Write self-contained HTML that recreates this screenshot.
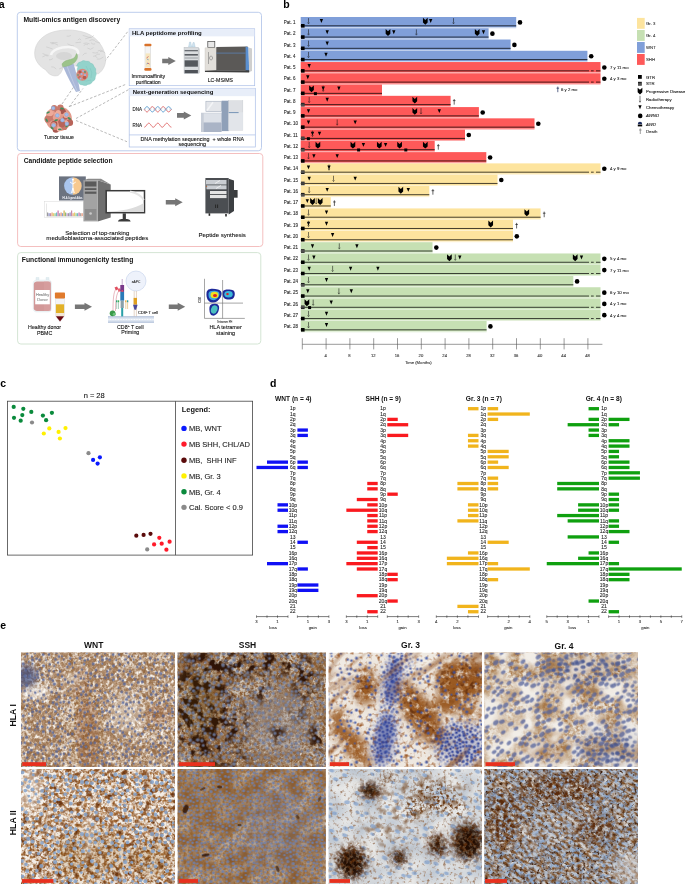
<!DOCTYPE html><html><head><meta charset="utf-8"><style>
html,body{margin:0;padding:0;background:#fff;width:685px;height:884px;overflow:hidden;}
svg{position:absolute;left:0;top:0;font-family:"Liberation Sans", sans-serif;will-change:transform;}
</style></head><body>
<svg width="685" height="884" viewBox="0 0 685 884">
<text x="-1.2" y="7.8" font-size="10.5" font-weight="bold">a</text>
<text x="283.2" y="7.7" font-size="10.5" font-weight="bold">b</text>
<text x="0.3" y="386.9" font-size="10.5" font-weight="bold">c</text>
<text x="270" y="386.9" font-size="10.5" font-weight="bold">d</text>
<text x="0.3" y="629" font-size="10.5" font-weight="bold">e</text>
<rect x="300.7" y="17.00" width="215.50" height="10.4" fill="#809fd9"/>
<rect x="300.7" y="27.40" width="215.50" height="0.86" fill="#c4d2ee"/>
<rect x="300.7" y="25.30" width="215.50" height="1.0" fill="#000" fill-opacity="0.72"/>
<text x="283.8" y="24.00" font-size="4.5" fill="#2a2a2a" stroke="#2a2a2a" stroke-width="0.1">Pat. 1</text>
<rect x="301.00" y="24.00" width="3.6" height="3.6" fill="#000"/>
<path d="M308.50,18.10V22.70" stroke="#111" stroke-width="0.55" fill="none"/><path d="M307.70,22.50L308.50,23.90L309.30,22.50" stroke="#111" stroke-width="0.55" fill="none"/>
<path d="M319.75,19.05h3.30l-1.65,3.90z" fill="#000"/>
<path d="M422.95,17.85 L425.30,20.06 L427.65,17.85 L427.65,22.54 L425.30,24.75 L422.95,22.54Z" fill="#000"/>
<path d="M429.05,19.05h3.30l-1.65,3.90z" fill="#000"/>
<path d="M453.50,18.10V22.70" stroke="#111" stroke-width="0.55" fill="none"/><path d="M452.70,22.50L453.50,23.90L454.30,22.50" stroke="#111" stroke-width="0.55" fill="none"/>
<circle cx="520.00" cy="22.40" r="2.3" fill="#000"/>
<rect x="300.7" y="28.26" width="187.90" height="10.4" fill="#809fd9"/>
<rect x="300.7" y="38.66" width="187.90" height="0.86" fill="#c4d2ee"/>
<rect x="300.7" y="36.56" width="187.90" height="1.0" fill="#000" fill-opacity="0.72"/>
<text x="283.8" y="35.26" font-size="4.5" fill="#2a2a2a" stroke="#2a2a2a" stroke-width="0.1">Pat. 2</text>
<rect x="301.00" y="35.26" width="3.6" height="3.6" fill="#000"/>
<path d="M308.50,29.36V33.96" stroke="#111" stroke-width="0.55" fill="none"/><path d="M307.70,33.76L308.50,35.16L309.30,33.76" stroke="#111" stroke-width="0.55" fill="none"/>
<path d="M325.55,30.31h3.30l-1.65,3.90z" fill="#000"/>
<path d="M385.65,29.11 L388.00,31.32 L390.35,29.11 L390.35,33.80 L388.00,36.01 L385.65,33.80Z" fill="#000"/>
<path d="M392.15,30.31h3.30l-1.65,3.90z" fill="#000"/>
<path d="M416.40,29.36V33.96" stroke="#111" stroke-width="0.55" fill="none"/><path d="M415.60,33.76L416.40,35.16L417.20,33.76" stroke="#111" stroke-width="0.55" fill="none"/>
<path d="M474.85,29.11 L477.20,31.32 L479.55,29.11 L479.55,33.80 L477.20,36.01 L474.85,33.80Z" fill="#000"/>
<path d="M481.85,30.31h3.30l-1.65,3.90z" fill="#000"/>
<circle cx="492.40" cy="33.66" r="2.3" fill="#000"/>
<rect x="300.7" y="39.52" width="209.90" height="10.4" fill="#809fd9"/>
<rect x="300.7" y="49.92" width="209.90" height="0.86" fill="#c4d2ee"/>
<rect x="300.7" y="47.82" width="209.90" height="1.0" fill="#000" fill-opacity="0.72"/>
<text x="283.8" y="46.52" font-size="4.5" fill="#2a2a2a" stroke="#2a2a2a" stroke-width="0.1">Pat. 3</text>
<rect x="301.00" y="46.52" width="3.6" height="3.6" fill="#000"/>
<path d="M308.50,40.62V45.22" stroke="#111" stroke-width="0.55" fill="none"/><path d="M307.70,45.02L308.50,46.42L309.30,45.02" stroke="#111" stroke-width="0.55" fill="none"/>
<path d="M325.55,41.57h3.30l-1.65,3.90z" fill="#000"/>
<circle cx="514.40" cy="44.92" r="2.3" fill="#000"/>
<rect x="300.7" y="50.78" width="286.70" height="10.4" fill="#809fd9"/>
<rect x="300.7" y="61.18" width="286.70" height="0.86" fill="#c4d2ee"/>
<rect x="300.7" y="59.08" width="286.70" height="1.0" fill="#000" fill-opacity="0.72"/>
<text x="283.8" y="57.78" font-size="4.5" fill="#2a2a2a" stroke="#2a2a2a" stroke-width="0.1">Pat. 4</text>
<rect x="301.00" y="57.78" width="3.6" height="3.6" fill="#000"/>
<path d="M308.50,51.88V56.48" stroke="#111" stroke-width="0.55" fill="none"/><path d="M307.70,56.28L308.50,57.68L309.30,56.28" stroke="#111" stroke-width="0.55" fill="none"/>
<path d="M324.35,52.83h3.30l-1.65,3.90z" fill="#000"/>
<circle cx="591.20" cy="56.18" r="2.3" fill="#000"/>
<rect x="300.7" y="62.04" width="299.80" height="10.4" fill="#fe5959"/>
<rect x="300.7" y="72.44" width="299.80" height="0.86" fill="#fca0a0"/>
<rect x="300.7" y="70.34" width="288.30" height="1.0" fill="#000" fill-opacity="0.72"/>
<rect x="591" y="70.34" width="2.7" height="1.0" fill="#000" fill-opacity="0.72"/>
<rect x="596" y="70.34" width="4.50" height="1.0" fill="#000" fill-opacity="0.72"/>
<text x="283.8" y="69.04" font-size="4.5" fill="#2a2a2a" stroke="#2a2a2a" stroke-width="0.1">Pat. 5</text>
<rect x="301.00" y="69.04" width="3.6" height="3.6" fill="#000"/>
<path d="M307.55,64.09h3.30l-1.65,3.90z" fill="#000"/>
<circle cx="604.30" cy="67.44" r="2.3" fill="#000"/>
<text x="610" y="68.94" font-size="4.3" fill="#222" stroke="#222" stroke-width="0.1">7 y 11 mo</text>
<rect x="300.7" y="73.30" width="299.80" height="10.4" fill="#fe5959"/>
<rect x="300.7" y="83.70" width="299.80" height="0.86" fill="#fca0a0"/>
<rect x="300.7" y="81.60" width="288.30" height="1.0" fill="#000" fill-opacity="0.72"/>
<rect x="591" y="81.60" width="2.7" height="1.0" fill="#000" fill-opacity="0.72"/>
<rect x="596" y="81.60" width="4.50" height="1.0" fill="#000" fill-opacity="0.72"/>
<text x="283.8" y="80.30" font-size="4.5" fill="#2a2a2a" stroke="#2a2a2a" stroke-width="0.1">Pat. 6</text>
<rect x="301.00" y="80.30" width="3.6" height="3.6" fill="#000"/>
<path d="M306.15,75.35h3.30l-1.65,3.90z" fill="#000"/>
<circle cx="604.30" cy="78.70" r="2.3" fill="#000"/>
<text x="610" y="80.20" font-size="4.3" fill="#222" stroke="#222" stroke-width="0.1">4 y 3 mo</text>
<rect x="300.7" y="84.56" width="81.30" height="10.4" fill="#fe5959"/>
<rect x="300.7" y="94.96" width="81.30" height="0.86" fill="#fca0a0"/>
<rect x="300.7" y="92.86" width="81.30" height="1.0" fill="#000" fill-opacity="0.72"/>
<text x="283.8" y="91.56" font-size="4.5" fill="#2a2a2a" stroke="#2a2a2a" stroke-width="0.1">Pat. 7</text>
<rect x="301.00" y="91.56" width="3.6" height="3.6" fill="#000"/>
<path d="M309.15,85.41 L311.50,87.62 L313.85,85.41 L313.85,90.10 L311.50,92.31 L309.15,90.10Z" fill="#000"/>
<rect x="313.90" y="92.16" width="3.0" height="3.0" fill="#000"/>
<path d="M321.55,86.61h3.30l-1.65,3.90z" fill="#000"/>
<path d="M323.20,85.66V90.26" stroke="#111" stroke-width="0.55" fill="none"/><path d="M322.40,90.06L323.20,91.46L324.00,90.06" stroke="#111" stroke-width="0.55" fill="none"/>
<path d="M337.25,86.61h3.30l-1.65,3.90z" fill="#000"/>
<rect x="300.7" y="95.82" width="149.90" height="10.4" fill="#fe5959"/>
<rect x="300.7" y="106.22" width="149.90" height="0.86" fill="#fca0a0"/>
<rect x="300.7" y="104.12" width="149.90" height="1.0" fill="#000" fill-opacity="0.72"/>
<text x="283.8" y="102.82" font-size="4.5" fill="#2a2a2a" stroke="#2a2a2a" stroke-width="0.1">Pat. 8</text>
<rect x="301.00" y="102.82" width="3.6" height="3.6" fill="#1a1a1a"/><rect x="301.00" y="103.90" width="3.6" height="0.43" fill="#999"/><rect x="301.00" y="104.98" width="3.6" height="0.43" fill="#999"/>
<path d="M309.20,96.92V101.52" stroke="#111" stroke-width="0.55" fill="none"/><path d="M308.40,101.32L309.20,102.72L310.00,101.32" stroke="#111" stroke-width="0.55" fill="none"/>
<path d="M325.55,97.87h3.30l-1.65,3.90z" fill="#000"/>
<path d="M412.45,96.67 L414.80,98.88 L417.15,96.67 L417.15,101.36 L414.80,103.57 L412.45,101.36Z" fill="#000"/>
<path d="M454.20,99.02V104.62M452.90,100.62H455.50" stroke="#222" stroke-width="0.7" fill="none"/>
<rect x="300.7" y="107.08" width="178.20" height="10.4" fill="#fe5959"/>
<rect x="300.7" y="117.48" width="178.20" height="0.86" fill="#fca0a0"/>
<rect x="300.7" y="115.38" width="178.20" height="1.0" fill="#000" fill-opacity="0.72"/>
<text x="283.8" y="114.08" font-size="4.5" fill="#2a2a2a" stroke="#2a2a2a" stroke-width="0.1">Pat. 9</text>
<rect x="301.00" y="114.08" width="3.6" height="3.6" fill="#000"/>
<path d="M306.85,109.13h3.30l-1.65,3.90z" fill="#000"/>
<path d="M412.45,107.93 L414.80,110.14 L417.15,107.93 L417.15,112.62 L414.80,114.83 L412.45,112.62Z" fill="#000"/>
<path d="M421.00,108.18V112.78" stroke="#111" stroke-width="0.55" fill="none"/><path d="M420.20,112.58L421.00,113.98L421.80,112.58" stroke="#111" stroke-width="0.55" fill="none"/>
<path d="M437.65,109.13h3.30l-1.65,3.90z" fill="#000"/>
<circle cx="482.70" cy="112.48" r="2.3" fill="#000"/>
<rect x="300.7" y="118.34" width="233.80" height="10.4" fill="#fe5959"/>
<rect x="300.7" y="128.74" width="233.80" height="0.86" fill="#fca0a0"/>
<rect x="300.7" y="126.64" width="233.80" height="1.0" fill="#000" fill-opacity="0.72"/>
<text x="283.8" y="125.34" font-size="4.5" fill="#2a2a2a" stroke="#2a2a2a" stroke-width="0.1">Pat. 10</text>
<rect x="301.00" y="125.34" width="3.6" height="3.6" fill="#000"/>
<path d="M306.85,120.39h3.30l-1.65,3.90z" fill="#000"/>
<path d="M337.20,119.44V124.04" stroke="#111" stroke-width="0.55" fill="none"/><path d="M336.40,123.84L337.20,125.24L338.00,123.84" stroke="#111" stroke-width="0.55" fill="none"/>
<path d="M353.55,120.39h3.30l-1.65,3.90z" fill="#000"/>
<circle cx="538.30" cy="123.74" r="2.3" fill="#000"/>
<rect x="300.7" y="129.60" width="164.30" height="10.4" fill="#fe5959"/>
<rect x="300.7" y="140.00" width="164.30" height="0.86" fill="#fca0a0"/>
<rect x="300.7" y="137.90" width="164.30" height="1.0" fill="#000" fill-opacity="0.72"/>
<text x="283.8" y="136.60" font-size="4.5" fill="#2a2a2a" stroke="#2a2a2a" stroke-width="0.1">Pat. 11</text>
<rect x="301.00" y="136.60" width="3.6" height="3.6" fill="#1a1a1a"/><rect x="301.00" y="137.68" width="3.6" height="0.43" fill="#999"/><rect x="301.00" y="138.76" width="3.6" height="0.43" fill="#999"/>
<rect x="306.90" y="137.20" width="3.0" height="3.0" fill="#000"/>
<path d="M310.85,131.65h3.30l-1.65,3.90z" fill="#000"/>
<path d="M312.50,130.70V135.30" stroke="#111" stroke-width="0.55" fill="none"/><path d="M311.70,135.10L312.50,136.50L313.30,135.10" stroke="#111" stroke-width="0.55" fill="none"/>
<path d="M317.85,131.65h3.30l-1.65,3.90z" fill="#000"/>
<circle cx="468.80" cy="135.00" r="2.3" fill="#000"/>
<rect x="300.7" y="140.86" width="134.00" height="10.4" fill="#fe5959"/>
<rect x="300.7" y="151.26" width="134.00" height="0.86" fill="#fca0a0"/>
<rect x="300.7" y="149.16" width="134.00" height="1.0" fill="#000" fill-opacity="0.72"/>
<text x="283.8" y="147.86" font-size="4.5" fill="#2a2a2a" stroke="#2a2a2a" stroke-width="0.1">Pat. 12</text>
<rect x="301.00" y="147.86" width="3.6" height="3.6" fill="#1a1a1a"/><rect x="301.00" y="148.94" width="3.6" height="0.43" fill="#999"/><rect x="301.00" y="150.02" width="3.6" height="0.43" fill="#999"/>
<path d="M309.20,141.96V146.56" stroke="#111" stroke-width="0.55" fill="none"/><path d="M308.40,146.36L309.20,147.76L310.00,146.36" stroke="#111" stroke-width="0.55" fill="none"/>
<path d="M315.55,141.71 L317.90,143.92 L320.25,141.71 L320.25,146.40 L317.90,148.61 L315.55,146.40Z" fill="#000"/>
<path d="M350.55,141.71 L352.90,143.92 L355.25,141.71 L355.25,146.40 L352.90,148.61 L350.55,146.40Z" fill="#000"/>
<rect x="357.10" y="148.46" width="3.0" height="3.0" fill="#000"/>
<path d="M361.75,142.91h3.30l-1.65,3.90z" fill="#000"/>
<path d="M376.95,141.71 L379.30,143.92 L381.65,141.71 L381.65,146.40 L379.30,148.61 L376.95,146.40Z" fill="#000"/>
<path d="M383.95,142.91h3.30l-1.65,3.90z" fill="#000"/>
<path d="M397.25,141.71 L399.60,143.92 L401.95,141.71 L401.95,146.40 L399.60,148.61 L397.25,146.40Z" fill="#000"/>
<rect x="404.30" y="148.46" width="3.0" height="3.0" fill="#000"/>
<path d="M422.95,141.71 L425.30,143.92 L427.65,141.71 L427.65,146.40 L425.30,148.61 L422.95,146.40Z" fill="#000"/>
<path d="M438.30,144.06V149.66M437.00,145.66H439.60" stroke="#222" stroke-width="0.7" fill="none"/>
<rect x="300.7" y="152.12" width="185.60" height="10.4" fill="#fe5959"/>
<rect x="300.7" y="162.52" width="185.60" height="0.86" fill="#fca0a0"/>
<rect x="300.7" y="160.42" width="185.60" height="1.0" fill="#000" fill-opacity="0.72"/>
<text x="283.8" y="159.12" font-size="4.5" fill="#2a2a2a" stroke="#2a2a2a" stroke-width="0.1">Pat. 13</text>
<rect x="301.00" y="159.12" width="3.6" height="3.6" fill="#000"/>
<path d="M308.50,153.22V157.82" stroke="#111" stroke-width="0.55" fill="none"/><path d="M307.70,157.62L308.50,159.02L309.30,157.62" stroke="#111" stroke-width="0.55" fill="none"/>
<path d="M312.25,154.17h3.30l-1.65,3.90z" fill="#000"/>
<path d="M335.55,154.17h3.30l-1.65,3.90z" fill="#000"/>
<circle cx="490.10" cy="157.52" r="2.3" fill="#000"/>
<rect x="300.7" y="163.38" width="299.80" height="10.4" fill="#fde49e"/>
<rect x="300.7" y="173.78" width="299.80" height="0.86" fill="#fdf0cc"/>
<rect x="300.7" y="171.68" width="288.30" height="1.0" fill="#000" fill-opacity="0.72"/>
<rect x="591" y="171.68" width="2.7" height="1.0" fill="#000" fill-opacity="0.72"/>
<rect x="596" y="171.68" width="4.50" height="1.0" fill="#000" fill-opacity="0.72"/>
<text x="283.8" y="170.38" font-size="4.5" fill="#2a2a2a" stroke="#2a2a2a" stroke-width="0.1">Pat. 14</text>
<rect x="301.00" y="170.38" width="3.6" height="3.6" fill="#1a1a1a"/><rect x="301.00" y="171.46" width="3.6" height="0.43" fill="#999"/><rect x="301.00" y="172.54" width="3.6" height="0.43" fill="#999"/>
<path d="M306.85,165.43h3.30l-1.65,3.90z" fill="#000"/>
<path d="M327.35,165.43h3.30l-1.65,3.90z" fill="#000"/>
<path d="M329.00,164.48V169.08" stroke="#111" stroke-width="0.55" fill="none"/><path d="M328.20,168.88L329.00,170.28L329.80,168.88" stroke="#111" stroke-width="0.55" fill="none"/>
<circle cx="604.30" cy="168.78" r="2.3" fill="#000"/>
<text x="610" y="170.28" font-size="4.3" fill="#222" stroke="#222" stroke-width="0.1">4 y 9 mo</text>
<rect x="300.7" y="174.64" width="196.80" height="10.4" fill="#fde49e"/>
<rect x="300.7" y="185.04" width="196.80" height="0.86" fill="#fdf0cc"/>
<rect x="300.7" y="182.94" width="196.80" height="1.0" fill="#000" fill-opacity="0.72"/>
<text x="283.8" y="181.64" font-size="4.5" fill="#2a2a2a" stroke="#2a2a2a" stroke-width="0.1">Pat. 15</text>
<rect x="301.00" y="181.64" width="3.6" height="3.6" fill="#1a1a1a"/><rect x="301.00" y="182.72" width="3.6" height="0.43" fill="#999"/><rect x="301.00" y="183.80" width="3.6" height="0.43" fill="#999"/>
<path d="M307.55,176.69h3.30l-1.65,3.90z" fill="#000"/>
<path d="M333.50,175.74V180.34" stroke="#111" stroke-width="0.55" fill="none"/><path d="M332.70,180.14L333.50,181.54L334.30,180.14" stroke="#111" stroke-width="0.55" fill="none"/>
<path d="M353.55,176.69h3.30l-1.65,3.90z" fill="#000"/>
<circle cx="501.30" cy="180.04" r="2.3" fill="#000"/>
<rect x="300.7" y="185.90" width="128.60" height="10.4" fill="#fde49e"/>
<rect x="300.7" y="196.30" width="128.60" height="0.86" fill="#fdf0cc"/>
<rect x="300.7" y="194.20" width="128.60" height="1.0" fill="#000" fill-opacity="0.72"/>
<text x="283.8" y="192.90" font-size="4.5" fill="#2a2a2a" stroke="#2a2a2a" stroke-width="0.1">Pat. 16</text>
<rect x="301.00" y="192.90" width="3.6" height="3.6" fill="#1a1a1a"/><rect x="301.00" y="193.98" width="3.6" height="0.43" fill="#999"/><rect x="301.00" y="195.06" width="3.6" height="0.43" fill="#999"/>
<path d="M309.20,187.00V191.60" stroke="#111" stroke-width="0.55" fill="none"/><path d="M308.40,191.40L309.20,192.80L310.00,191.40" stroke="#111" stroke-width="0.55" fill="none"/>
<path d="M325.55,187.95h3.30l-1.65,3.90z" fill="#000"/>
<path d="M398.45,186.75 L400.80,188.96 L403.15,186.75 L403.15,191.44 L400.80,193.65 L398.45,191.44Z" fill="#000"/>
<path d="M406.65,187.95h3.30l-1.65,3.90z" fill="#000"/>
<path d="M432.90,189.10V194.70M431.60,190.70H434.20" stroke="#222" stroke-width="0.7" fill="none"/>
<rect x="300.7" y="197.16" width="30.10" height="10.4" fill="#fde49e"/>
<rect x="300.7" y="207.56" width="30.10" height="0.86" fill="#fdf0cc"/>
<rect x="300.7" y="205.46" width="30.10" height="1.0" fill="#000" fill-opacity="0.72"/>
<text x="283.8" y="204.16" font-size="4.5" fill="#2a2a2a" stroke="#2a2a2a" stroke-width="0.1">Pat. 17</text>
<rect x="301.00" y="204.16" width="3.6" height="3.6" fill="#000"/>
<path d="M305.65,199.21h3.30l-1.65,3.90z" fill="#000"/>
<path d="M310.15,198.01 L312.50,200.22 L314.85,198.01 L314.85,202.70 L312.50,204.91 L310.15,202.70Z" fill="#000"/>
<path d="M316.20,198.26V202.86" stroke="#111" stroke-width="0.55" fill="none"/><path d="M315.40,202.66L316.20,204.06L317.00,202.66" stroke="#111" stroke-width="0.55" fill="none"/>
<path d="M317.85,198.01 L320.20,200.22 L322.55,198.01 L322.55,202.70 L320.20,204.91 L317.85,202.70Z" fill="#000"/>
<path d="M334.40,200.36V205.96M333.10,201.96H335.70" stroke="#222" stroke-width="0.7" fill="none"/>
<rect x="300.7" y="208.42" width="239.90" height="10.4" fill="#fde49e"/>
<rect x="300.7" y="218.82" width="239.90" height="0.86" fill="#fdf0cc"/>
<rect x="300.7" y="216.72" width="239.90" height="1.0" fill="#000" fill-opacity="0.72"/>
<text x="283.8" y="215.42" font-size="4.5" fill="#2a2a2a" stroke="#2a2a2a" stroke-width="0.1">Pat. 18</text>
<rect x="301.00" y="215.42" width="3.6" height="3.6" fill="#000"/>
<path d="M308.50,209.52V214.12" stroke="#111" stroke-width="0.55" fill="none"/><path d="M307.70,213.92L308.50,215.32L309.30,213.92" stroke="#111" stroke-width="0.55" fill="none"/>
<path d="M324.85,210.47h3.30l-1.65,3.90z" fill="#000"/>
<path d="M524.45,209.27 L526.80,211.48 L529.15,209.27 L529.15,213.96 L526.80,216.17 L524.45,213.96Z" fill="#000"/>
<path d="M544.20,211.62V217.22M542.90,213.22H545.50" stroke="#222" stroke-width="0.7" fill="none"/>
<rect x="300.7" y="219.68" width="212.30" height="10.4" fill="#fde49e"/>
<rect x="300.7" y="230.08" width="212.30" height="0.86" fill="#fdf0cc"/>
<rect x="300.7" y="227.98" width="212.30" height="1.0" fill="#000" fill-opacity="0.72"/>
<text x="283.8" y="226.68" font-size="4.5" fill="#2a2a2a" stroke="#2a2a2a" stroke-width="0.1">Pat. 19</text>
<rect x="301.00" y="226.68" width="3.6" height="3.6" fill="#000"/>
<path d="M306.85,221.73h3.30l-1.65,3.90z" fill="#000"/>
<path d="M308.50,220.78V225.38" stroke="#111" stroke-width="0.55" fill="none"/><path d="M307.70,225.18L308.50,226.58L309.30,225.18" stroke="#111" stroke-width="0.55" fill="none"/>
<path d="M324.85,221.73h3.30l-1.65,3.90z" fill="#000"/>
<path d="M488.35,220.53 L490.70,222.74 L493.05,220.53 L493.05,225.22 L490.70,227.43 L488.35,225.22Z" fill="#000"/>
<path d="M516.60,222.88V228.48M515.30,224.48H517.90" stroke="#222" stroke-width="0.7" fill="none"/>
<rect x="300.7" y="230.94" width="212.30" height="10.4" fill="#fde49e"/>
<rect x="300.7" y="241.34" width="212.30" height="0.86" fill="#fdf0cc"/>
<rect x="300.7" y="239.24" width="212.30" height="1.0" fill="#000" fill-opacity="0.72"/>
<text x="283.8" y="237.94" font-size="4.5" fill="#2a2a2a" stroke="#2a2a2a" stroke-width="0.1">Pat. 20</text>
<rect x="301.00" y="237.94" width="3.6" height="3.6" fill="#000"/>
<path d="M308.50,232.04V236.64" stroke="#111" stroke-width="0.55" fill="none"/><path d="M307.70,236.44L308.50,237.84L309.30,236.44" stroke="#111" stroke-width="0.55" fill="none"/>
<path d="M330.95,232.99h3.30l-1.65,3.90z" fill="#000"/>
<circle cx="516.80" cy="236.34" r="2.3" fill="#000"/>
<rect x="300.7" y="242.20" width="131.80" height="10.4" fill="#c6e0b3"/>
<rect x="300.7" y="252.60" width="131.80" height="0.86" fill="#e0eed6"/>
<rect x="300.7" y="250.50" width="131.80" height="1.0" fill="#000" fill-opacity="0.72"/>
<text x="283.8" y="249.20" font-size="4.5" fill="#2a2a2a" stroke="#2a2a2a" stroke-width="0.1">Pat. 21</text>
<rect x="301.00" y="249.20" width="3.6" height="3.6" fill="#1a1a1a"/><rect x="301.00" y="250.28" width="3.6" height="0.43" fill="#999"/><rect x="301.00" y="251.36" width="3.6" height="0.43" fill="#999"/>
<path d="M310.85,244.25h3.30l-1.65,3.90z" fill="#000"/>
<path d="M339.30,243.30V247.90" stroke="#111" stroke-width="0.55" fill="none"/><path d="M338.50,247.70L339.30,249.10L340.10,247.70" stroke="#111" stroke-width="0.55" fill="none"/>
<path d="M355.25,244.25h3.30l-1.65,3.90z" fill="#000"/>
<circle cx="436.30" cy="247.60" r="2.3" fill="#000"/>
<rect x="300.7" y="253.46" width="299.80" height="10.4" fill="#c6e0b3"/>
<rect x="300.7" y="263.86" width="299.80" height="0.86" fill="#e0eed6"/>
<rect x="300.7" y="261.76" width="288.30" height="1.0" fill="#000" fill-opacity="0.72"/>
<rect x="591" y="261.76" width="2.7" height="1.0" fill="#000" fill-opacity="0.72"/>
<rect x="596" y="261.76" width="4.50" height="1.0" fill="#000" fill-opacity="0.72"/>
<text x="283.8" y="260.46" font-size="4.5" fill="#2a2a2a" stroke="#2a2a2a" stroke-width="0.1">Pat. 22</text>
<rect x="301.00" y="260.46" width="3.6" height="3.6" fill="#000"/>
<path d="M308.50,254.56V259.16" stroke="#111" stroke-width="0.55" fill="none"/><path d="M307.70,258.96L308.50,260.36L309.30,258.96" stroke="#111" stroke-width="0.55" fill="none"/>
<path d="M312.25,255.51h3.30l-1.65,3.90z" fill="#000"/>
<path d="M447.05,254.31 L449.40,256.52 L451.75,254.31 L451.75,259.00 L449.40,261.21 L447.05,259.00Z" fill="#000"/>
<path d="M455.30,254.56V259.16" stroke="#111" stroke-width="0.55" fill="none"/><path d="M454.50,258.96L455.30,260.36L456.10,258.96" stroke="#111" stroke-width="0.55" fill="none"/>
<path d="M458.15,255.51h3.30l-1.65,3.90z" fill="#000"/>
<path d="M572.85,254.31 L575.20,256.52 L577.55,254.31 L577.55,259.00 L575.20,261.21 L572.85,259.00Z" fill="#000"/>
<path d="M579.85,255.51h3.30l-1.65,3.90z" fill="#000"/>
<circle cx="604.30" cy="258.86" r="2.3" fill="#000"/>
<text x="610" y="260.36" font-size="4.3" fill="#222" stroke="#222" stroke-width="0.1">5 y 4 mo</text>
<rect x="300.7" y="264.72" width="299.80" height="10.4" fill="#c6e0b3"/>
<rect x="300.7" y="275.12" width="299.80" height="0.86" fill="#e0eed6"/>
<rect x="300.7" y="273.02" width="288.30" height="1.0" fill="#000" fill-opacity="0.72"/>
<rect x="591" y="273.02" width="2.7" height="1.0" fill="#000" fill-opacity="0.72"/>
<rect x="596" y="273.02" width="4.50" height="1.0" fill="#000" fill-opacity="0.72"/>
<text x="283.8" y="271.72" font-size="4.5" fill="#2a2a2a" stroke="#2a2a2a" stroke-width="0.1">Pat. 23</text>
<rect x="301.00" y="271.72" width="3.6" height="3.6" fill="#000"/>
<path d="M307.55,266.77h3.30l-1.65,3.90z" fill="#000"/>
<path d="M332.60,265.82V270.42" stroke="#111" stroke-width="0.55" fill="none"/><path d="M331.80,270.22L332.60,271.62L333.40,270.22" stroke="#111" stroke-width="0.55" fill="none"/>
<path d="M348.95,266.77h3.30l-1.65,3.90z" fill="#000"/>
<path d="M376.25,266.77h3.30l-1.65,3.90z" fill="#000"/>
<circle cx="604.30" cy="270.12" r="2.3" fill="#000"/>
<text x="610" y="271.62" font-size="4.3" fill="#222" stroke="#222" stroke-width="0.1">7 y 11 mo</text>
<rect x="300.7" y="275.98" width="272.60" height="10.4" fill="#c6e0b3"/>
<rect x="300.7" y="286.38" width="272.60" height="0.86" fill="#e0eed6"/>
<rect x="300.7" y="284.28" width="272.60" height="1.0" fill="#000" fill-opacity="0.72"/>
<text x="283.8" y="282.98" font-size="4.5" fill="#2a2a2a" stroke="#2a2a2a" stroke-width="0.1">Pat. 24</text>
<rect x="301.00" y="282.98" width="3.6" height="3.6" fill="#1a1a1a"/><rect x="301.00" y="284.06" width="3.6" height="0.43" fill="#999"/><rect x="301.00" y="285.14" width="3.6" height="0.43" fill="#999"/>
<path d="M308.50,277.08V281.68" stroke="#111" stroke-width="0.55" fill="none"/><path d="M307.70,281.48L308.50,282.88L309.30,281.48" stroke="#111" stroke-width="0.55" fill="none"/>
<path d="M324.85,278.03h3.30l-1.65,3.90z" fill="#000"/>
<circle cx="577.10" cy="281.38" r="2.3" fill="#000"/>
<rect x="300.7" y="287.24" width="299.80" height="10.4" fill="#c6e0b3"/>
<rect x="300.7" y="297.64" width="299.80" height="0.86" fill="#e0eed6"/>
<rect x="300.7" y="295.54" width="288.30" height="1.0" fill="#000" fill-opacity="0.72"/>
<rect x="591" y="295.54" width="2.7" height="1.0" fill="#000" fill-opacity="0.72"/>
<rect x="596" y="295.54" width="4.50" height="1.0" fill="#000" fill-opacity="0.72"/>
<text x="283.8" y="294.24" font-size="4.5" fill="#2a2a2a" stroke="#2a2a2a" stroke-width="0.1">Pat. 25</text>
<rect x="301.00" y="294.24" width="3.6" height="3.6" fill="#000"/>
<path d="M306.15,289.29h3.30l-1.65,3.90z" fill="#000"/>
<path d="M338.90,288.34V292.94" stroke="#111" stroke-width="0.55" fill="none"/><path d="M338.10,292.74L338.90,294.14L339.70,292.74" stroke="#111" stroke-width="0.55" fill="none"/>
<path d="M349.65,289.29h3.30l-1.65,3.90z" fill="#000"/>
<circle cx="604.30" cy="292.64" r="2.3" fill="#000"/>
<text x="610" y="294.14" font-size="4.3" fill="#222" stroke="#222" stroke-width="0.1">6 y 10 mo</text>
<rect x="300.7" y="298.50" width="299.80" height="10.4" fill="#c6e0b3"/>
<rect x="300.7" y="308.90" width="299.80" height="0.86" fill="#e0eed6"/>
<rect x="300.7" y="306.80" width="288.30" height="1.0" fill="#000" fill-opacity="0.72"/>
<rect x="591" y="306.80" width="2.7" height="1.0" fill="#000" fill-opacity="0.72"/>
<rect x="596" y="306.80" width="4.50" height="1.0" fill="#000" fill-opacity="0.72"/>
<text x="283.8" y="305.50" font-size="4.5" fill="#2a2a2a" stroke="#2a2a2a" stroke-width="0.1">Pat. 26</text>
<rect x="301.00" y="305.50" width="3.6" height="3.6" fill="#1a1a1a"/><rect x="301.00" y="306.58" width="3.6" height="0.43" fill="#999"/><rect x="301.00" y="307.66" width="3.6" height="0.43" fill="#999"/>
<path d="M304.55,299.35 L306.90,301.56 L309.25,299.35 L309.25,304.04 L306.90,306.25 L304.55,304.04Z" fill="#000"/>
<rect x="308.10" y="306.10" width="3.0" height="3.0" fill="#000"/>
<path d="M313.20,299.60V304.20" stroke="#111" stroke-width="0.55" fill="none"/><path d="M312.40,304.00L313.20,305.40L314.00,304.00" stroke="#111" stroke-width="0.55" fill="none"/>
<path d="M329.55,300.55h3.30l-1.65,3.90z" fill="#000"/>
<circle cx="604.30" cy="303.90" r="2.3" fill="#000"/>
<text x="610" y="305.40" font-size="4.3" fill="#222" stroke="#222" stroke-width="0.1">4 y 1 mo</text>
<rect x="300.7" y="309.76" width="299.80" height="10.4" fill="#c6e0b3"/>
<rect x="300.7" y="320.16" width="299.80" height="0.86" fill="#e0eed6"/>
<rect x="300.7" y="318.06" width="288.30" height="1.0" fill="#000" fill-opacity="0.72"/>
<rect x="591" y="318.06" width="2.7" height="1.0" fill="#000" fill-opacity="0.72"/>
<rect x="596" y="318.06" width="4.50" height="1.0" fill="#000" fill-opacity="0.72"/>
<text x="283.8" y="316.76" font-size="4.5" fill="#2a2a2a" stroke="#2a2a2a" stroke-width="0.1">Pat. 27</text>
<rect x="301.00" y="316.76" width="3.6" height="3.6" fill="#000"/>
<path d="M308.50,310.86V315.46" stroke="#111" stroke-width="0.55" fill="none"/><path d="M307.70,315.26L308.50,316.66L309.30,315.26" stroke="#111" stroke-width="0.55" fill="none"/>
<path d="M324.85,311.81h3.30l-1.65,3.90z" fill="#000"/>
<circle cx="604.30" cy="315.16" r="2.3" fill="#000"/>
<text x="610" y="316.66" font-size="4.3" fill="#222" stroke="#222" stroke-width="0.1">4 y 4 mo</text>
<rect x="300.7" y="321.02" width="185.90" height="10.4" fill="#c6e0b3"/>
<rect x="300.7" y="331.42" width="185.90" height="0.86" fill="#e0eed6"/>
<rect x="300.7" y="329.32" width="185.90" height="1.0" fill="#000" fill-opacity="0.72"/>
<text x="283.8" y="328.02" font-size="4.5" fill="#2a2a2a" stroke="#2a2a2a" stroke-width="0.1">Pat. 28</text>
<rect x="301.00" y="328.02" width="3.6" height="3.6" fill="#000"/>
<path d="M308.50,322.12V326.72" stroke="#111" stroke-width="0.55" fill="none"/><path d="M307.70,326.52L308.50,327.92L309.30,326.52" stroke="#111" stroke-width="0.55" fill="none"/>
<path d="M324.85,323.07h3.30l-1.65,3.90z" fill="#000"/>
<circle cx="490.40" cy="326.42" r="2.3" fill="#000"/>
<path d="M557.80,86.60V92.20M556.50,88.20H559.10" stroke="#1a2a5a" stroke-width="0.7" fill="none"/>
<text x="561" y="90.9" font-size="4.3" fill="#222" stroke="#222" stroke-width="0.1">6 y 2 mo</text>
<path d="M302.3,344.3H602.4" stroke="#555" stroke-width="0.6"/>
<path d="M302.30,338.2V349.4" stroke="#555" stroke-width="0.6"/>
<path d="M326.10,338.2V349.4" stroke="#555" stroke-width="0.6"/>
<text x="325.70" y="357" font-size="4.2" fill="#333" text-anchor="middle" stroke="#333" stroke-width="0.1">4</text>
<path d="M349.90,338.2V349.4" stroke="#555" stroke-width="0.6"/>
<text x="349.50" y="357" font-size="4.2" fill="#333" text-anchor="middle" stroke="#333" stroke-width="0.1">8</text>
<path d="M373.70,338.2V349.4" stroke="#555" stroke-width="0.6"/>
<text x="373.30" y="357" font-size="4.2" fill="#333" text-anchor="middle" stroke="#333" stroke-width="0.1">12</text>
<path d="M397.50,338.2V349.4" stroke="#555" stroke-width="0.6"/>
<text x="397.10" y="357" font-size="4.2" fill="#333" text-anchor="middle" stroke="#333" stroke-width="0.1">16</text>
<path d="M421.30,338.2V349.4" stroke="#555" stroke-width="0.6"/>
<text x="420.90" y="357" font-size="4.2" fill="#333" text-anchor="middle" stroke="#333" stroke-width="0.1">20</text>
<path d="M445.10,338.2V349.4" stroke="#555" stroke-width="0.6"/>
<text x="444.70" y="357" font-size="4.2" fill="#333" text-anchor="middle" stroke="#333" stroke-width="0.1">24</text>
<path d="M468.90,338.2V349.4" stroke="#555" stroke-width="0.6"/>
<text x="468.50" y="357" font-size="4.2" fill="#333" text-anchor="middle" stroke="#333" stroke-width="0.1">28</text>
<path d="M492.70,338.2V349.4" stroke="#555" stroke-width="0.6"/>
<text x="492.30" y="357" font-size="4.2" fill="#333" text-anchor="middle" stroke="#333" stroke-width="0.1">32</text>
<path d="M516.50,338.2V349.4" stroke="#555" stroke-width="0.6"/>
<text x="516.10" y="357" font-size="4.2" fill="#333" text-anchor="middle" stroke="#333" stroke-width="0.1">36</text>
<path d="M540.30,338.2V349.4" stroke="#555" stroke-width="0.6"/>
<text x="539.90" y="357" font-size="4.2" fill="#333" text-anchor="middle" stroke="#333" stroke-width="0.1">40</text>
<path d="M564.10,338.2V349.4" stroke="#555" stroke-width="0.6"/>
<text x="563.70" y="357" font-size="4.2" fill="#333" text-anchor="middle" stroke="#333" stroke-width="0.1">44</text>
<path d="M587.90,338.2V349.4" stroke="#555" stroke-width="0.6"/>
<text x="587.50" y="357" font-size="4.2" fill="#333" text-anchor="middle" stroke="#333" stroke-width="0.1">48</text>
<text x="418.3" y="363.9" font-size="4.2" fill="#333" text-anchor="middle" stroke="#333" stroke-width="0.1">Time (Months)</text>
<rect x="637" y="17.9" width="7.7" height="10.9" fill="#fde49e"/>
<text x="646" y="24.9" font-size="4.3" fill="#333" stroke="#333" stroke-width="0.1">Gr. 3</text>
<rect x="637" y="30" width="7.7" height="10.9" fill="#c6e0b3"/>
<text x="646" y="37.0" font-size="4.3" fill="#333" stroke="#333" stroke-width="0.1">Gr. 4</text>
<rect x="637" y="42" width="7.7" height="10.9" fill="#809fd9"/>
<text x="646" y="49.0" font-size="4.3" fill="#333" stroke="#333" stroke-width="0.1">WNT</text>
<rect x="637" y="54" width="7.7" height="10.9" fill="#fe5959"/>
<text x="646" y="61.0" font-size="4.3" fill="#333" stroke="#333" stroke-width="0.1">SHH</text>
<rect x="638.00" y="75.00" width="3.8" height="3.8" fill="#000"/>
<text x="646" y="78.5" font-size="4.3" fill="#222" stroke="#222" stroke-width="0.1">GTR</text>
<rect x="638.00" y="81.80" width="3.8" height="3.8" fill="#1a1a1a"/><rect x="638.00" y="82.94" width="3.8" height="0.46" fill="#999"/><rect x="638.00" y="84.08" width="3.8" height="0.46" fill="#999"/>
<text x="646" y="85.3" font-size="4.3" fill="#222" stroke="#222" stroke-width="0.1">STR</text>
<path d="M637.65,87.65 L640.00,89.86 L642.35,87.65 L642.35,92.34 L640.00,94.55 L637.65,92.34Z" fill="#000"/>
<text x="646" y="92.7" font-size="4.3" fill="#222" stroke="#222" stroke-width="0.1">Progressive Disease</text>
<path d="M640.00,95.80V101.10" stroke="#111" stroke-width="0.55" fill="none"/><path d="M639.20,100.90L640.00,102.30L640.80,100.90" stroke="#111" stroke-width="0.55" fill="none"/>
<text x="646" y="100.7" font-size="4.3" fill="#222" stroke="#222" stroke-width="0.1">Radiotherapy</text>
<path d="M638.35,105.25h3.30l-1.65,3.90z" fill="#000"/>
<text x="646" y="108.8" font-size="4.3" fill="#222" stroke="#222" stroke-width="0.1">Chemotherapy</text>
<circle cx="640.2" cy="115.9" r="2.3" fill="#000"/>
<text x="646" y="117.4" font-size="4.3" fill="#222" font-style="italic" stroke="#222" stroke-width="0.1">AWND</text>
<path d="M637.8,124.2a2.2,2.4 0 0 1 4.4,0z" fill="#1c2c5c"/><rect x="637.8" y="124.6" width="4.4" height="1.8" fill="#000"/>
<text x="646" y="125.7" font-size="4.3" fill="#222" font-style="italic" stroke="#222" stroke-width="0.1">AWD</text>
<path d="M640.30,128.40V134.00M639.00,130.00H641.60" stroke="#777" stroke-width="0.7" fill="none"/>
<text x="646" y="132.6" font-size="4.3" fill="#333" stroke="#333" stroke-width="0.1">Death</text>
<rect x="7.5" y="401.2" width="245.1" height="153.9" fill="none" stroke="#444" stroke-width="0.8"/>
<path d="M175.5,401.2V555.1" stroke="#444" stroke-width="0.8"/>
<text x="94.2" y="398" font-size="7.5" fill="#111" text-anchor="middle" stroke="#111" stroke-width="0.1">n = 28</text>
<circle cx="13.7" cy="406.9" r="2.1" fill="#0a8a3c"/>
<circle cx="23.3" cy="408.8" r="2.1" fill="#0a8a3c"/>
<circle cx="31.3" cy="411.9" r="2.1" fill="#0a8a3c"/>
<circle cx="14" cy="417.8" r="2.1" fill="#0a8a3c"/>
<circle cx="22.3" cy="415.1" r="2.1" fill="#0a8a3c"/>
<circle cx="20.7" cy="420.7" r="2.1" fill="#0a8a3c"/>
<circle cx="42.9" cy="415.6" r="2.1" fill="#0a8a3c"/>
<circle cx="51.9" cy="412.8" r="2.1" fill="#0a8a3c"/>
<circle cx="46.1" cy="420.2" r="2.1" fill="#0a8a3c"/>
<circle cx="32" cy="422.5" r="2.1" fill="#8a8a8a"/>
<circle cx="88.5" cy="453.2" r="2.1" fill="#8a8a8a"/>
<circle cx="147.2" cy="549.4" r="2.1" fill="#8a8a8a"/>
<circle cx="49.3" cy="428.4" r="2.1" fill="#fff000"/>
<circle cx="43.8" cy="433.5" r="2.1" fill="#fff000"/>
<circle cx="58.6" cy="431.9" r="2.1" fill="#fff000"/>
<circle cx="65.5" cy="428.1" r="2.1" fill="#fff000"/>
<circle cx="59.9" cy="438.5" r="2.1" fill="#fff000"/>
<circle cx="99.9" cy="457.3" r="2.1" fill="#0a1aff"/>
<circle cx="93.1" cy="459.9" r="2.1" fill="#0a1aff"/>
<circle cx="97.6" cy="463.6" r="2.1" fill="#0a1aff"/>
<circle cx="136.3" cy="535.7" r="2.1" fill="#5a0a0a"/>
<circle cx="143.6" cy="534.9" r="2.1" fill="#5a0a0a"/>
<circle cx="150.5" cy="533.8" r="2.1" fill="#5a0a0a"/>
<circle cx="159.3" cy="537.8" r="2.1" fill="#ff1a2a"/>
<circle cx="169.6" cy="541.7" r="2.1" fill="#ff1a2a"/>
<circle cx="154.1" cy="544.4" r="2.1" fill="#ff1a2a"/>
<circle cx="161.7" cy="543.7" r="2.1" fill="#ff1a2a"/>
<circle cx="166.4" cy="549.7" r="2.1" fill="#ff1a2a"/>
<text x="181.8" y="412.4" font-size="7.4" font-weight="bold" fill="#111">Legend:</text>
<circle cx="184" cy="428.4" r="2.7" fill="#0a1aff"/>
<text x="189" y="431.1" font-size="7.5" fill="#222" xml:space="preserve" stroke="#222" stroke-width="0.1">MB, WNT</text>
<circle cx="184" cy="444.1" r="2.7" fill="#ff1a2a"/>
<text x="189" y="446.8" font-size="7.5" fill="#222" xml:space="preserve" stroke="#222" stroke-width="0.1">MB SHH, CHL/AD</text>
<circle cx="184" cy="460.2" r="2.7" fill="#5a0a0a"/>
<text x="189" y="462.9" font-size="7.5" fill="#222" xml:space="preserve" stroke="#222" stroke-width="0.1">MB,  SHH INF</text>
<circle cx="184" cy="475.9" r="2.7" fill="#fff000"/>
<text x="189" y="478.6" font-size="7.5" fill="#222" xml:space="preserve" stroke="#222" stroke-width="0.1">MB, Gr. 3</text>
<circle cx="184" cy="491.8" r="2.7" fill="#0a8a3c"/>
<text x="189" y="494.5" font-size="7.5" fill="#222" xml:space="preserve" stroke="#222" stroke-width="0.1">MB, Gr. 4</text>
<circle cx="184" cy="507.4" r="2.7" fill="#8a8a8a"/>
<text x="189" y="510.1" font-size="7.5" fill="#222" xml:space="preserve" stroke="#222" stroke-width="0.1">Cal. Score &lt; 0.9</text>
<text x="293.3" y="400.9" font-size="6.6" font-weight="bold" fill="#111" text-anchor="middle">WNT (n = 4)</text>
<text x="292.8" y="410.45" font-size="5.0" fill="#2a2a2a" text-anchor="middle" stroke="#2a2a2a" stroke-width="0.1">1p</text>
<text x="292.8" y="415.79" font-size="5.0" fill="#2a2a2a" text-anchor="middle" stroke="#2a2a2a" stroke-width="0.1">1q</text>
<text x="292.8" y="421.14" font-size="5.0" fill="#2a2a2a" text-anchor="middle" stroke="#2a2a2a" stroke-width="0.1">2p</text>
<text x="292.8" y="426.48" font-size="5.0" fill="#2a2a2a" text-anchor="middle" stroke="#2a2a2a" stroke-width="0.1">2q</text>
<text x="292.8" y="431.82" font-size="5.0" fill="#2a2a2a" text-anchor="middle" stroke="#2a2a2a" stroke-width="0.1">3p</text>
<rect x="297.40" y="428.42" width="10.50" height="3.3" fill="#1010f5"/>
<text x="292.8" y="437.16" font-size="5.0" fill="#2a2a2a" text-anchor="middle" stroke="#2a2a2a" stroke-width="0.1">3q</text>
<rect x="297.40" y="433.76" width="10.50" height="3.3" fill="#1010f5"/>
<text x="292.8" y="442.51" font-size="5.0" fill="#2a2a2a" text-anchor="middle" stroke="#2a2a2a" stroke-width="0.1">4p</text>
<text x="292.8" y="447.85" font-size="5.0" fill="#2a2a2a" text-anchor="middle" stroke="#2a2a2a" stroke-width="0.1">4q</text>
<text x="292.8" y="453.19" font-size="5.0" fill="#2a2a2a" text-anchor="middle" stroke="#2a2a2a" stroke-width="0.1">5p</text>
<text x="292.8" y="458.54" font-size="5.0" fill="#2a2a2a" text-anchor="middle" stroke="#2a2a2a" stroke-width="0.1">5q</text>
<text x="292.8" y="463.88" font-size="5.0" fill="#2a2a2a" text-anchor="middle" stroke="#2a2a2a" stroke-width="0.1">6p</text>
<rect x="267.00" y="460.48" width="21.00" height="3.3" fill="#1010f5"/>
<rect x="297.40" y="460.48" width="10.50" height="3.3" fill="#1010f5"/>
<text x="292.8" y="469.22" font-size="5.0" fill="#2a2a2a" text-anchor="middle" stroke="#2a2a2a" stroke-width="0.1">6q</text>
<rect x="256.50" y="465.82" width="31.50" height="3.3" fill="#1010f5"/>
<rect x="297.40" y="465.82" width="10.50" height="3.3" fill="#1010f5"/>
<text x="292.8" y="474.57" font-size="5.0" fill="#2a2a2a" text-anchor="middle" stroke="#2a2a2a" stroke-width="0.1">7p</text>
<text x="292.8" y="479.91" font-size="5.0" fill="#2a2a2a" text-anchor="middle" stroke="#2a2a2a" stroke-width="0.1">7q</text>
<text x="292.8" y="485.25" font-size="5.0" fill="#2a2a2a" text-anchor="middle" stroke="#2a2a2a" stroke-width="0.1">8p</text>
<text x="292.8" y="490.59" font-size="5.0" fill="#2a2a2a" text-anchor="middle" stroke="#2a2a2a" stroke-width="0.1">8q</text>
<text x="292.8" y="495.94" font-size="5.0" fill="#2a2a2a" text-anchor="middle" stroke="#2a2a2a" stroke-width="0.1">9p</text>
<text x="292.8" y="501.28" font-size="5.0" fill="#2a2a2a" text-anchor="middle" stroke="#2a2a2a" stroke-width="0.1">9q</text>
<text x="292.8" y="506.62" font-size="5.0" fill="#2a2a2a" text-anchor="middle" stroke="#2a2a2a" stroke-width="0.1">10p</text>
<rect x="277.50" y="503.22" width="10.50" height="3.3" fill="#1010f5"/>
<text x="292.8" y="511.97" font-size="5.0" fill="#2a2a2a" text-anchor="middle" stroke="#2a2a2a" stroke-width="0.1">10q</text>
<rect x="277.50" y="508.57" width="10.50" height="3.3" fill="#1010f5"/>
<text x="292.8" y="517.31" font-size="5.0" fill="#2a2a2a" text-anchor="middle" stroke="#2a2a2a" stroke-width="0.1">11p</text>
<text x="292.8" y="522.65" font-size="5.0" fill="#2a2a2a" text-anchor="middle" stroke="#2a2a2a" stroke-width="0.1">11q</text>
<text x="292.8" y="528.00" font-size="5.0" fill="#2a2a2a" text-anchor="middle" stroke="#2a2a2a" stroke-width="0.1">12p</text>
<rect x="277.50" y="524.60" width="10.50" height="3.3" fill="#1010f5"/>
<text x="292.8" y="533.34" font-size="5.0" fill="#2a2a2a" text-anchor="middle" stroke="#2a2a2a" stroke-width="0.1">12q</text>
<rect x="277.50" y="529.94" width="10.50" height="3.3" fill="#1010f5"/>
<text x="292.8" y="538.68" font-size="5.0" fill="#2a2a2a" text-anchor="middle" stroke="#2a2a2a" stroke-width="0.1">13</text>
<text x="292.8" y="544.02" font-size="5.0" fill="#2a2a2a" text-anchor="middle" stroke="#2a2a2a" stroke-width="0.1">14</text>
<rect x="297.40" y="540.62" width="10.50" height="3.3" fill="#1010f5"/>
<text x="292.8" y="549.37" font-size="5.0" fill="#2a2a2a" text-anchor="middle" stroke="#2a2a2a" stroke-width="0.1">15</text>
<text x="292.8" y="554.71" font-size="5.0" fill="#2a2a2a" text-anchor="middle" stroke="#2a2a2a" stroke-width="0.1">16p</text>
<text x="292.8" y="560.05" font-size="5.0" fill="#2a2a2a" text-anchor="middle" stroke="#2a2a2a" stroke-width="0.1">16q</text>
<text x="292.8" y="565.40" font-size="5.0" fill="#2a2a2a" text-anchor="middle" stroke="#2a2a2a" stroke-width="0.1">17p</text>
<rect x="267.00" y="562.00" width="21.00" height="3.3" fill="#1010f5"/>
<text x="292.8" y="570.74" font-size="5.0" fill="#2a2a2a" text-anchor="middle" stroke="#2a2a2a" stroke-width="0.1">17q</text>
<rect x="297.40" y="567.34" width="10.50" height="3.3" fill="#1010f5"/>
<text x="292.8" y="576.08" font-size="5.0" fill="#2a2a2a" text-anchor="middle" stroke="#2a2a2a" stroke-width="0.1">18p</text>
<text x="292.8" y="581.43" font-size="5.0" fill="#2a2a2a" text-anchor="middle" stroke="#2a2a2a" stroke-width="0.1">18q</text>
<text x="292.8" y="586.77" font-size="5.0" fill="#2a2a2a" text-anchor="middle" stroke="#2a2a2a" stroke-width="0.1">19p</text>
<rect x="297.40" y="583.37" width="21.00" height="3.3" fill="#1010f5"/>
<text x="292.8" y="592.11" font-size="5.0" fill="#2a2a2a" text-anchor="middle" stroke="#2a2a2a" stroke-width="0.1">19q</text>
<rect x="297.40" y="588.71" width="21.00" height="3.3" fill="#1010f5"/>
<text x="292.8" y="597.45" font-size="5.0" fill="#2a2a2a" text-anchor="middle" stroke="#2a2a2a" stroke-width="0.1">20p</text>
<text x="292.8" y="602.80" font-size="5.0" fill="#2a2a2a" text-anchor="middle" stroke="#2a2a2a" stroke-width="0.1">20q</text>
<text x="292.8" y="608.14" font-size="5.0" fill="#2a2a2a" text-anchor="middle" stroke="#2a2a2a" stroke-width="0.1">21</text>
<text x="292.8" y="613.48" font-size="5.0" fill="#2a2a2a" text-anchor="middle" stroke="#2a2a2a" stroke-width="0.1">22</text>
<path d="M256.50,616.6H288.00M297.40,616.6H328.90" stroke="#222" stroke-width="0.6"/>
<path d="M288.00,615.3000000000001V617.9" stroke="#222" stroke-width="0.5"/>
<path d="M277.50,615.3000000000001V617.9" stroke="#222" stroke-width="0.5"/>
<path d="M267.00,615.3000000000001V617.9" stroke="#222" stroke-width="0.5"/>
<path d="M256.50,615.3000000000001V617.9" stroke="#222" stroke-width="0.5"/>
<path d="M297.40,615.3000000000001V617.9" stroke="#222" stroke-width="0.5"/>
<path d="M307.90,615.3000000000001V617.9" stroke="#222" stroke-width="0.5"/>
<path d="M318.40,615.3000000000001V617.9" stroke="#222" stroke-width="0.5"/>
<path d="M328.90,615.3000000000001V617.9" stroke="#222" stroke-width="0.5"/>
<text x="256.50" y="623.2" font-size="4.3" fill="#333" text-anchor="middle" stroke="#333" stroke-width="0.1">3</text>
<text x="277.50" y="623.2" font-size="4.3" fill="#333" text-anchor="middle" stroke="#333" stroke-width="0.1">1</text>
<text x="307.90" y="623.2" font-size="4.3" fill="#333" text-anchor="middle" stroke="#333" stroke-width="0.1">1</text>
<text x="328.90" y="623.2" font-size="4.3" fill="#333" text-anchor="middle" stroke="#333" stroke-width="0.1">3</text>
<text x="273" y="629.3" font-size="4.3" fill="#333" text-anchor="middle" stroke="#333" stroke-width="0.1">loss</text>
<text x="312.8" y="629.3" font-size="4.3" fill="#333" text-anchor="middle" stroke="#333" stroke-width="0.1">gain</text>
<text x="383.2" y="400.9" font-size="6.6" font-weight="bold" fill="#111" text-anchor="middle">SHH (n = 9)</text>
<text x="383.0" y="410.45" font-size="5.0" fill="#2a2a2a" text-anchor="middle" stroke="#2a2a2a" stroke-width="0.1">1p</text>
<text x="383.0" y="415.79" font-size="5.0" fill="#2a2a2a" text-anchor="middle" stroke="#2a2a2a" stroke-width="0.1">1q</text>
<text x="383.0" y="421.14" font-size="5.0" fill="#2a2a2a" text-anchor="middle" stroke="#2a2a2a" stroke-width="0.1">2p</text>
<rect x="387.30" y="417.74" width="10.45" height="3.3" fill="#fa1a1f"/>
<text x="383.0" y="426.48" font-size="5.0" fill="#2a2a2a" text-anchor="middle" stroke="#2a2a2a" stroke-width="0.1">2q</text>
<rect x="387.30" y="423.08" width="20.90" height="3.3" fill="#fa1a1f"/>
<text x="383.0" y="431.82" font-size="5.0" fill="#2a2a2a" text-anchor="middle" stroke="#2a2a2a" stroke-width="0.1">3p</text>
<text x="383.0" y="437.16" font-size="5.0" fill="#2a2a2a" text-anchor="middle" stroke="#2a2a2a" stroke-width="0.1">3q</text>
<rect x="387.30" y="433.76" width="20.90" height="3.3" fill="#fa1a1f"/>
<text x="383.0" y="442.51" font-size="5.0" fill="#2a2a2a" text-anchor="middle" stroke="#2a2a2a" stroke-width="0.1">4p</text>
<text x="383.0" y="447.85" font-size="5.0" fill="#2a2a2a" text-anchor="middle" stroke="#2a2a2a" stroke-width="0.1">4q</text>
<text x="383.0" y="453.19" font-size="5.0" fill="#2a2a2a" text-anchor="middle" stroke="#2a2a2a" stroke-width="0.1">5p</text>
<text x="383.0" y="458.54" font-size="5.0" fill="#2a2a2a" text-anchor="middle" stroke="#2a2a2a" stroke-width="0.1">5q</text>
<text x="383.0" y="463.88" font-size="5.0" fill="#2a2a2a" text-anchor="middle" stroke="#2a2a2a" stroke-width="0.1">6p</text>
<text x="383.0" y="469.22" font-size="5.0" fill="#2a2a2a" text-anchor="middle" stroke="#2a2a2a" stroke-width="0.1">6q</text>
<text x="383.0" y="474.57" font-size="5.0" fill="#2a2a2a" text-anchor="middle" stroke="#2a2a2a" stroke-width="0.1">7p</text>
<text x="383.0" y="479.91" font-size="5.0" fill="#2a2a2a" text-anchor="middle" stroke="#2a2a2a" stroke-width="0.1">7q</text>
<text x="383.0" y="485.25" font-size="5.0" fill="#2a2a2a" text-anchor="middle" stroke="#2a2a2a" stroke-width="0.1">8p</text>
<rect x="367.25" y="481.85" width="10.45" height="3.3" fill="#fa1a1f"/>
<text x="383.0" y="490.59" font-size="5.0" fill="#2a2a2a" text-anchor="middle" stroke="#2a2a2a" stroke-width="0.1">8q</text>
<rect x="367.25" y="487.19" width="10.45" height="3.3" fill="#fa1a1f"/>
<text x="383.0" y="495.94" font-size="5.0" fill="#2a2a2a" text-anchor="middle" stroke="#2a2a2a" stroke-width="0.1">9p</text>
<rect x="387.30" y="492.54" width="10.45" height="3.3" fill="#fa1a1f"/>
<text x="383.0" y="501.28" font-size="5.0" fill="#2a2a2a" text-anchor="middle" stroke="#2a2a2a" stroke-width="0.1">9q</text>
<rect x="356.80" y="497.88" width="20.90" height="3.3" fill="#fa1a1f"/>
<text x="383.0" y="506.62" font-size="5.0" fill="#2a2a2a" text-anchor="middle" stroke="#2a2a2a" stroke-width="0.1">10p</text>
<rect x="367.25" y="503.22" width="10.45" height="3.3" fill="#fa1a1f"/>
<text x="383.0" y="511.97" font-size="5.0" fill="#2a2a2a" text-anchor="middle" stroke="#2a2a2a" stroke-width="0.1">10q</text>
<rect x="346.35" y="508.57" width="31.35" height="3.3" fill="#fa1a1f"/>
<text x="383.0" y="517.31" font-size="5.0" fill="#2a2a2a" text-anchor="middle" stroke="#2a2a2a" stroke-width="0.1">11p</text>
<rect x="367.25" y="513.91" width="10.45" height="3.3" fill="#fa1a1f"/>
<text x="383.0" y="522.65" font-size="5.0" fill="#2a2a2a" text-anchor="middle" stroke="#2a2a2a" stroke-width="0.1">11q</text>
<rect x="367.25" y="519.25" width="10.45" height="3.3" fill="#fa1a1f"/>
<text x="383.0" y="528.00" font-size="5.0" fill="#2a2a2a" text-anchor="middle" stroke="#2a2a2a" stroke-width="0.1">12p</text>
<rect x="367.25" y="524.60" width="10.45" height="3.3" fill="#fa1a1f"/>
<text x="383.0" y="533.34" font-size="5.0" fill="#2a2a2a" text-anchor="middle" stroke="#2a2a2a" stroke-width="0.1">12q</text>
<rect x="367.25" y="529.94" width="10.45" height="3.3" fill="#fa1a1f"/>
<text x="383.0" y="538.68" font-size="5.0" fill="#2a2a2a" text-anchor="middle" stroke="#2a2a2a" stroke-width="0.1">13</text>
<text x="383.0" y="544.02" font-size="5.0" fill="#2a2a2a" text-anchor="middle" stroke="#2a2a2a" stroke-width="0.1">14</text>
<rect x="356.80" y="540.62" width="20.90" height="3.3" fill="#fa1a1f"/>
<text x="383.0" y="549.37" font-size="5.0" fill="#2a2a2a" text-anchor="middle" stroke="#2a2a2a" stroke-width="0.1">15</text>
<rect x="367.25" y="545.97" width="10.45" height="3.3" fill="#fa1a1f"/>
<text x="383.0" y="554.71" font-size="5.0" fill="#2a2a2a" text-anchor="middle" stroke="#2a2a2a" stroke-width="0.1">16p</text>
<rect x="356.80" y="551.31" width="20.90" height="3.3" fill="#fa1a1f"/>
<text x="383.0" y="560.05" font-size="5.0" fill="#2a2a2a" text-anchor="middle" stroke="#2a2a2a" stroke-width="0.1">16q</text>
<rect x="356.80" y="556.65" width="20.90" height="3.3" fill="#fa1a1f"/>
<text x="383.0" y="565.40" font-size="5.0" fill="#2a2a2a" text-anchor="middle" stroke="#2a2a2a" stroke-width="0.1">17p</text>
<rect x="346.35" y="562.00" width="31.35" height="3.3" fill="#fa1a1f"/>
<text x="383.0" y="570.74" font-size="5.0" fill="#2a2a2a" text-anchor="middle" stroke="#2a2a2a" stroke-width="0.1">17q</text>
<rect x="356.80" y="567.34" width="20.90" height="3.3" fill="#fa1a1f"/>
<text x="383.0" y="576.08" font-size="5.0" fill="#2a2a2a" text-anchor="middle" stroke="#2a2a2a" stroke-width="0.1">18p</text>
<rect x="387.30" y="572.68" width="10.45" height="3.3" fill="#fa1a1f"/>
<text x="383.0" y="581.43" font-size="5.0" fill="#2a2a2a" text-anchor="middle" stroke="#2a2a2a" stroke-width="0.1">18q</text>
<rect x="387.30" y="578.03" width="10.45" height="3.3" fill="#fa1a1f"/>
<text x="383.0" y="586.77" font-size="5.0" fill="#2a2a2a" text-anchor="middle" stroke="#2a2a2a" stroke-width="0.1">19p</text>
<text x="383.0" y="592.11" font-size="5.0" fill="#2a2a2a" text-anchor="middle" stroke="#2a2a2a" stroke-width="0.1">19q</text>
<text x="383.0" y="597.45" font-size="5.0" fill="#2a2a2a" text-anchor="middle" stroke="#2a2a2a" stroke-width="0.1">20p</text>
<rect x="356.80" y="594.05" width="20.90" height="3.3" fill="#fa1a1f"/>
<text x="383.0" y="602.80" font-size="5.0" fill="#2a2a2a" text-anchor="middle" stroke="#2a2a2a" stroke-width="0.1">20q</text>
<rect x="387.30" y="599.40" width="10.45" height="3.3" fill="#fa1a1f"/>
<text x="383.0" y="608.14" font-size="5.0" fill="#2a2a2a" text-anchor="middle" stroke="#2a2a2a" stroke-width="0.1">21</text>
<text x="383.0" y="613.48" font-size="5.0" fill="#2a2a2a" text-anchor="middle" stroke="#2a2a2a" stroke-width="0.1">22</text>
<rect x="367.25" y="610.08" width="10.45" height="3.3" fill="#fa1a1f"/>
<path d="M346.35,616.6H377.70M387.30,616.6H418.65" stroke="#222" stroke-width="0.6"/>
<path d="M377.70,615.3000000000001V617.9" stroke="#222" stroke-width="0.5"/>
<path d="M367.25,615.3000000000001V617.9" stroke="#222" stroke-width="0.5"/>
<path d="M356.80,615.3000000000001V617.9" stroke="#222" stroke-width="0.5"/>
<path d="M346.35,615.3000000000001V617.9" stroke="#222" stroke-width="0.5"/>
<path d="M387.30,615.3000000000001V617.9" stroke="#222" stroke-width="0.5"/>
<path d="M397.75,615.3000000000001V617.9" stroke="#222" stroke-width="0.5"/>
<path d="M408.20,615.3000000000001V617.9" stroke="#222" stroke-width="0.5"/>
<path d="M418.65,615.3000000000001V617.9" stroke="#222" stroke-width="0.5"/>
<text x="346.35" y="623.2" font-size="4.3" fill="#333" text-anchor="middle" stroke="#333" stroke-width="0.1">3</text>
<text x="367.25" y="623.2" font-size="4.3" fill="#333" text-anchor="middle" stroke="#333" stroke-width="0.1">1</text>
<text x="397.75" y="623.2" font-size="4.3" fill="#333" text-anchor="middle" stroke="#333" stroke-width="0.1">1</text>
<text x="418.65" y="623.2" font-size="4.3" fill="#333" text-anchor="middle" stroke="#333" stroke-width="0.1">3</text>
<text x="363" y="629.3" font-size="4.3" fill="#333" text-anchor="middle" stroke="#333" stroke-width="0.1">loss</text>
<text x="402.5" y="629.3" font-size="4.3" fill="#333" text-anchor="middle" stroke="#333" stroke-width="0.1">gain</text>
<text x="483.9" y="400.9" font-size="6.6" font-weight="bold" fill="#111" text-anchor="middle">Gr. 3 (n = 7)</text>
<text x="483.3" y="410.45" font-size="5.0" fill="#2a2a2a" text-anchor="middle" stroke="#2a2a2a" stroke-width="0.1">1p</text>
<rect x="467.95" y="407.05" width="10.55" height="3.3" fill="#f1b41c"/>
<rect x="487.60" y="407.05" width="10.55" height="3.3" fill="#f1b41c"/>
<text x="483.3" y="415.79" font-size="5.0" fill="#2a2a2a" text-anchor="middle" stroke="#2a2a2a" stroke-width="0.1">1q</text>
<rect x="487.60" y="412.39" width="42.20" height="3.3" fill="#f1b41c"/>
<text x="483.3" y="421.14" font-size="5.0" fill="#2a2a2a" text-anchor="middle" stroke="#2a2a2a" stroke-width="0.1">2p</text>
<rect x="487.60" y="417.74" width="10.55" height="3.3" fill="#f1b41c"/>
<text x="483.3" y="426.48" font-size="5.0" fill="#2a2a2a" text-anchor="middle" stroke="#2a2a2a" stroke-width="0.1">2q</text>
<text x="483.3" y="431.82" font-size="5.0" fill="#2a2a2a" text-anchor="middle" stroke="#2a2a2a" stroke-width="0.1">3p</text>
<text x="483.3" y="437.16" font-size="5.0" fill="#2a2a2a" text-anchor="middle" stroke="#2a2a2a" stroke-width="0.1">3q</text>
<rect x="467.95" y="433.76" width="10.55" height="3.3" fill="#f1b41c"/>
<text x="483.3" y="442.51" font-size="5.0" fill="#2a2a2a" text-anchor="middle" stroke="#2a2a2a" stroke-width="0.1">4p</text>
<rect x="467.95" y="439.11" width="10.55" height="3.3" fill="#f1b41c"/>
<text x="483.3" y="447.85" font-size="5.0" fill="#2a2a2a" text-anchor="middle" stroke="#2a2a2a" stroke-width="0.1">4q</text>
<rect x="467.95" y="444.45" width="10.55" height="3.3" fill="#f1b41c"/>
<text x="483.3" y="453.19" font-size="5.0" fill="#2a2a2a" text-anchor="middle" stroke="#2a2a2a" stroke-width="0.1">5p</text>
<rect x="487.60" y="449.79" width="21.10" height="3.3" fill="#f1b41c"/>
<text x="483.3" y="458.54" font-size="5.0" fill="#2a2a2a" text-anchor="middle" stroke="#2a2a2a" stroke-width="0.1">5q</text>
<rect x="487.60" y="455.14" width="21.10" height="3.3" fill="#f1b41c"/>
<text x="483.3" y="463.88" font-size="5.0" fill="#2a2a2a" text-anchor="middle" stroke="#2a2a2a" stroke-width="0.1">6p</text>
<rect x="487.60" y="460.48" width="10.55" height="3.3" fill="#f1b41c"/>
<text x="483.3" y="469.22" font-size="5.0" fill="#2a2a2a" text-anchor="middle" stroke="#2a2a2a" stroke-width="0.1">6q</text>
<rect x="487.60" y="465.82" width="21.10" height="3.3" fill="#f1b41c"/>
<text x="483.3" y="474.57" font-size="5.0" fill="#2a2a2a" text-anchor="middle" stroke="#2a2a2a" stroke-width="0.1">7p</text>
<text x="483.3" y="479.91" font-size="5.0" fill="#2a2a2a" text-anchor="middle" stroke="#2a2a2a" stroke-width="0.1">7q</text>
<rect x="487.60" y="476.51" width="10.55" height="3.3" fill="#f1b41c"/>
<text x="483.3" y="485.25" font-size="5.0" fill="#2a2a2a" text-anchor="middle" stroke="#2a2a2a" stroke-width="0.1">8p</text>
<rect x="457.40" y="481.85" width="21.10" height="3.3" fill="#f1b41c"/>
<rect x="487.60" y="481.85" width="10.55" height="3.3" fill="#f1b41c"/>
<text x="483.3" y="490.59" font-size="5.0" fill="#2a2a2a" text-anchor="middle" stroke="#2a2a2a" stroke-width="0.1">8q</text>
<rect x="457.40" y="487.19" width="21.10" height="3.3" fill="#f1b41c"/>
<rect x="487.60" y="487.19" width="10.55" height="3.3" fill="#f1b41c"/>
<text x="483.3" y="495.94" font-size="5.0" fill="#2a2a2a" text-anchor="middle" stroke="#2a2a2a" stroke-width="0.1">9p</text>
<text x="483.3" y="501.28" font-size="5.0" fill="#2a2a2a" text-anchor="middle" stroke="#2a2a2a" stroke-width="0.1">9q</text>
<text x="483.3" y="506.62" font-size="5.0" fill="#2a2a2a" text-anchor="middle" stroke="#2a2a2a" stroke-width="0.1">10p</text>
<rect x="467.95" y="503.22" width="10.55" height="3.3" fill="#f1b41c"/>
<text x="483.3" y="511.97" font-size="5.0" fill="#2a2a2a" text-anchor="middle" stroke="#2a2a2a" stroke-width="0.1">10q</text>
<rect x="467.95" y="508.57" width="10.55" height="3.3" fill="#f1b41c"/>
<text x="483.3" y="517.31" font-size="5.0" fill="#2a2a2a" text-anchor="middle" stroke="#2a2a2a" stroke-width="0.1">11p</text>
<rect x="467.95" y="513.91" width="10.55" height="3.3" fill="#f1b41c"/>
<text x="483.3" y="522.65" font-size="5.0" fill="#2a2a2a" text-anchor="middle" stroke="#2a2a2a" stroke-width="0.1">11q</text>
<rect x="457.40" y="519.25" width="21.10" height="3.3" fill="#f1b41c"/>
<text x="483.3" y="528.00" font-size="5.0" fill="#2a2a2a" text-anchor="middle" stroke="#2a2a2a" stroke-width="0.1">12p</text>
<text x="483.3" y="533.34" font-size="5.0" fill="#2a2a2a" text-anchor="middle" stroke="#2a2a2a" stroke-width="0.1">12q</text>
<text x="483.3" y="538.68" font-size="5.0" fill="#2a2a2a" text-anchor="middle" stroke="#2a2a2a" stroke-width="0.1">13</text>
<text x="483.3" y="544.02" font-size="5.0" fill="#2a2a2a" text-anchor="middle" stroke="#2a2a2a" stroke-width="0.1">14</text>
<rect x="487.60" y="540.62" width="21.10" height="3.3" fill="#f1b41c"/>
<text x="483.3" y="549.37" font-size="5.0" fill="#2a2a2a" text-anchor="middle" stroke="#2a2a2a" stroke-width="0.1">15</text>
<text x="483.3" y="554.71" font-size="5.0" fill="#2a2a2a" text-anchor="middle" stroke="#2a2a2a" stroke-width="0.1">16p</text>
<rect x="467.95" y="551.31" width="10.55" height="3.3" fill="#f1b41c"/>
<text x="483.3" y="560.05" font-size="5.0" fill="#2a2a2a" text-anchor="middle" stroke="#2a2a2a" stroke-width="0.1">16q</text>
<rect x="446.85" y="556.65" width="31.65" height="3.3" fill="#f1b41c"/>
<text x="483.3" y="565.40" font-size="5.0" fill="#2a2a2a" text-anchor="middle" stroke="#2a2a2a" stroke-width="0.1">17p</text>
<rect x="446.85" y="562.00" width="31.65" height="3.3" fill="#f1b41c"/>
<rect x="487.60" y="562.00" width="10.55" height="3.3" fill="#f1b41c"/>
<text x="483.3" y="570.74" font-size="5.0" fill="#2a2a2a" text-anchor="middle" stroke="#2a2a2a" stroke-width="0.1">17q</text>
<rect x="487.60" y="567.34" width="42.20" height="3.3" fill="#f1b41c"/>
<text x="483.3" y="576.08" font-size="5.0" fill="#2a2a2a" text-anchor="middle" stroke="#2a2a2a" stroke-width="0.1">18p</text>
<text x="483.3" y="581.43" font-size="5.0" fill="#2a2a2a" text-anchor="middle" stroke="#2a2a2a" stroke-width="0.1">18q</text>
<rect x="487.60" y="578.03" width="10.55" height="3.3" fill="#f1b41c"/>
<text x="483.3" y="586.77" font-size="5.0" fill="#2a2a2a" text-anchor="middle" stroke="#2a2a2a" stroke-width="0.1">19p</text>
<text x="483.3" y="592.11" font-size="5.0" fill="#2a2a2a" text-anchor="middle" stroke="#2a2a2a" stroke-width="0.1">19q</text>
<text x="483.3" y="597.45" font-size="5.0" fill="#2a2a2a" text-anchor="middle" stroke="#2a2a2a" stroke-width="0.1">20p</text>
<text x="483.3" y="602.80" font-size="5.0" fill="#2a2a2a" text-anchor="middle" stroke="#2a2a2a" stroke-width="0.1">20q</text>
<text x="483.3" y="608.14" font-size="5.0" fill="#2a2a2a" text-anchor="middle" stroke="#2a2a2a" stroke-width="0.1">21</text>
<rect x="457.40" y="604.74" width="21.10" height="3.3" fill="#f1b41c"/>
<text x="483.3" y="613.48" font-size="5.0" fill="#2a2a2a" text-anchor="middle" stroke="#2a2a2a" stroke-width="0.1">22</text>
<rect x="467.95" y="610.08" width="10.55" height="3.3" fill="#f1b41c"/>
<path d="M436.30,616.6H478.50M487.60,616.6H529.80" stroke="#222" stroke-width="0.6"/>
<path d="M478.50,615.3000000000001V617.9" stroke="#222" stroke-width="0.5"/>
<path d="M467.95,615.3000000000001V617.9" stroke="#222" stroke-width="0.5"/>
<path d="M457.40,615.3000000000001V617.9" stroke="#222" stroke-width="0.5"/>
<path d="M446.85,615.3000000000001V617.9" stroke="#222" stroke-width="0.5"/>
<path d="M436.30,615.3000000000001V617.9" stroke="#222" stroke-width="0.5"/>
<path d="M487.60,615.3000000000001V617.9" stroke="#222" stroke-width="0.5"/>
<path d="M498.15,615.3000000000001V617.9" stroke="#222" stroke-width="0.5"/>
<path d="M508.70,615.3000000000001V617.9" stroke="#222" stroke-width="0.5"/>
<path d="M519.25,615.3000000000001V617.9" stroke="#222" stroke-width="0.5"/>
<path d="M529.80,615.3000000000001V617.9" stroke="#222" stroke-width="0.5"/>
<text x="436.30" y="623.2" font-size="4.3" fill="#333" text-anchor="middle" stroke="#333" stroke-width="0.1">4</text>
<text x="457.40" y="623.2" font-size="4.3" fill="#333" text-anchor="middle" stroke="#333" stroke-width="0.1">2</text>
<text x="508.70" y="623.2" font-size="4.3" fill="#333" text-anchor="middle" stroke="#333" stroke-width="0.1">2</text>
<text x="529.80" y="623.2" font-size="4.3" fill="#333" text-anchor="middle" stroke="#333" stroke-width="0.1">4</text>
<text x="456.8" y="629.3" font-size="4.3" fill="#333" text-anchor="middle" stroke="#333" stroke-width="0.1">loss</text>
<text x="508.3" y="629.3" font-size="4.3" fill="#333" text-anchor="middle" stroke="#333" stroke-width="0.1">gain</text>
<text x="603.8" y="400.9" font-size="6.6" font-weight="bold" fill="#111" text-anchor="middle">Gr. 4 (n = 8)</text>
<text x="604.0" y="410.45" font-size="5.0" fill="#2a2a2a" text-anchor="middle" stroke="#2a2a2a" stroke-width="0.1">1p</text>
<rect x="588.55" y="407.05" width="10.45" height="3.3" fill="#0fa00f"/>
<text x="604.0" y="415.79" font-size="5.0" fill="#2a2a2a" text-anchor="middle" stroke="#2a2a2a" stroke-width="0.1">1q</text>
<text x="604.0" y="421.14" font-size="5.0" fill="#2a2a2a" text-anchor="middle" stroke="#2a2a2a" stroke-width="0.1">2p</text>
<rect x="588.55" y="417.74" width="10.45" height="3.3" fill="#0fa00f"/>
<rect x="608.60" y="417.74" width="20.90" height="3.3" fill="#0fa00f"/>
<text x="604.0" y="426.48" font-size="5.0" fill="#2a2a2a" text-anchor="middle" stroke="#2a2a2a" stroke-width="0.1">2q</text>
<rect x="567.65" y="423.08" width="31.35" height="3.3" fill="#0fa00f"/>
<rect x="608.60" y="423.08" width="10.45" height="3.3" fill="#0fa00f"/>
<text x="604.0" y="431.82" font-size="5.0" fill="#2a2a2a" text-anchor="middle" stroke="#2a2a2a" stroke-width="0.1">3p</text>
<rect x="588.55" y="428.42" width="10.45" height="3.3" fill="#0fa00f"/>
<text x="604.0" y="437.16" font-size="5.0" fill="#2a2a2a" text-anchor="middle" stroke="#2a2a2a" stroke-width="0.1">3q</text>
<rect x="588.55" y="433.76" width="10.45" height="3.3" fill="#0fa00f"/>
<text x="604.0" y="442.51" font-size="5.0" fill="#2a2a2a" text-anchor="middle" stroke="#2a2a2a" stroke-width="0.1">4p</text>
<rect x="608.60" y="439.11" width="20.90" height="3.3" fill="#0fa00f"/>
<text x="604.0" y="447.85" font-size="5.0" fill="#2a2a2a" text-anchor="middle" stroke="#2a2a2a" stroke-width="0.1">4q</text>
<rect x="608.60" y="444.45" width="20.90" height="3.3" fill="#0fa00f"/>
<text x="604.0" y="453.19" font-size="5.0" fill="#2a2a2a" text-anchor="middle" stroke="#2a2a2a" stroke-width="0.1">5p</text>
<rect x="608.60" y="449.79" width="10.45" height="3.3" fill="#0fa00f"/>
<text x="604.0" y="458.54" font-size="5.0" fill="#2a2a2a" text-anchor="middle" stroke="#2a2a2a" stroke-width="0.1">5q</text>
<rect x="608.60" y="455.14" width="10.45" height="3.3" fill="#0fa00f"/>
<text x="604.0" y="463.88" font-size="5.0" fill="#2a2a2a" text-anchor="middle" stroke="#2a2a2a" stroke-width="0.1">6p</text>
<rect x="608.60" y="460.48" width="20.90" height="3.3" fill="#0fa00f"/>
<text x="604.0" y="469.22" font-size="5.0" fill="#2a2a2a" text-anchor="middle" stroke="#2a2a2a" stroke-width="0.1">6q</text>
<rect x="608.60" y="465.82" width="20.90" height="3.3" fill="#0fa00f"/>
<text x="604.0" y="474.57" font-size="5.0" fill="#2a2a2a" text-anchor="middle" stroke="#2a2a2a" stroke-width="0.1">7p</text>
<rect x="608.60" y="471.17" width="31.35" height="3.3" fill="#0fa00f"/>
<text x="604.0" y="479.91" font-size="5.0" fill="#2a2a2a" text-anchor="middle" stroke="#2a2a2a" stroke-width="0.1">7q</text>
<rect x="608.60" y="476.51" width="31.35" height="3.3" fill="#0fa00f"/>
<text x="604.0" y="485.25" font-size="5.0" fill="#2a2a2a" text-anchor="middle" stroke="#2a2a2a" stroke-width="0.1">8p</text>
<rect x="557.20" y="481.85" width="41.80" height="3.3" fill="#0fa00f"/>
<text x="604.0" y="490.59" font-size="5.0" fill="#2a2a2a" text-anchor="middle" stroke="#2a2a2a" stroke-width="0.1">8q</text>
<rect x="557.20" y="487.19" width="41.80" height="3.3" fill="#0fa00f"/>
<text x="604.0" y="495.94" font-size="5.0" fill="#2a2a2a" text-anchor="middle" stroke="#2a2a2a" stroke-width="0.1">9p</text>
<rect x="608.60" y="492.54" width="10.45" height="3.3" fill="#0fa00f"/>
<text x="604.0" y="501.28" font-size="5.0" fill="#2a2a2a" text-anchor="middle" stroke="#2a2a2a" stroke-width="0.1">9q</text>
<rect x="608.60" y="497.88" width="10.45" height="3.3" fill="#0fa00f"/>
<text x="604.0" y="506.62" font-size="5.0" fill="#2a2a2a" text-anchor="middle" stroke="#2a2a2a" stroke-width="0.1">10p</text>
<rect x="578.10" y="503.22" width="20.90" height="3.3" fill="#0fa00f"/>
<rect x="608.60" y="503.22" width="10.45" height="3.3" fill="#0fa00f"/>
<text x="604.0" y="511.97" font-size="5.0" fill="#2a2a2a" text-anchor="middle" stroke="#2a2a2a" stroke-width="0.1">10q</text>
<rect x="578.10" y="508.57" width="20.90" height="3.3" fill="#0fa00f"/>
<rect x="608.60" y="508.57" width="10.45" height="3.3" fill="#0fa00f"/>
<text x="604.0" y="517.31" font-size="5.0" fill="#2a2a2a" text-anchor="middle" stroke="#2a2a2a" stroke-width="0.1">11p</text>
<rect x="557.20" y="513.91" width="41.80" height="3.3" fill="#0fa00f"/>
<text x="604.0" y="522.65" font-size="5.0" fill="#2a2a2a" text-anchor="middle" stroke="#2a2a2a" stroke-width="0.1">11q</text>
<rect x="567.65" y="519.25" width="31.35" height="3.3" fill="#0fa00f"/>
<rect x="608.60" y="519.25" width="10.45" height="3.3" fill="#0fa00f"/>
<text x="604.0" y="528.00" font-size="5.0" fill="#2a2a2a" text-anchor="middle" stroke="#2a2a2a" stroke-width="0.1">12p</text>
<rect x="608.60" y="524.60" width="10.45" height="3.3" fill="#0fa00f"/>
<text x="604.0" y="533.34" font-size="5.0" fill="#2a2a2a" text-anchor="middle" stroke="#2a2a2a" stroke-width="0.1">12q</text>
<rect x="608.60" y="529.94" width="20.90" height="3.3" fill="#0fa00f"/>
<text x="604.0" y="538.68" font-size="5.0" fill="#2a2a2a" text-anchor="middle" stroke="#2a2a2a" stroke-width="0.1">13</text>
<rect x="567.65" y="535.28" width="31.35" height="3.3" fill="#0fa00f"/>
<text x="604.0" y="544.02" font-size="5.0" fill="#2a2a2a" text-anchor="middle" stroke="#2a2a2a" stroke-width="0.1">14</text>
<rect x="608.60" y="540.62" width="10.45" height="3.3" fill="#0fa00f"/>
<text x="604.0" y="549.37" font-size="5.0" fill="#2a2a2a" text-anchor="middle" stroke="#2a2a2a" stroke-width="0.1">15</text>
<text x="604.0" y="554.71" font-size="5.0" fill="#2a2a2a" text-anchor="middle" stroke="#2a2a2a" stroke-width="0.1">16p</text>
<rect x="588.55" y="551.31" width="10.45" height="3.3" fill="#0fa00f"/>
<text x="604.0" y="560.05" font-size="5.0" fill="#2a2a2a" text-anchor="middle" stroke="#2a2a2a" stroke-width="0.1">16q</text>
<rect x="578.10" y="556.65" width="20.90" height="3.3" fill="#0fa00f"/>
<text x="604.0" y="565.40" font-size="5.0" fill="#2a2a2a" text-anchor="middle" stroke="#2a2a2a" stroke-width="0.1">17p</text>
<rect x="546.75" y="562.00" width="52.25" height="3.3" fill="#0fa00f"/>
<rect x="608.60" y="562.00" width="10.45" height="3.3" fill="#0fa00f"/>
<text x="604.0" y="570.74" font-size="5.0" fill="#2a2a2a" text-anchor="middle" stroke="#2a2a2a" stroke-width="0.1">17q</text>
<rect x="608.60" y="567.34" width="73.15" height="3.3" fill="#0fa00f"/>
<text x="604.0" y="576.08" font-size="5.0" fill="#2a2a2a" text-anchor="middle" stroke="#2a2a2a" stroke-width="0.1">18p</text>
<rect x="608.60" y="572.68" width="20.90" height="3.3" fill="#0fa00f"/>
<text x="604.0" y="581.43" font-size="5.0" fill="#2a2a2a" text-anchor="middle" stroke="#2a2a2a" stroke-width="0.1">18q</text>
<rect x="608.60" y="578.03" width="20.90" height="3.3" fill="#0fa00f"/>
<text x="604.0" y="586.77" font-size="5.0" fill="#2a2a2a" text-anchor="middle" stroke="#2a2a2a" stroke-width="0.1">19p</text>
<text x="604.0" y="592.11" font-size="5.0" fill="#2a2a2a" text-anchor="middle" stroke="#2a2a2a" stroke-width="0.1">19q</text>
<text x="604.0" y="597.45" font-size="5.0" fill="#2a2a2a" text-anchor="middle" stroke="#2a2a2a" stroke-width="0.1">20p</text>
<text x="604.0" y="602.80" font-size="5.0" fill="#2a2a2a" text-anchor="middle" stroke="#2a2a2a" stroke-width="0.1">20q</text>
<rect x="588.55" y="599.40" width="10.45" height="3.3" fill="#0fa00f"/>
<text x="604.0" y="608.14" font-size="5.0" fill="#2a2a2a" text-anchor="middle" stroke="#2a2a2a" stroke-width="0.1">21</text>
<text x="604.0" y="613.48" font-size="5.0" fill="#2a2a2a" text-anchor="middle" stroke="#2a2a2a" stroke-width="0.1">22</text>
<rect x="608.60" y="610.08" width="10.45" height="3.3" fill="#0fa00f"/>
<path d="M546.75,616.6H599.00M608.60,616.6H681.75" stroke="#222" stroke-width="0.6"/>
<path d="M599.00,615.3000000000001V617.9" stroke="#222" stroke-width="0.5"/>
<path d="M588.55,615.3000000000001V617.9" stroke="#222" stroke-width="0.5"/>
<path d="M578.10,615.3000000000001V617.9" stroke="#222" stroke-width="0.5"/>
<path d="M567.65,615.3000000000001V617.9" stroke="#222" stroke-width="0.5"/>
<path d="M557.20,615.3000000000001V617.9" stroke="#222" stroke-width="0.5"/>
<path d="M546.75,615.3000000000001V617.9" stroke="#222" stroke-width="0.5"/>
<path d="M608.60,615.3000000000001V617.9" stroke="#222" stroke-width="0.5"/>
<path d="M619.05,615.3000000000001V617.9" stroke="#222" stroke-width="0.5"/>
<path d="M629.50,615.3000000000001V617.9" stroke="#222" stroke-width="0.5"/>
<path d="M639.95,615.3000000000001V617.9" stroke="#222" stroke-width="0.5"/>
<path d="M650.40,615.3000000000001V617.9" stroke="#222" stroke-width="0.5"/>
<path d="M660.85,615.3000000000001V617.9" stroke="#222" stroke-width="0.5"/>
<path d="M671.30,615.3000000000001V617.9" stroke="#222" stroke-width="0.5"/>
<path d="M681.75,615.3000000000001V617.9" stroke="#222" stroke-width="0.5"/>
<text x="546.75" y="623.2" font-size="4.3" fill="#333" text-anchor="middle" stroke="#333" stroke-width="0.1">5</text>
<text x="567.65" y="623.2" font-size="4.3" fill="#333" text-anchor="middle" stroke="#333" stroke-width="0.1">3</text>
<text x="588.55" y="623.2" font-size="4.3" fill="#333" text-anchor="middle" stroke="#333" stroke-width="0.1">1</text>
<text x="619.05" y="623.2" font-size="4.3" fill="#333" text-anchor="middle" stroke="#333" stroke-width="0.1">1</text>
<text x="639.95" y="623.2" font-size="4.3" fill="#333" text-anchor="middle" stroke="#333" stroke-width="0.1">3</text>
<text x="660.85" y="623.2" font-size="4.3" fill="#333" text-anchor="middle" stroke="#333" stroke-width="0.1">5</text>
<text x="681.75" y="623.2" font-size="4.3" fill="#333" text-anchor="middle" stroke="#333" stroke-width="0.1">7</text>
<text x="572.4" y="629.3" font-size="4.3" fill="#333" text-anchor="middle" stroke="#333" stroke-width="0.1">loss</text>
<text x="645.4" y="629.3" font-size="4.3" fill="#333" text-anchor="middle" stroke="#333" stroke-width="0.1">gain</text>
<rect x="17.3" y="12.3" width="244.2" height="138.5" rx="3.2" fill="none" stroke="#b6c7ea" stroke-width="0.9"/>
<rect x="17.6" y="153.5" width="245.2" height="93" rx="3.2" fill="none" stroke="#f3b8b8" stroke-width="0.9"/>
<rect x="17.6" y="252.6" width="243.2" height="91.4" rx="3.2" fill="none" stroke="#cfe2cf" stroke-width="0.9"/>
<text x="23.4" y="21.6" font-size="6.75" font-weight="bold" fill="#111">Multi-omics antigen discovery</text>
<text x="23.7" y="163.4" font-size="6.7" font-weight="bold" fill="#111">Candidate peptide selection</text>
<text x="21.8" y="262.2" font-size="6.74" font-weight="bold" fill="#111">Functional immunogenicity testing</text>
<path d="M101.7,65.2L128.6,30.5" stroke="#8a8a8a" stroke-width="0.6" stroke-dasharray="2.6 1.8" fill="none"/>
<path d="M69.5,106.5L125.5,84.5" stroke="#8a8a8a" stroke-width="0.6" stroke-dasharray="2.6 1.8" fill="none"/>
<path d="M76,118.5L128.8,89.5" stroke="#8a8a8a" stroke-width="0.6" stroke-dasharray="2.6 1.8" fill="none"/>
<path d="M76,120.5L127,141.7" stroke="#8a8a8a" stroke-width="0.6" stroke-dasharray="2.6 1.8" fill="none"/>
<path d="M62,104L74,86.5" stroke="#8a8a8a" stroke-width="0.6" stroke-dasharray="2.6 1.8" fill="none"/>
<path d="M69,107L83,88.5" stroke="#8a8a8a" stroke-width="0.6" stroke-dasharray="2.6 1.8" fill="none"/>
<path d="M35,57 C33,46 40,37 50,33 C60,29 75,29 86,33 C97,37 104,47 105.5,57 C106.5,64 103,71 98,74 L90,70 C84,67 76,66 70,65 L64,64 C63,68 62,73 58,75.5 C53,77 48,74 46,70 C42,68 37,64 35,57Z" fill="#e3e3e3" stroke="#d2d2d2" stroke-width="0.6"/>
<path d="M98.1,50.8 q2.3,-1.6 4.5,0.3 M89.5,37.4 q2.0,1.5 3.9,-1.6 M83.1,35.5 q3.0,0.8 5.9,1.9 M78.0,39.7 q1.5,-2.2 3.0,0.1 M50.4,42.7 q1.5,-0.3 3.1,-0.1 M92.8,52.7 q2.5,0.8 4.9,-0.0 M67.7,44.0 q3.0,1.7 6.0,2.0 M84.0,45.3 q1.8,-2.1 3.7,-0.8 M87.8,48.4 q2.8,2.3 5.5,-0.5 M51.6,66.8 q2.2,-0.5 4.4,1.9 M42.7,56.7 q2.7,-2.1 5.3,-0.9 M59.6,68.7 q2.6,-1.3 5.3,-1.5 M89.8,40.4 q2.3,-1.5 4.7,-0.2 M85.6,38.7 q2.5,-0.4 4.9,-1.5 M51.8,43.7 q3.0,-1.0 5.9,1.2 M95.5,41.6 q2.1,0.7 4.2,1.4 M51.9,43.3 q2.7,-1.0 5.3,-0.7 M75.9,42.7 q2.4,-0.2 4.8,-0.5 M100.3,51.4 q2.4,-1.6 4.7,1.5 M91.2,43.0 q1.8,2.2 3.6,1.0 M95.3,55.7 q2.1,-2.3 4.3,-1.6 M83.8,43.3 q2.7,-1.0 5.5,0.4 M49.4,59.9 q1.6,0.3 3.2,-1.1 M93.4,56.1 q1.9,-1.5 3.8,1.7 M67.0,36.2 q1.8,0.4 3.5,-0.5 M46.6,47.0 q2.8,0.8 5.7,1.9 M82.9,55.0 q1.7,-2.4 3.4,-1.9 M97.2,59.2 q2.9,0.7 5.9,-1.9 M42.9,53.7 q2.6,1.2 5.2,1.6 M83.7,62.6 q2.9,0.9 5.7,-0.6" stroke="#c6c6c6" stroke-width="0.6" fill="none" stroke-linecap="round"/>
<path d="M51,55 C52,50 60,47 68,47 C75,47 79,50 78,54" stroke="#f6f6f6" stroke-width="2.6" fill="none"/>
<ellipse cx="64" cy="56" rx="8" ry="4" fill="#d6d6d6"/>
<path d="M63,66.5 L73.5,63.5 C76,72 78.5,82 80,91 L76,92 C72,85 67,76 63,66.5Z" fill="#aab8d8"/>
<path d="M67,66 C70,74 73,82 77,91" stroke="#c4cee4" stroke-width="0.8" fill="none"/>
<path d="M62,64 C64,60 70,60 74,58 C76,56 76,54 76.5,53.5 C78,55 78,59 75,62 C72,65 66,67 62.5,66.5Z" fill="#9cc38a" stroke="#86ad74" stroke-width="0.4"/>
<path d="M76.5,66 q1,-4 4.5,-4.2 q2,-2 5,-0.6 q3,-0.5 4.5,1.8 q3,0.5 3.6,3.6 q2.4,2 1.6,5 q1.6,2.6 -0.4,5.4 q0.4,3.2 -2.8,4.6 q-1.2,3 -4.6,2.8 q-2.4,2 -5.2,0.6 q-3,0.4 -4.2,-2.6 q-2.4,-2.2 -1.4,-5.2 q-1.6,-2.8 0.4,-5.6 q-1,-2.6 0.7,-5.4Z" fill="#93d3cb" stroke="#7fc2ba" stroke-width="0.4"/>
<path d="M86,66 q3,4 2,9 M90,68 q3,4 1,10 M82,80 q4,2 9,0" stroke="#7cc0b8" stroke-width="0.4" fill="none"/>
<circle cx="82.3" cy="74.8" r="6" fill="#d98a7f"/>
<circle cx="80" cy="72" r="1.6" fill="#b55b4f"/>
<circle cx="84.5" cy="77.5" r="1.8" fill="#b55b4f"/>
<circle cx="79.5" cy="77.5" r="1.4" fill="#c86a5a"/>
<circle cx="85" cy="72" r="0.9" fill="#4f9a6a"/>
<circle cx="78" cy="75" r="0.8" fill="#4f9a6a"/>
<circle cx="81.5" cy="74" r="1.1" fill="#9bb8e6"/>
<circle cx="85" cy="75" r="1.0" fill="#9bb8e6"/>
<circle cx="80.5" cy="78.5" r="1.0" fill="#9bb8e6"/>
<circle cx="83" cy="71" r="0.9" fill="#9bb8e6"/>
<ellipse cx="58.7" cy="118.7" rx="13.2" ry="12.3" fill="#e29a8b"/>
<circle cx="51.5" cy="112.0" r="3.0" fill="#e8a090"/><circle cx="63.8" cy="111.2" r="2.0" fill="#a85850"/><circle cx="47.3" cy="121.1" r="2.1" fill="#d88878"/><circle cx="62.4" cy="124.0" r="2.3" fill="#e8a090"/><circle cx="50.4" cy="116.5" r="3.0" fill="#b8645a"/><circle cx="55.1" cy="121.0" r="3.1" fill="#e8a090"/><circle cx="64.4" cy="127.2" r="2.9" fill="#c97a6c"/><circle cx="55.3" cy="119.9" r="2.0" fill="#e8a090"/><circle cx="60.4" cy="107.6" r="3.2" fill="#c97a6c"/><circle cx="55.8" cy="129.6" r="3.2" fill="#a85850"/><circle cx="55.6" cy="115.8" r="2.3" fill="#d88878"/><circle cx="65.3" cy="117.3" r="2.5" fill="#b8645a"/><circle cx="60.6" cy="121.8" r="2.5" fill="#b8645a"/><circle cx="62.3" cy="111.1" r="2.9" fill="#a85850"/><circle cx="55.6" cy="123.5" r="2.4" fill="#e8a090"/><circle cx="57.3" cy="114.8" r="3.0" fill="#f2b4a4"/><circle cx="69.8" cy="122.7" r="3.3" fill="#b8645a"/><circle cx="54.3" cy="123.9" r="3.1" fill="#a85850"/><circle cx="52.9" cy="124.9" r="2.6" fill="#b8645a"/><circle cx="56.3" cy="110.3" r="2.2" fill="#c97a6c"/><circle cx="59.0" cy="128.9" r="2.5" fill="#f2b4a4"/><circle cx="53.7" cy="124.9" r="2.6" fill="#e8a090"/><circle cx="49.9" cy="113.4" r="3.2" fill="#eeaa9a"/><circle cx="70.1" cy="121.2" r="2.3" fill="#b8645a"/><circle cx="52.2" cy="118.2" r="2.5" fill="#c97a6c"/><circle cx="66.2" cy="115.0" r="3.0" fill="#eeaa9a"/><circle cx="55.1" cy="128.1" r="2.2" fill="#d88878"/><circle cx="54.2" cy="108.1" r="3.0" fill="#c97a6c"/><circle cx="66.5" cy="122.8" r="2.0" fill="#f2b4a4"/><circle cx="58.3" cy="112.7" r="2.6" fill="#eeaa9a"/><circle cx="56.8" cy="119.7" r="2.0" fill="#d88878"/><circle cx="47.8" cy="119.1" r="3.4" fill="#c97a6c"/><circle cx="55.4" cy="117.4" r="2.6" fill="#e8a090"/><circle cx="62.0" cy="124.3" r="3.2" fill="#b8645a"/>
<ellipse cx="48.1" cy="112.5" rx="1.9" ry="0.9" fill="#3f8f5f" transform="rotate(-20 48.1 112.5)"/>
<ellipse cx="62" cy="108.5" rx="1.9" ry="0.9" fill="#3f8f5f" transform="rotate(10 62 108.5)"/>
<ellipse cx="46.7" cy="120.2" rx="1.9" ry="0.9" fill="#3f8f5f" transform="rotate(60 46.7 120.2)"/>
<ellipse cx="56.2" cy="120.2" rx="1.9" ry="0.9" fill="#3f8f5f" transform="rotate(-10 56.2 120.2)"/>
<ellipse cx="69.3" cy="118.4" rx="1.9" ry="0.9" fill="#3f8f5f" transform="rotate(30 69.3 118.4)"/>
<ellipse cx="59.8" cy="129.3" rx="1.9" ry="0.9" fill="#3f8f5f" transform="rotate(0 59.8 129.3)"/>
<ellipse cx="52" cy="128" rx="1.9" ry="0.9" fill="#3f8f5f" transform="rotate(40 52 128)"/>
<ellipse cx="67" cy="126" rx="1.9" ry="0.9" fill="#3f8f5f" transform="rotate(-30 67 126)"/>
<circle cx="53.2" cy="108.1" r="1.9" fill="#a4bde8" stroke="#7f9cd0" stroke-width="0.4"/>
<circle cx="57.3" cy="115.4" r="1.9" fill="#a4bde8" stroke="#7f9cd0" stroke-width="0.4"/>
<circle cx="66.5" cy="114.6" r="1.9" fill="#a4bde8" stroke="#7f9cd0" stroke-width="0.4"/>
<circle cx="62.4" cy="120.2" r="1.9" fill="#a4bde8" stroke="#7f9cd0" stroke-width="0.4"/>
<circle cx="66.9" cy="123.8" r="1.9" fill="#a4bde8" stroke="#7f9cd0" stroke-width="0.4"/>
<circle cx="53.6" cy="125.3" r="1.9" fill="#a4bde8" stroke="#7f9cd0" stroke-width="0.4"/>
<text x="58.9" y="139.1" font-size="5.2" fill="#111" text-anchor="middle" stroke="#111" stroke-width="0.1">Tumor tissue</text>
<rect x="129.2" y="28.8" width="125.5" height="56.9" fill="#fff" stroke="#aabde6" stroke-width="0.7"/>
<rect x="129.55" y="29.15" width="124.8" height="7.2" fill="#e8eef9"/>
<rect x="129.2" y="88.3" width="126.1" height="58.7" fill="#fff" stroke="#aabde6" stroke-width="0.7"/>
<rect x="129.55" y="88.65" width="125.4" height="7.5" fill="#e8eef9"/>
<path d="M129.2,134.9H255.3" stroke="#aabde6" stroke-width="0.7"/>
<text x="132" y="34.8" font-size="6.0" font-weight="bold" fill="#111">HLA peptidome profiling</text>
<text x="132.7" y="94.4" font-size="6.0" font-weight="bold" fill="#111">Next-generation sequencing</text>
<rect x="145" y="45" width="5.8" height="24.5" fill="#f4f4f4" stroke="#c8c8c8" stroke-width="0.4"/>
<rect x="145.6" y="53.4" width="4.6" height="14" fill="#f6e6bf"/>
<path d="M146.5,58 l2,-1.5 M147.5,63 l2,1" stroke="#d04a4a" stroke-width="0.7"/><path d="M147,59 l1.6,0.8 M146.6,64 l1.5,-0.8" stroke="#4a7ac8" stroke-width="0.6"/>
<rect x="144.3" y="43.7" width="7.2" height="2.6" rx="1.2" fill="#d9722a"/>
<rect x="144.3" y="68.1" width="7.2" height="2.6" rx="1.2" fill="#d9722a"/>
<text x="148.2" y="78.4" font-size="5.2" fill="#111" text-anchor="middle" stroke="#111" stroke-width="0.1">Immunoaffinity</text>
<text x="148.2" y="83.6" font-size="5.2" fill="#111" text-anchor="middle" stroke="#111" stroke-width="0.1">purification</text>
<path d="M162.2,58.7H168.3V57L175.8,61L168.3,65V63.3H162.2Z" fill="#767676"/>
<path d="M177,113.10000000000001H183.8V111.4L191.3,115.4L183.8,119.4V117.7H177Z" fill="#767676"/>
<path d="M165.8,199.89999999999998H175.2V198.2L182.7,202.2L175.2,206.2V204.5H165.8Z" fill="#767676"/>
<path d="M74.9,304.4H84.5V302.7L92,306.7L84.5,310.7V309.0H74.9Z" fill="#767676"/>
<path d="M168.8,304.4H177.7V302.7L185.2,306.7L177.7,310.7V309.0H168.8Z" fill="#767676"/>
<path d="M188.5,47 l1,-5 h1.2 l1,5z M192,47 l1,-4.5 h1.2 l1,4.5z" fill="#cfe3ef" stroke="#9ab8cc" stroke-width="0.3"/>
<rect x="184" y="47.2" width="14.5" height="26.6" fill="#d9dcdf" stroke="#a4a9ae" stroke-width="0.3"/>
<rect x="184.6" y="50" width="13.3" height="1.3" fill="#6a6e74"/>
<rect x="184.6" y="54" width="13.3" height="1.6" fill="#5a5e64"/>
<rect x="184.6" y="57.6" width="13.3" height="0.8" fill="#8a8e94"/>
<rect x="184.6" y="60.3" width="13.3" height="6.4" fill="#55595e"/>
<rect x="184.6" y="70" width="13.3" height="3.2" fill="#4e5258"/>
<path d="M198.5,48 l1,0.6 v24.5 l-1,0.6z" fill="#b4b8bc"/>
<rect x="207.8" y="41.5" width="7" height="5.9" fill="#e8e8e8" stroke="#444" stroke-width="0.7"/>
<rect x="205" y="47.9" width="11.5" height="24" fill="#e2dfda" stroke="#b8b4ae" stroke-width="0.3"/>
<path d="M208.5,52 v12 M211,56 a1.5,2 0 1 0 0.1,0" stroke="#7a7a7a" stroke-width="0.6" fill="none"/>
<path d="M216.3,47 L247.7,46.5 L247.7,70.2 L216.3,70.2Z" fill="#5b5957"/>
<path d="M216.3,53.1 H245.5" stroke="#5b86c0" stroke-width="0.7"/>
<path d="M245.6,46.6 L248.5,47.6 L249.2,72 L245.6,72Z" fill="#5a8fd0"/>
<path d="M248.5,47.6 L252,48.5 L252,71 L249.2,72Z" fill="#cfcfcf"/>
<path d="M205,71.9 L249.2,72.6 L249.2,70.2 L216.3,70.2 L205,70.8Z" fill="#3e3e3e"/>
<text x="220.4" y="81.9" font-size="5.2" fill="#111" text-anchor="middle" stroke="#111" stroke-width="0.1">LC-MS/MS</text>
<text x="132.6" y="110.9" font-size="4.5" fill="#222" stroke="#222" stroke-width="0.1">DNA</text>
<text x="132.6" y="127.4" font-size="4.5" fill="#222" stroke="#222" stroke-width="0.1">RNA</text>
<polyline points="144.30,109.30 144.64,109.81 144.98,110.30 145.32,110.75 145.66,111.14 145.99,111.47 146.33,111.71 146.67,111.85 147.01,111.90 147.35,111.85 147.69,111.69 148.03,111.45 148.37,111.12 148.70,110.72 149.04,110.27 149.38,109.78 149.72,109.27 150.06,108.76 150.40,108.27 150.74,107.83 151.08,107.43 151.41,107.12 151.75,106.88 152.09,106.74 152.43,106.70 152.77,106.76 153.11,106.92 153.45,107.17 153.78,107.50 154.12,107.90 154.46,108.36 154.80,108.85 155.14,109.36 155.48,109.87 155.82,110.35 156.16,110.80 156.50,111.19 156.83,111.50 157.17,111.73 157.51,111.86 157.85,111.90 158.19,111.83 158.53,111.67 158.87,111.42 159.21,111.08 159.54,110.67 159.88,110.21 160.22,109.72 160.56,109.21 160.90,108.70 161.24,108.22 161.58,107.78 161.92,107.39 162.25,107.08 162.59,106.86 162.93,106.73 163.27,106.70 163.61,106.77 163.95,106.94 164.29,107.20 164.62,107.54 164.96,107.95 165.30,108.41 165.64,108.91 165.98,109.42 166.32,109.93 166.66,110.41 167.00,110.85 167.34,111.23 167.67,111.53 168.01,111.75 168.35,111.87 168.69,111.90 169.03,111.82 169.37,111.65 169.71,111.38 170.05,111.03 170.38,110.62 170.72,110.16 171.06,109.66 171.40,109.15" stroke="#d84848" stroke-width="0.8" fill="none"/>
<polyline points="144.30,109.30 144.64,108.79 144.98,108.30 145.32,107.85 145.66,107.46 145.99,107.13 146.33,106.89 146.67,106.75 147.01,106.70 147.35,106.75 147.69,106.91 148.03,107.15 148.37,107.48 148.70,107.88 149.04,108.33 149.38,108.82 149.72,109.33 150.06,109.84 150.40,110.33 150.74,110.77 151.08,111.17 151.41,111.48 151.75,111.72 152.09,111.86 152.43,111.90 152.77,111.84 153.11,111.68 153.45,111.43 153.78,111.10 154.12,110.70 154.46,110.24 154.80,109.75 155.14,109.24 155.48,108.73 155.82,108.25 156.16,107.80 156.50,107.41 156.83,107.10 157.17,106.87 157.51,106.74 157.85,106.70 158.19,106.77 158.53,106.93 158.87,107.18 159.21,107.52 159.54,107.93 159.88,108.39 160.22,108.88 160.56,109.39 160.90,109.90 161.24,110.38 161.58,110.82 161.92,111.21 162.25,111.52 162.59,111.74 162.93,111.87 163.27,111.90 163.61,111.83 163.95,111.66 164.29,111.40 164.62,111.06 164.96,110.65 165.30,110.19 165.64,109.69 165.98,109.18 166.32,108.67 166.66,108.19 167.00,107.75 167.34,107.37 167.67,107.07 168.01,106.85 168.35,106.73 168.69,106.70 169.03,106.78 169.37,106.95 169.71,107.22 170.05,107.57 170.38,107.98 170.72,108.44 171.06,108.94 171.40,109.45" stroke="#3a8ac8" stroke-width="0.8" fill="none"/>
<path d="M145.5,107.6v3.4" stroke="#b8c8d8" stroke-width="0.4"/>
<path d="M148.2,107.6v3.4" stroke="#b8c8d8" stroke-width="0.4"/>
<path d="M150.9,107.6v3.4" stroke="#b8c8d8" stroke-width="0.4"/>
<path d="M153.6,107.6v3.4" stroke="#b8c8d8" stroke-width="0.4"/>
<path d="M156.3,107.6v3.4" stroke="#b8c8d8" stroke-width="0.4"/>
<path d="M159.0,107.6v3.4" stroke="#b8c8d8" stroke-width="0.4"/>
<path d="M161.7,107.6v3.4" stroke="#b8c8d8" stroke-width="0.4"/>
<path d="M164.4,107.6v3.4" stroke="#b8c8d8" stroke-width="0.4"/>
<path d="M167.1,107.6v3.4" stroke="#b8c8d8" stroke-width="0.4"/>
<path d="M169.8,107.6v3.4" stroke="#b8c8d8" stroke-width="0.4"/>
<polyline points="144.30,127.20 144.64,127.14 144.98,126.98 145.32,126.72 145.66,126.37 145.99,125.96 146.33,125.50 146.67,125.03 147.01,124.57 147.35,124.14 147.69,123.77 148.03,123.48 148.37,123.29 148.70,123.20 149.04,123.23 149.38,123.36 149.72,123.60 150.06,123.92 150.40,124.32 150.74,124.77 151.08,125.23 151.41,125.70 151.75,126.14 152.09,126.53 152.43,126.84 152.77,127.06 153.11,127.18 153.45,127.19 153.78,127.09 154.12,126.88 154.46,126.58 154.80,126.20 155.14,125.76 155.48,125.30 155.82,124.83 156.16,124.38 156.50,123.97 156.83,123.64 157.17,123.39 157.51,123.24 157.85,123.20 158.19,123.27 158.53,123.45 158.87,123.73 159.21,124.09 159.54,124.51 159.88,124.97 160.22,125.44 160.56,125.90 160.90,126.32 161.24,126.67 161.58,126.95 161.92,127.13 162.25,127.20 162.59,127.16 162.93,127.01 163.27,126.76 163.61,126.42 163.95,126.02 164.29,125.57 164.62,125.10 164.96,124.63 165.30,124.20 165.64,123.82 165.98,123.52 166.32,123.31 166.66,123.21 167.00,123.22 167.34,123.34 167.67,123.56 168.01,123.87 168.35,124.26 168.69,124.70 169.03,125.17 169.37,125.64 169.71,126.08 170.05,126.48 170.38,126.80 170.72,127.04 171.06,127.17 171.40,127.20" stroke="#d84848" stroke-width="0.8" fill="none"/>
<rect x="205.9" y="101.2" width="15.7" height="10.5" fill="#e4e6ea" stroke="#9aa5b5" stroke-width="0.5"/>
<path d="M207,110.5 L213,102.2" stroke="#f4f5f7" stroke-width="1.5"/>
<rect x="201.2" y="113" width="20.4" height="9.5" fill="#dde1e8" stroke="#a8b2c4" stroke-width="0.3"/>
<rect x="201.2" y="122.5" width="20.4" height="9.5" fill="#aab4c6"/>
<rect x="201.2" y="113" width="2.5" height="19" fill="#c8ced8"/>
<rect x="221.6" y="100.7" width="7.1" height="30.4" fill="#8fa0b8"/>
<rect x="228.7" y="100.7" width="14.2" height="29.5" fill="#dee0e4" stroke="#b8bcc4" stroke-width="0.3"/>
<rect x="228.7" y="112.3" width="14.2" height="17.9" fill="#e2e5ea"/>
<path d="M228.7,112.6 H238.6" stroke="#6a8ab0" stroke-width="0.9"/>
<text x="192.3" y="140.6" font-size="5.4" fill="#111" text-anchor="middle" xml:space="preserve" stroke="#111" stroke-width="0.1">DNA methylation sequencing  + whole RNA</text>
<text x="192.3" y="145.9" font-size="5.4" fill="#111" text-anchor="middle" stroke="#111" stroke-width="0.1">sequencing</text>
<rect x="59" y="176.4" width="26.8" height="24.1" fill="#6c7380"/>
<path d="M72.9,177.2 a8.8,8.8 0 0 0 0,17.6z" fill="#a9c5ee"/><path d="M72.9,177.2 a8.8,8.8 0 0 1 0,17.6z" fill="#f7c98f"/>
<path d="M72.9,179 v14 M70,182 l2.9,2 l2.9,-2 M71.5,193 l1.4,-5 l1.4,5" stroke="#fff" stroke-width="0.9" fill="none"/><circle cx="72.9" cy="179.5" r="1" fill="#fff"/>
<text x="72.4" y="198.8" font-size="2.6" fill="#e8eaf0" text-anchor="middle" stroke="#e8eaf0" stroke-width="0.1">HLA Ligand Atlas</text>
<rect x="44.5" y="201.3" width="38.9" height="16.1" fill="#fff" stroke="#d0d0d0" stroke-width="0.4"/>
<rect x="47.0" y="212.5" width="1.2" height="3.7" fill="#9a9a9a"/>
<rect x="48.5" y="213.2" width="1.2" height="3.0" fill="#8a8ac8"/>
<rect x="50.0" y="213.2" width="1.2" height="3.0" fill="#c88aa8"/>
<rect x="51.5" y="212.5" width="1.2" height="3.7" fill="#e8a870"/>
<rect x="53.0" y="213.2" width="1.2" height="3.0" fill="#e8d070"/>
<rect x="54.5" y="213.2" width="1.2" height="3.0" fill="#90c890"/>
<rect x="56.0" y="212.5" width="1.2" height="3.7" fill="#70b8c8"/>
<rect x="57.5" y="210.5" width="1.2" height="5.7" fill="#c870a8"/>
<rect x="59.0" y="213.2" width="1.2" height="3.0" fill="#a8a8a8"/>
<rect x="60.5" y="212.5" width="1.2" height="3.7" fill="#e89070"/>
<rect x="62.0" y="213.2" width="1.2" height="3.0" fill="#80a0d8"/>
<rect x="63.5" y="210.5" width="1.2" height="5.7" fill="#d0b050"/>
<rect x="65.0" y="212.5" width="1.2" height="3.7" fill="#90c070"/>
<rect x="66.5" y="213.2" width="1.2" height="3.0" fill="#c090d0"/>
<rect x="68.0" y="213.2" width="1.2" height="3.0" fill="#9a9a9a"/>
<rect x="69.5" y="212.5" width="1.2" height="3.7" fill="#8a8ac8"/>
<rect x="71.0" y="210.5" width="1.2" height="5.7" fill="#c88aa8"/>
<rect x="72.5" y="213.2" width="1.2" height="3.0" fill="#e8a870"/>
<rect x="74.0" y="212.5" width="1.2" height="3.7" fill="#e8d070"/>
<rect x="75.5" y="213.2" width="1.2" height="3.0" fill="#90c890"/>
<rect x="77.0" y="213.2" width="1.2" height="3.0" fill="#70b8c8"/>
<rect x="78.5" y="212.5" width="1.2" height="3.7" fill="#c870a8"/>
<rect x="80.0" y="213.2" width="1.2" height="3.0" fill="#a8a8a8"/>
<rect x="81.5" y="213.2" width="1.2" height="3.0" fill="#e89070"/>
<path d="M46.5,203.5 V216.2 H82" stroke="#b0b0b0" stroke-width="0.3" fill="none"/>
<path d="M97.8,180.2 L110.7,184.5 L110.7,217.5 L97.8,221.4Z" fill="#6f6f6f"/>
<path d="M83.4,180.2 L97.8,180.2 L97.8,221.4 L83.4,221.4Z" fill="#a3a3a3"/>
<path d="M83.4,180.2 L88,178.8 L101,178.8 L110.7,184.5 L97.8,180.2Z" fill="#8a8a8a"/>
<rect x="84.8" y="181.5" width="11.6" height="5" fill="#5a5a5a"/>
<rect x="84.8" y="188.2" width="11.6" height="1.8" fill="#5a5a5a"/>
<rect x="84.8" y="191.6" width="11.6" height="2.2" fill="#5a5a5a"/>
<rect x="84.8" y="209" width="11.6" height="11" fill="#8c8c8c"/>
<circle cx="90.6" cy="213.5" r="1.3" fill="#c8c8c8"/>
<rect x="106.2" y="190.7" width="38.3" height="22" fill="#fff" stroke="#3a3a3a" stroke-width="1.5"/>
<path d="M107,212 L143.8,212 L143.8,203 C135,209 120,211 107,212Z" fill="#dcdcdc"/>
<path d="M130,191.5 C138,193 142,197 143.8,200" stroke="#e6e6e6" stroke-width="2" fill="none"/>
<rect x="122.7" y="213.4" width="3.2" height="5.6" fill="#3a3a3a"/>
<path d="M117.9,221.6 C118.5,219.5 120,219 124.3,219 C128.5,219 130,219.5 130.7,221.6Z" fill="#3a3a3a"/>
<text x="97.3" y="234.5" font-size="6.1" fill="#111" text-anchor="middle" stroke="#111" stroke-width="0.1">Selection of top-ranking</text>
<text x="97.3" y="240.4" font-size="6.1" fill="#111" text-anchor="middle" stroke="#111" stroke-width="0.1">medulloblastoma-associated peptides</text>
<path d="M228.7,178.7 L234,180.4 L234,211 L228.7,214.6Z" fill="#3c3f42"/>
<rect x="205.4" y="178" width="23.3" height="35.4" fill="#4b4e52"/>
<rect x="234" y="190" width="3.6" height="7.7" fill="#3a3c3e"/>
<rect x="206" y="180" width="20.5" height="4.5" fill="#c9cdd2"/><path d="M215,183.5 l5,-3" stroke="#f4f4f4" stroke-width="0.8"/>
<rect x="206.5" y="185.3" width="20" height="4" fill="#c9cdd2"/><path d="M216,188.5 l5,-3" stroke="#f4f4f4" stroke-width="0.8"/>
<rect x="210" y="191" width="16.5" height="3" fill="#e4e4e4"/>
<rect x="210" y="194.9" width="16.5" height="3.2" fill="#e4e4e4"/>
<rect x="215" y="204.5" width="1.1" height="3.5" fill="#2a2a2a"/><rect x="217" y="204.5" width="1.1" height="3.5" fill="#2a2a2a"/>
<rect x="208.6" y="213.3" width="1.6" height="2.5" fill="#2a2a2a"/><rect x="225.2" y="214" width="1.6" height="2.5" fill="#2a2a2a"/>
<circle cx="206.6" cy="186.5" r="0.6" fill="#c06030"/>
<text x="222.2" y="236.6" font-size="6.05" fill="#111" text-anchor="middle" stroke="#111" stroke-width="0.1">Peptide synthesis</text>
<path d="M36,277.5 h3 v3.5 h-3z M46,277.5 h3 v3.5 h-3z" fill="#e4eef2" stroke="#c8dce4" stroke-width="0.3"/>
<path d="M33.2,283 C33.2,281 35,280 37,280 L48,280 C50,280 51.4,281 51.4,283 L51.4,309 C51.4,311 50,312 48,312 L37,312 C35,312 33.2,311 33.2,309Z" fill="#eef4f6" stroke="#d8e6ec" stroke-width="0.4"/>
<path d="M33.8,284 C33.8,282.5 35.5,281.5 37,281.5 L48,281.5 C49.6,281.5 50.8,282.5 50.8,284 L50.8,308.5 C50.8,310 49.6,311 48,311 L37,311 C35.5,311 33.8,310 33.8,308.5Z" fill="#d29898"/>
<path d="M44,281.5 L50.8,281.5 L50.8,311 L44,311Z" fill="#d8a0a0" opacity="0.6"/>
<rect x="35.2" y="290" width="14.6" height="14.3" fill="#fff"/>
<text x="42.5" y="296.4" font-size="3.9" fill="#888" text-anchor="middle" stroke="#888" stroke-width="0.1">Healthy</text>
<text x="42.5" y="301.2" font-size="3.9" fill="#888" text-anchor="middle" stroke="#888" stroke-width="0.1">Donor</text>
<path d="M55.5,298.5 H64.5 V316 L60,321.8 L55.5,316Z" fill="#f3f3f6" stroke="#cfd4dc" stroke-width="0.4"/>
<rect x="55.9" y="304.3" width="8.2" height="8.7" fill="#e2b128"/>
<rect x="55.9" y="313" width="8.2" height="3.3" fill="#f4e6d4"/>
<path d="M55.9,316.3 H64.1 L60,321.4Z" fill="#6a0a12"/>
<rect x="54.9" y="292.6" width="10.1" height="5.9" rx="0.8" fill="#e07a2c"/>
<text x="44.6" y="329.4" font-size="5.3" fill="#111" text-anchor="middle" stroke="#111" stroke-width="0.1">Healthy donor</text>
<text x="44.6" y="334.7" font-size="5.3" fill="#111" text-anchor="middle" stroke="#111" stroke-width="0.1">PBMC</text>
<rect x="108" y="316.4" width="46" height="6.2" fill="#dde5f1"/>
<path d="M108,316.8 H154 M108,322.2 H154" stroke="#9fb1cf" stroke-width="0.8"/>
<path d="M108.5,319.5 H154" stroke="#ffffff" stroke-width="0.9" stroke-dasharray="1 0.6"/>
<circle cx="136" cy="281" r="10" fill="#eef2fb" stroke="#b9c8e6" stroke-width="0.5"/>
<text x="136" y="282.6" font-size="3.3" fill="#333" text-anchor="middle" stroke="#333" stroke-width="0.1">aAPC</text>
<path d="M134.2,291 V316.4 M136.4,291 V316.4" stroke="#c8a890" stroke-width="0.5"/>
<rect x="133.6" y="297.9" width="3.4" height="6.8" fill="#e0a020"/>
<path d="M133,304.7 L134.5,309.8 L135.3,309.8 L135.3,304.7Z M137.6,304.7 L136.1,309.8 L135.3,309.8 L135.3,304.7Z" fill="#4a4a9a"/>
<path d="M113,311 C113,300 113.5,292 116,289 M115.5,311 C115.5,301 116.5,293 119,291" stroke="#d07080" stroke-width="0.5" fill="none"/>
<path d="M114.5,287.5 l2.5,-1 l1.5,2.5 l-2.5,1.5z" fill="#e05060"/><path d="M117.5,289 l2.5,-0.8 l1.2,2.5 l-2.5,1.3z" fill="#e86070"/>
<path d="M122.2,279 V285" stroke="#8a5a9a" stroke-width="0.5"/>
<rect x="120.3" y="285" width="3.8" height="6.9" fill="#7a3a8a"/>
<circle cx="122.2" cy="291" r="0.9" fill="#e05060"/>
<rect x="120.3" y="291.9" width="3.8" height="8.8" fill="#2a7ab8"/>
<rect x="120.6" y="300.7" width="3.2" height="7.3" fill="#8aa0a8"/>
<rect x="121.2" y="308" width="2" height="8.4" fill="#2aa0a8"/>
<rect x="116" y="300.3" width="1.4" height="2" fill="#2aa078"/><rect x="117.8" y="300.3" width="1.4" height="2" fill="#40b050"/>
<path d="M116.7,302.3 V309 M118.5,302.3 V309" stroke="#5aa080" stroke-width="0.5"/>
<rect x="125.2" y="300.3" width="1.3" height="2" fill="#e8a030"/><rect x="127" y="300.3" width="1.3" height="2" fill="#2aa0a0"/>
<path d="M125.8,302.3 V309 M127.6,302.3 V309" stroke="#d8a040" stroke-width="0.5"/>
<circle cx="112.6" cy="313.3" r="2.9" fill="#3a9a4a"/><circle cx="114.2" cy="314.3" r="1.5" fill="#6ac07a"/>
<text x="137.9" y="314.3" font-size="4.0" fill="#111" stroke="#111" stroke-width="0.1">CD8<tspan font-size="2.6" dy="-1.3">+</tspan><tspan dy="1.3"> T cell</tspan></text>
<text x="130.3" y="328.6" font-size="5.3" fill="#111" text-anchor="middle" stroke="#111" stroke-width="0.1">CD8<tspan font-size="3.4" dy="-1.8">+</tspan><tspan dy="1.8"> T cell</tspan></text>
<text x="130.3" y="334" font-size="5.3" fill="#111" text-anchor="middle" stroke="#111" stroke-width="0.1">Priming</text>
<defs><filter id="fbl" x="-30%" y="-30%" width="160%" height="160%"><feGaussianBlur stdDeviation="0.5"/></filter></defs>
<g filter="url(#fbl)">
<path d="M206.5,293 C207,288 213,288.5 218,289.5 C222,290.5 222.5,294 220.5,297.5 C218.5,301 215.5,303 212,302.5 C208,302 206,298 206.5,293Z" fill="#1f2a9a"/>
<path d="M208.5,293.5 C209,290.5 213,290.5 217,291.3 C220,292 220,294.5 218.5,297 C217,299.5 214.5,300.5 212,300 C209.5,299.5 208.2,297 208.5,293.5Z" fill="#3aa8e0"/>
<ellipse cx="214.5" cy="295" rx="4" ry="3.3" fill="#f0e020"/>
<ellipse cx="215" cy="295.5" rx="2" ry="1.6" fill="#e02020"/>
<path d="M222.8,291.5 C224,289 230,289 233.5,290.5 C235.5,292 235,297 233,298.5 C231,300 226,300 224,298 C222.5,296.5 222.3,294 222.8,291.5Z" fill="#1f2a9a"/>
<ellipse cx="228.5" cy="294.3" rx="4.2" ry="3.2" fill="#3ab8d8"/>
<ellipse cx="227.5" cy="294.1" rx="1.3" ry="1.1" fill="#e02020"/>
<path d="M209.5,307 C210,304 213,303.5 216.5,304 C219.5,304.5 219.5,308 218.5,311 C217.5,314 215,316 212.5,315.6 C210,315.2 209,311 209.5,307Z" fill="#1f2a9a"/>
<ellipse cx="214.2" cy="309.5" rx="3.2" ry="4.2" fill="#4cc0c0" transform="rotate(20 214.2 309.5)"/>
</g>
<path d="M204.5,278.8 V318.4 H244.8 M222.6,280 V318.4 M204.5,303.1 H243" stroke="#6a6a6a" stroke-width="0.6" fill="none"/>
<text transform="translate(201.2,300) rotate(-90)" font-size="2.8" fill="#444" text-anchor="middle" stroke="#444" stroke-width="0.1">CD8</text>
<text x="224.7" y="322.6" font-size="2.8" fill="#444" text-anchor="middle" stroke="#444" stroke-width="0.1">Tetramer PE</text>
<text x="225.6" y="329.2" font-size="5.5" fill="#111" text-anchor="middle" stroke="#111" stroke-width="0.1">HLA tetramer</text>
<text x="225.6" y="334.7" font-size="5.5" fill="#111" text-anchor="middle" stroke="#111" stroke-width="0.1">staining</text>
<defs><clipPath id="ce00"><rect x="21" y="652.6" width="154.00" height="114.40"/></clipPath><filter id="fe00_0" filterUnits="userSpaceOnUse" x="-179" y="452.6" width="554" height="514" color-interpolation-filters="sRGB"><feTurbulence type="fractalNoise" baseFrequency="0.035" numOctaves="2" seed="3" result="n"/><feColorMatrix in="n" type="matrix" values="0 0 0 0 0  0 0 0 0 0  0 0 0 0 0  3.0 0 0 0 -0.8" result="a"/><feFlood flood-color="#b49274"/><feComposite in2="a" operator="in"/></filter><filter id="fe00_1" filterUnits="userSpaceOnUse" x="-179" y="452.6" width="554" height="514" color-interpolation-filters="sRGB"><feTurbulence type="fractalNoise" baseFrequency="0.4" numOctaves="2" seed="4" result="n"/><feColorMatrix in="n" type="matrix" values="0 0 0 0 0  0 0 0 0 0  0 0 0 0 0  3.0 0 0 0 -1.1" result="a"/><feFlood flood-color="#a27c58"/><feComposite in2="a" operator="in"/></filter><filter id="fe00_2" filterUnits="userSpaceOnUse" x="-179" y="452.6" width="554" height="514" color-interpolation-filters="sRGB"><feTurbulence type="fractalNoise" baseFrequency="0.16" numOctaves="3" seed="5" result="n"/><feColorMatrix in="n" type="matrix" values="0 0 0 0 0  0 0 0 0 0  0 0 0 0 0  3.0 0 0 0 -1.35" result="a"/><feFlood flood-color="#946a44"/><feComposite in2="a" operator="in"/></filter><filter id="fe00_3" filterUnits="userSpaceOnUse" x="-179" y="452.6" width="554" height="514" color-interpolation-filters="sRGB"><feTurbulence type="fractalNoise" baseFrequency="0.28" numOctaves="2" seed="9" result="n"/><feColorMatrix in="n" type="matrix" values="0 0 0 0 0  0 0 0 0 0  0 0 0 0 0  3.2 0 0 0 -1.5" result="a"/><feFlood flood-color="#f8f4ee"/><feComposite in2="a" operator="in"/></filter><filter id="fe00_4" x="-60%" y="-60%" width="220%" height="220%"><feGaussianBlur stdDeviation="6"/></filter><filter id="fe00_5" x="-60%" y="-60%" width="220%" height="220%"><feGaussianBlur stdDeviation="6"/></filter><filter id="fe00_6" x="-60%" y="-60%" width="220%" height="220%"><feGaussianBlur stdDeviation="5"/></filter><filter id="fe00_7" x="-60%" y="-60%" width="220%" height="220%"><feGaussianBlur stdDeviation="6"/></filter><filter id="fe00_8" x="-60%" y="-60%" width="220%" height="220%"><feGaussianBlur stdDeviation="4"/></filter><filter id="fe00_9" x="-60%" y="-60%" width="220%" height="220%"><feGaussianBlur stdDeviation="3"/></filter><filter id="fe00_10" x="-60%" y="-60%" width="220%" height="220%"><feGaussianBlur stdDeviation="3"/></filter><pattern id="pe00_11" patternUnits="userSpaceOnUse" x="21" y="652.6" width="70" height="52"><g fill="#58679a"><circle cx="65.4" cy="20.2" r="1.5"/><circle cx="17.3" cy="25.1" r="1.2"/><circle cx="37.9" cy="3.9" r="1.3"/><circle cx="37.9" cy="55.9" r="1.3"/><circle cx="22.1" cy="2.1" r="1.5"/><circle cx="22.1" cy="54.1" r="1.5"/><circle cx="63.9" cy="7.8" r="1.4"/><circle cx="37.0" cy="22.1" r="1.4"/><circle cx="46.3" cy="14.4" r="1.2"/><circle cx="35.5" cy="-0.3" r="1.6"/><circle cx="35.5" cy="51.7" r="1.6"/><circle cx="54.4" cy="23.8" r="1.5"/><circle cx="-1.5" cy="45.9" r="1.1"/><circle cx="68.5" cy="45.9" r="1.1"/><circle cx="28.8" cy="11.8" r="1.3"/><circle cx="59.8" cy="25.7" r="1.2"/><circle cx="11.5" cy="7.3" r="1.5"/><circle cx="18.7" cy="7.3" r="1.3"/><circle cx="14.1" cy="25.3" r="1.3"/><circle cx="44.2" cy="26.8" r="1.3"/><circle cx="3.1" cy="-3.0" r="1.3"/><circle cx="3.1" cy="49.0" r="1.3"/><circle cx="73.1" cy="-3.0" r="1.3"/><circle cx="73.1" cy="49.0" r="1.3"/><circle cx="60.9" cy="16.8" r="1.1"/><circle cx="-0.6" cy="25.6" r="1.1"/><circle cx="69.4" cy="25.6" r="1.1"/><circle cx="10.4" cy="45.6" r="1.4"/><circle cx="38.9" cy="36.3" r="1.2"/><circle cx="4.3" cy="4.1" r="1.1"/><circle cx="41.0" cy="3.8" r="1.0"/><circle cx="41.0" cy="55.8" r="1.0"/><circle cx="14.1" cy="0.6" r="1.0"/><circle cx="14.1" cy="52.6" r="1.0"/><circle cx="59.5" cy="34.7" r="1.0"/><circle cx="4.9" cy="17.5" r="1.3"/><circle cx="31.8" cy="28.0" r="1.4"/><circle cx="65.0" cy="42.2" r="1.4"/><circle cx="51.8" cy="15.1" r="1.1"/><circle cx="7.8" cy="9.2" r="1.0"/><circle cx="9.5" cy="38.2" r="1.0"/><circle cx="49.6" cy="36.7" r="1.1"/><circle cx="33.4" cy="31.3" r="1.6"/><circle cx="42.7" cy="7.1" r="1.0"/><circle cx="59.2" cy="5.6" r="1.5"/><circle cx="63.2" cy="11.5" r="1.3"/><circle cx="16.3" cy="22.1" r="1.5"/><circle cx="60.8" cy="-2.0" r="1.5"/><circle cx="60.8" cy="50.0" r="1.5"/><circle cx="28.1" cy="18.1" r="1.5"/><circle cx="60.3" cy="42.0" r="1.4"/><circle cx="-3.1" cy="6.9" r="1.1"/><circle cx="66.9" cy="6.9" r="1.1"/><circle cx="40.7" cy="32.0" r="1.2"/><circle cx="-2.5" cy="29.2" r="1.0"/><circle cx="67.5" cy="29.2" r="1.0"/><circle cx="22.3" cy="27.0" r="1.5"/><circle cx="42.8" cy="-2.7" r="1.2"/><circle cx="42.8" cy="49.3" r="1.2"/><circle cx="3.9" cy="23.4" r="1.5"/><circle cx="73.9" cy="23.4" r="1.5"/><circle cx="37.8" cy="44.2" r="1.5"/><circle cx="62.9" cy="26.0" r="1.0"/><circle cx="16.4" cy="18.8" r="1.3"/><circle cx="48.0" cy="-2.3" r="1.5"/><circle cx="48.0" cy="49.7" r="1.5"/><circle cx="26.7" cy="22.8" r="1.1"/><circle cx="32.0" cy="-2.0" r="1.5"/><circle cx="32.0" cy="50.0" r="1.5"/><circle cx="22.5" cy="13.3" r="1.5"/><circle cx="41.1" cy="23.9" r="1.3"/><circle cx="24.9" cy="45.7" r="1.0"/><circle cx="20.5" cy="45.6" r="1.1"/><circle cx="35.5" cy="46.8" r="1.5"/><circle cx="65.8" cy="0.1" r="1.2"/><circle cx="65.8" cy="52.1" r="1.2"/><circle cx="2.2" cy="11.2" r="1.5"/><circle cx="72.2" cy="11.2" r="1.5"/><circle cx="10.9" cy="4.2" r="1.1"/><circle cx="34.5" cy="6.8" r="1.4"/><circle cx="21.7" cy="-2.7" r="1.0"/><circle cx="21.7" cy="49.3" r="1.0"/><circle cx="32.7" cy="18.6" r="1.1"/><circle cx="-3.1" cy="33.1" r="1.0"/><circle cx="66.9" cy="33.1" r="1.0"/><circle cx="55.5" cy="36.6" r="1.1"/><circle cx="30.7" cy="39.4" r="1.3"/><circle cx="6.2" cy="1.1" r="1.4"/><circle cx="6.2" cy="53.1" r="1.4"/><circle cx="5.6" cy="32.7" r="1.6"/><circle cx="56.0" cy="45.5" r="1.4"/><circle cx="7.2" cy="47.4" r="1.5"/><circle cx="21.2" cy="22.2" r="1.4"/><circle cx="27.6" cy="35.2" r="1.1"/><circle cx="14.3" cy="40.1" r="1.3"/><circle cx="39.1" cy="18.8" r="1.4"/><circle cx="-1.3" cy="-1.8" r="1.5"/><circle cx="-1.3" cy="50.2" r="1.5"/><circle cx="68.7" cy="-1.8" r="1.5"/><circle cx="68.7" cy="50.2" r="1.5"/><circle cx="57.7" cy="20.0" r="1.3"/><circle cx="0.4" cy="32.9" r="1.3"/><circle cx="70.4" cy="32.9" r="1.3"/><circle cx="-0.2" cy="20.9" r="1.6"/><circle cx="69.8" cy="20.9" r="1.6"/><circle cx="33.4" cy="13.4" r="1.1"/><circle cx="49.2" cy="45.3" r="1.3"/><circle cx="49.3" cy="5.7" r="1.2"/><circle cx="53.5" cy="10.2" r="1.1"/><circle cx="22.8" cy="42.3" r="1.4"/><circle cx="28.0" cy="1.9" r="1.3"/><circle cx="28.0" cy="53.9" r="1.3"/><circle cx="3.8" cy="38.2" r="1.3"/><circle cx="73.8" cy="38.2" r="1.3"/><circle cx="-0.2" cy="38.6" r="1.5"/><circle cx="69.8" cy="38.6" r="1.5"/><circle cx="29.0" cy="26.3" r="1.3"/><circle cx="48.7" cy="11.3" r="1.6"/><circle cx="11.4" cy="11.2" r="1.1"/><circle cx="12.9" cy="-1.8" r="1.1"/><circle cx="12.9" cy="50.2" r="1.1"/><circle cx="51.3" cy="29.3" r="1.5"/><circle cx="47.3" cy="38.4" r="1.0"/><circle cx="25.2" cy="7.5" r="1.1"/><circle cx="16.8" cy="-3.7" r="1.5"/><circle cx="16.8" cy="48.3" r="1.5"/><circle cx="18.9" cy="38.6" r="1.0"/><circle cx="47.2" cy="29.8" r="1.5"/><circle cx="62.3" cy="39.0" r="1.4"/><circle cx="39.6" cy="-2.3" r="1.3"/><circle cx="39.6" cy="49.7" r="1.3"/><circle cx="19.0" cy="16.7" r="1.1"/><circle cx="8.4" cy="23.7" r="1.3"/><circle cx="8.0" cy="43.0" r="1.1"/><circle cx="37.0" cy="10.0" r="1.3"/><circle cx="43.7" cy="42.7" r="1.3"/><circle cx="15.5" cy="6.1" r="1.4"/><circle cx="35.5" cy="40.5" r="1.3"/></g></pattern><clipPath id="ce01"><rect x="177.6" y="652.6" width="148.20" height="114.40"/></clipPath><filter id="fe01_0" filterUnits="userSpaceOnUse" x="-22.400000000000006" y="452.6" width="548" height="514" color-interpolation-filters="sRGB"><feTurbulence type="fractalNoise" baseFrequency="0.04" numOctaves="2" seed="7" result="n"/><feColorMatrix in="n" type="matrix" values="0 0 0 0 0  0 0 0 0 0  0 0 0 0 0  3.0 0 0 0 -0.9" result="a"/><feFlood flood-color="#9a7a5a"/><feComposite in2="a" operator="in"/></filter><filter id="fe01_1" filterUnits="userSpaceOnUse" x="-22.400000000000006" y="452.6" width="548" height="514" color-interpolation-filters="sRGB"><feTurbulence type="fractalNoise" baseFrequency="0.35" numOctaves="2" seed="6" result="n"/><feColorMatrix in="n" type="matrix" values="0 0 0 0 0  0 0 0 0 0  0 0 0 0 0  3.0 0 0 0 -1.05" result="a"/><feFlood flood-color="#8a5a2e"/><feComposite in2="a" operator="in"/></filter><filter id="fe01_2" filterUnits="userSpaceOnUse" x="-22.400000000000006" y="452.6" width="548" height="514" color-interpolation-filters="sRGB"><feTurbulence type="fractalNoise" baseFrequency="0.3" numOctaves="2" seed="9" result="n"/><feColorMatrix in="n" type="matrix" values="0 0 0 0 0  0 0 0 0 0  0 0 0 0 0  3.2 0 0 0 -1.9" result="a"/><feFlood flood-color="#e8e2da"/><feComposite in2="a" operator="in"/></filter><filter id="fe01_3" x="-60%" y="-60%" width="220%" height="220%"><feGaussianBlur stdDeviation="10"/></filter><filter id="mbe01_4" x="-60%" y="-60%" width="220%" height="220%"><feGaussianBlur stdDeviation="4"/></filter><mask id="me01_4" maskUnits="userSpaceOnUse" x="177.6" y="652.6" width="148.20" height="114.40"><g filter="url(#mbe01_4)" fill="#fff"><ellipse cx="202.6" cy="707.6" rx="30" ry="60"/><ellipse cx="252.6" cy="662.6" rx="60" ry="14"/><ellipse cx="305.6" cy="680.6" rx="14" ry="20"/><ellipse cx="317.6" cy="737.6" rx="10" ry="14"/><ellipse cx="277.6" cy="732.6" rx="8" ry="10"/><ellipse cx="237.6" cy="722.6" rx="14" ry="20"/><ellipse cx="227.6" cy="757.6" rx="20" ry="10"/><ellipse cx="262.6" cy="692.6" rx="10" ry="10"/><ellipse cx="297.6" cy="712.6" rx="8" ry="8"/></g></mask><filter id="fe01_4" filterUnits="userSpaceOnUse" x="-22.400000000000006" y="452.6" width="548" height="514" color-interpolation-filters="sRGB"><feTurbulence type="fractalNoise" baseFrequency="0.11" numOctaves="3" seed="8" result="n"/><feColorMatrix in="n" type="matrix" values="0 0 0 0 0  0 0 0 0 0  0 0 0 0 0  5.0 0 0 0 -2.2" result="a"/><feFlood flood-color="#2e1406"/><feComposite in2="a" operator="in"/></filter><filter id="fe01_5" x="-60%" y="-60%" width="220%" height="220%"><feGaussianBlur stdDeviation="8"/></filter><pattern id="pe01_6" patternUnits="userSpaceOnUse" x="177.6" y="652.6" width="70" height="52"><g fill="#6e7fa6"><circle cx="35.4" cy="34.8" r="1.8"/><circle cx="15.5" cy="8.3" r="1.7"/><circle cx="24.3" cy="36.1" r="1.8"/><circle cx="4.2" cy="19.1" r="1.3"/><circle cx="22.7" cy="-3.6" r="1.3"/><circle cx="22.7" cy="48.4" r="1.3"/><circle cx="27.6" cy="9.9" r="1.3"/><circle cx="7.4" cy="2.2" r="1.8"/><circle cx="7.4" cy="54.2" r="1.8"/><circle cx="48.2" cy="17.8" r="1.7"/><circle cx="64.7" cy="13.3" r="1.7"/><circle cx="8.9" cy="15.2" r="1.5"/><circle cx="32.2" cy="32.7" r="1.5"/><circle cx="25.6" cy="40.8" r="1.5"/><circle cx="48.4" cy="38.8" r="1.8"/><circle cx="16.0" cy="12.9" r="1.7"/><circle cx="19.8" cy="26.2" r="1.4"/><circle cx="63.9" cy="25.9" r="1.3"/><circle cx="63.3" cy="1.0" r="1.4"/><circle cx="63.3" cy="53.0" r="1.4"/><circle cx="-1.3" cy="28.3" r="1.5"/><circle cx="68.7" cy="28.3" r="1.5"/><circle cx="-3.6" cy="33.7" r="1.7"/><circle cx="66.4" cy="33.7" r="1.7"/><circle cx="38.6" cy="41.8" r="1.8"/><circle cx="4.7" cy="9.6" r="1.2"/><circle cx="27.4" cy="28.8" r="1.7"/><circle cx="0.2" cy="9.1" r="1.8"/><circle cx="70.2" cy="9.1" r="1.8"/><circle cx="-0.2" cy="3.8" r="1.4"/><circle cx="-0.2" cy="55.8" r="1.4"/><circle cx="69.8" cy="3.8" r="1.4"/><circle cx="69.8" cy="55.8" r="1.4"/><circle cx="39.8" cy="24.6" r="1.3"/><circle cx="60.8" cy="31.0" r="1.5"/><circle cx="21.8" cy="6.0" r="1.4"/><circle cx="-1.7" cy="-2.7" r="1.4"/><circle cx="-1.7" cy="49.3" r="1.4"/><circle cx="68.3" cy="-2.7" r="1.4"/><circle cx="68.3" cy="49.3" r="1.4"/><circle cx="38.6" cy="0.5" r="1.8"/><circle cx="38.6" cy="52.5" r="1.8"/><circle cx="12.7" cy="35.6" r="1.8"/><circle cx="35.7" cy="-3.4" r="1.3"/><circle cx="35.7" cy="48.6" r="1.3"/><circle cx="13.7" cy="20.7" r="1.3"/><circle cx="59.7" cy="18.8" r="1.7"/><circle cx="45.5" cy="12.7" r="1.9"/><circle cx="50.2" cy="26.0" r="1.3"/><circle cx="30.8" cy="-0.3" r="1.5"/><circle cx="30.8" cy="51.7" r="1.5"/><circle cx="41.0" cy="32.8" r="1.8"/><circle cx="7.6" cy="7.0" r="1.4"/><circle cx="49.8" cy="31.6" r="1.8"/><circle cx="17.6" cy="0.9" r="1.7"/><circle cx="17.6" cy="52.9" r="1.7"/><circle cx="45.5" cy="22.8" r="1.7"/><circle cx="13.8" cy="28.6" r="1.5"/><circle cx="0.2" cy="19.9" r="1.6"/><circle cx="70.2" cy="19.9" r="1.6"/><circle cx="33.9" cy="23.7" r="1.4"/><circle cx="36.6" cy="30.0" r="1.8"/><circle cx="8.4" cy="45.1" r="1.2"/><circle cx="0.7" cy="24.4" r="1.4"/><circle cx="70.7" cy="24.4" r="1.4"/><circle cx="51.3" cy="0.6" r="1.6"/><circle cx="51.3" cy="52.6" r="1.6"/><circle cx="32.0" cy="38.3" r="1.8"/><circle cx="4.8" cy="31.0" r="1.6"/><circle cx="56.3" cy="7.4" r="1.8"/><circle cx="54.2" cy="46.7" r="1.3"/><circle cx="21.6" cy="12.8" r="1.7"/><circle cx="48.3" cy="42.9" r="1.3"/><circle cx="-3.1" cy="45.5" r="1.4"/><circle cx="66.9" cy="45.5" r="1.4"/><circle cx="0.3" cy="36.8" r="1.6"/><circle cx="70.3" cy="36.8" r="1.6"/><circle cx="51.4" cy="42.0" r="1.2"/><circle cx="44.0" cy="42.5" r="1.4"/><circle cx="20.8" cy="21.8" r="1.4"/><circle cx="48.1" cy="8.1" r="1.4"/><circle cx="60.7" cy="36.7" r="1.6"/><circle cx="20.8" cy="18.5" r="1.3"/><circle cx="19.5" cy="43.6" r="1.6"/><circle cx="40.6" cy="-2.6" r="1.3"/><circle cx="40.6" cy="49.4" r="1.3"/><circle cx="44.3" cy="39.0" r="1.4"/><circle cx="51.9" cy="37.1" r="1.2"/><circle cx="12.0" cy="-3.8" r="1.5"/><circle cx="12.0" cy="48.2" r="1.5"/><circle cx="4.9" cy="-1.6" r="1.7"/><circle cx="4.9" cy="50.4" r="1.7"/><circle cx="33.9" cy="3.8" r="1.5"/><circle cx="33.9" cy="55.8" r="1.5"/><circle cx="7.7" cy="39.7" r="1.8"/><circle cx="21.3" cy="1.2" r="1.2"/><circle cx="21.3" cy="53.2" r="1.2"/><circle cx="25.4" cy="14.7" r="1.6"/><circle cx="58.5" cy="24.5" r="1.5"/><circle cx="27.3" cy="20.0" r="1.5"/><circle cx="53.1" cy="29.0" r="1.5"/><circle cx="57.3" cy="3.4" r="1.5"/><circle cx="57.3" cy="55.4" r="1.5"/><circle cx="57.2" cy="30.4" r="1.4"/><circle cx="58.3" cy="12.2" r="1.3"/><circle cx="31.9" cy="19.1" r="1.3"/><circle cx="2.6" cy="42.9" r="1.2"/><circle cx="72.6" cy="42.9" r="1.2"/><circle cx="-2.6" cy="22.5" r="1.3"/><circle cx="67.4" cy="22.5" r="1.3"/><circle cx="50.4" cy="-3.7" r="1.7"/><circle cx="50.4" cy="48.3" r="1.7"/><circle cx="60.2" cy="46.2" r="1.7"/><circle cx="20.1" cy="35.2" r="1.8"/><circle cx="10.7" cy="0.1" r="1.7"/><circle cx="10.7" cy="52.1" r="1.7"/><circle cx="54.8" cy="16.1" r="1.5"/><circle cx="46.1" cy="45.6" r="1.4"/><circle cx="31.4" cy="47.9" r="1.2"/><circle cx="54.2" cy="22.6" r="1.3"/><circle cx="40.4" cy="4.8" r="1.8"/><circle cx="43.7" cy="47.9" r="1.3"/><circle cx="63.9" cy="20.1" r="1.3"/><circle cx="51.0" cy="13.9" r="1.5"/><circle cx="46.2" cy="1.0" r="1.9"/><circle cx="46.2" cy="53.0" r="1.9"/><circle cx="59.7" cy="-0.1" r="1.3"/><circle cx="59.7" cy="51.9" r="1.3"/><circle cx="27.7" cy="-2.1" r="1.3"/><circle cx="27.7" cy="49.9" r="1.3"/><circle cx="9.4" cy="26.5" r="1.6"/><circle cx="32.6" cy="14.5" r="1.6"/><circle cx="0.3" cy="0.1" r="1.4"/><circle cx="0.3" cy="52.1" r="1.4"/><circle cx="70.3" cy="0.1" r="1.4"/><circle cx="70.3" cy="52.1" r="1.4"/><circle cx="27.8" cy="46.3" r="1.3"/><circle cx="56.7" cy="35.7" r="1.8"/><circle cx="32.5" cy="28.6" r="1.2"/><circle cx="43.7" cy="29.3" r="1.7"/><circle cx="31.0" cy="7.1" r="1.7"/><circle cx="25.6" cy="24.7" r="1.9"/><circle cx="53.3" cy="10.3" r="1.8"/><circle cx="11.5" cy="8.2" r="1.9"/><circle cx="15.9" cy="38.2" r="1.8"/><circle cx="2.0" cy="-3.6" r="1.2"/><circle cx="2.0" cy="48.4" r="1.2"/><circle cx="72.0" cy="-3.6" r="1.2"/><circle cx="72.0" cy="48.4" r="1.2"/><circle cx="17.4" cy="19.3" r="1.4"/></g></pattern><clipPath id="ce02"><rect x="328.5" y="652.6" width="153.50" height="114.40"/></clipPath><filter id="fe02_0" filterUnits="userSpaceOnUse" x="128.5" y="452.6" width="554" height="514" color-interpolation-filters="sRGB"><feTurbulence type="fractalNoise" baseFrequency="0.22" numOctaves="2" seed="12" result="n"/><feColorMatrix in="n" type="matrix" values="0 0 0 0 0  0 0 0 0 0  0 0 0 0 0  3.0 0 0 0 -1.55" result="a"/><feFlood flood-color="#a06030"/><feComposite in2="a" operator="in"/></filter><filter id="mbe02_1" x="-60%" y="-60%" width="220%" height="220%"><feGaussianBlur stdDeviation="4"/></filter><mask id="me02_1" maskUnits="userSpaceOnUse" x="328.5" y="652.6" width="153.50" height="114.40"><g filter="url(#mbe02_1)" fill="#fff"><ellipse cx="461.5" cy="680.6" rx="26" ry="22"/><ellipse cx="365.5" cy="686.6" rx="11" ry="18"/><ellipse cx="420.5" cy="714.6" rx="14" ry="38" transform="rotate(-35 420.5 714.6)"/><ellipse cx="446.5" cy="704.6" rx="14" ry="9"/><ellipse cx="348.5" cy="737.6" rx="22" ry="8" transform="rotate(35 348.5 737.6)"/><ellipse cx="338.5" cy="716.6" rx="9" ry="7"/><ellipse cx="358.5" cy="756.6" rx="16" ry="6" transform="rotate(30 358.5 756.6)"/><ellipse cx="468.5" cy="712.6" rx="10" ry="8"/></g></mask><filter id="fe02_1" filterUnits="userSpaceOnUse" x="128.5" y="452.6" width="554" height="514" color-interpolation-filters="sRGB"><feTurbulence type="fractalNoise" baseFrequency="0.14" numOctaves="3" seed="31" result="n"/><feColorMatrix in="n" type="matrix" values="0 0 0 0 0  0 0 0 0 0  0 0 0 0 0  3.0 0 0 0 -0.6" result="a"/><feFlood flood-color="#9a5a22"/><feComposite in2="a" operator="in"/></filter><filter id="mbe02_2" x="-60%" y="-60%" width="220%" height="220%"><feGaussianBlur stdDeviation="4"/></filter><mask id="me02_2" maskUnits="userSpaceOnUse" x="328.5" y="652.6" width="153.50" height="114.40"><g filter="url(#mbe02_2)" fill="#fff"><ellipse cx="461.5" cy="680.6" rx="24" ry="20"/><ellipse cx="365.5" cy="686.6" rx="10" ry="16"/><ellipse cx="420.5" cy="714.6" rx="12" ry="34" transform="rotate(-35 420.5 714.6)"/></g></mask><filter id="fe02_2" filterUnits="userSpaceOnUse" x="128.5" y="452.6" width="554" height="514" color-interpolation-filters="sRGB"><feTurbulence type="fractalNoise" baseFrequency="0.2" numOctaves="2" seed="32" result="n"/><feColorMatrix in="n" type="matrix" values="0 0 0 0 0  0 0 0 0 0  0 0 0 0 0  4.0 0 0 0 -2.0" result="a"/><feFlood flood-color="#6a3410"/><feComposite in2="a" operator="in"/></filter><filter id="fe02_3" x="-60%" y="-60%" width="220%" height="220%"><feGaussianBlur stdDeviation="5"/></filter><filter id="fe02_4" x="-60%" y="-60%" width="220%" height="220%"><feGaussianBlur stdDeviation="5"/></filter><filter id="fe02_5" x="-60%" y="-60%" width="220%" height="220%"><feGaussianBlur stdDeviation="3"/></filter><filter id="fe02_6" x="-60%" y="-60%" width="220%" height="220%"><feGaussianBlur stdDeviation="3"/></filter><filter id="fe02_7" x="-60%" y="-60%" width="220%" height="220%"><feGaussianBlur stdDeviation="5"/></filter><filter id="mbe02_8" x="-60%" y="-60%" width="220%" height="220%"><feGaussianBlur stdDeviation="4"/></filter><mask id="me02_8" maskUnits="userSpaceOnUse" x="328.5" y="652.6" width="153.50" height="114.40"><g filter="url(#mbe02_8)" fill="#fff"><ellipse cx="392.5" cy="680.6" rx="9" ry="28" transform="rotate(10 392.5 680.6)"/><ellipse cx="384.5" cy="738.6" rx="11" ry="30" transform="rotate(10 384.5 738.6)"/><ellipse cx="460.5" cy="744.6" rx="26" ry="22"/><ellipse cx="402.5" cy="660.6" rx="10" ry="8"/></g></mask><pattern id="pe02_8" patternUnits="userSpaceOnUse" x="328.5" y="652.6" width="40" height="30"><g fill="#2c3e98"><circle cx="12.3" cy="14.4" r="1.5"/><circle cx="5.6" cy="-1.1" r="1.3"/><circle cx="5.6" cy="28.9" r="1.3"/><circle cx="33.7" cy="10.9" r="1.6"/><circle cx="-1.3" cy="-1.0" r="1.6"/><circle cx="-1.3" cy="29.0" r="1.6"/><circle cx="38.7" cy="-1.0" r="1.6"/><circle cx="38.7" cy="29.0" r="1.6"/><circle cx="3.4" cy="16.7" r="1.1"/><circle cx="43.4" cy="16.7" r="1.1"/><circle cx="1.9" cy="13.3" r="1.3"/><circle cx="41.9" cy="13.3" r="1.3"/><circle cx="11.9" cy="4.6" r="1.2"/><circle cx="29.7" cy="12.1" r="1.4"/><circle cx="7.0" cy="24.7" r="1.2"/><circle cx="-1.7" cy="7.5" r="1.7"/><circle cx="38.3" cy="7.5" r="1.7"/><circle cx="11.1" cy="22.7" r="1.5"/><circle cx="9.2" cy="9.7" r="1.5"/><circle cx="28.0" cy="-3.4" r="1.6"/><circle cx="28.0" cy="26.6" r="1.6"/><circle cx="4.8" cy="4.9" r="1.1"/><circle cx="-1.1" cy="18.9" r="1.1"/><circle cx="38.9" cy="18.9" r="1.1"/><circle cx="32.2" cy="14.9" r="1.5"/><circle cx="8.2" cy="13.6" r="1.6"/><circle cx="0.7" cy="21.8" r="1.2"/><circle cx="40.7" cy="21.8" r="1.2"/><circle cx="26.4" cy="8.7" r="1.8"/><circle cx="27.0" cy="17.4" r="1.7"/><circle cx="18.7" cy="21.3" r="1.2"/><circle cx="24.2" cy="22.3" r="1.4"/><circle cx="10.9" cy="-2.8" r="1.7"/><circle cx="10.9" cy="27.2" r="1.7"/><circle cx="18.5" cy="13.6" r="1.6"/><circle cx="10.7" cy="17.9" r="1.7"/><circle cx="17.8" cy="-0.4" r="1.4"/><circle cx="17.8" cy="29.6" r="1.4"/><circle cx="3.9" cy="9.2" r="1.3"/><circle cx="43.9" cy="9.2" r="1.3"/><circle cx="7.9" cy="20.2" r="1.4"/><circle cx="17.0" cy="9.7" r="1.6"/><circle cx="18.9" cy="17.4" r="1.4"/><circle cx="14.4" cy="19.3" r="1.3"/><circle cx="23.8" cy="-1.2" r="1.8"/><circle cx="23.8" cy="28.8" r="1.8"/><circle cx="34.2" cy="-0.5" r="1.1"/><circle cx="34.2" cy="29.5" r="1.1"/><circle cx="21.2" cy="24.4" r="1.2"/><circle cx="9.1" cy="5.8" r="1.2"/><circle cx="-2.1" cy="14.3" r="1.7"/><circle cx="37.9" cy="14.3" r="1.7"/><circle cx="17.9" cy="3.5" r="1.2"/><circle cx="17.9" cy="33.5" r="1.2"/><circle cx="35.4" cy="25.5" r="1.2"/><circle cx="33.9" cy="3.0" r="1.2"/><circle cx="33.9" cy="33.0" r="1.2"/><circle cx="27.2" cy="23.2" r="1.1"/><circle cx="0.6" cy="2.0" r="1.5"/><circle cx="0.6" cy="32.0" r="1.5"/><circle cx="40.6" cy="2.0" r="1.5"/><circle cx="40.6" cy="32.0" r="1.5"/><circle cx="31.8" cy="-3.0" r="1.2"/><circle cx="31.8" cy="27.0" r="1.2"/><circle cx="32.1" cy="19.0" r="1.7"/><circle cx="25.8" cy="4.6" r="1.3"/><circle cx="20.7" cy="6.6" r="1.3"/><circle cx="23.4" cy="15.5" r="1.6"/><circle cx="14.7" cy="3.8" r="1.2"/><circle cx="14.7" cy="33.8" r="1.2"/><circle cx="4.3" cy="22.2" r="1.2"/><circle cx="29.8" cy="1.0" r="1.4"/><circle cx="29.8" cy="31.0" r="1.4"/><circle cx="32.6" cy="6.1" r="1.6"/><circle cx="21.7" cy="3.6" r="1.4"/><circle cx="21.7" cy="33.6" r="1.4"/><circle cx="-3.0" cy="21.8" r="1.8"/><circle cx="37.0" cy="21.8" r="1.8"/><circle cx="15.5" cy="23.0" r="1.5"/><circle cx="14.5" cy="-0.4" r="1.4"/><circle cx="14.5" cy="29.6" r="1.4"/><circle cx="12.0" cy="8.1" r="1.2"/><circle cx="22.2" cy="18.9" r="1.5"/><circle cx="-1.2" cy="25.6" r="1.2"/><circle cx="38.8" cy="25.6" r="1.2"/><circle cx="6.9" cy="2.8" r="1.2"/><circle cx="6.9" cy="32.8" r="1.2"/><circle cx="23.3" cy="12.0" r="1.3"/><circle cx="2.4" cy="25.2" r="1.4"/><circle cx="42.4" cy="25.2" r="1.4"/><circle cx="-2.8" cy="3.5" r="1.2"/><circle cx="-2.8" cy="33.5" r="1.2"/><circle cx="37.2" cy="3.5" r="1.2"/><circle cx="37.2" cy="33.5" r="1.2"/><circle cx="32.8" cy="22.9" r="1.4"/><circle cx="1.9" cy="6.2" r="1.3"/><circle cx="41.9" cy="6.2" r="1.3"/><circle cx="16.9" cy="25.8" r="1.1"/><circle cx="29.5" cy="7.1" r="1.2"/><circle cx="26.7" cy="13.4" r="1.2"/><circle cx="35.1" cy="17.2" r="1.3"/><circle cx="29.0" cy="20.9" r="1.1"/><circle cx="20.5" cy="10.3" r="1.2"/><circle cx="6.9" cy="17.1" r="1.4"/><circle cx="0.8" cy="10.6" r="1.1"/><circle cx="40.8" cy="10.6" r="1.1"/><circle cx="11.5" cy="1.3" r="1.3"/><circle cx="11.5" cy="31.3" r="1.3"/><circle cx="5.0" cy="12.7" r="1.1"/><circle cx="8.5" cy="-0.1" r="1.2"/><circle cx="8.5" cy="29.9" r="1.2"/><circle cx="13.0" cy="11.1" r="1.1"/></g></pattern><pattern id="pe02_9" patternUnits="userSpaceOnUse" x="328.5" y="652.6" width="70" height="52"><g fill="#3a52a4"><circle cx="9.4" cy="22.2" r="1.5"/><circle cx="31.6" cy="12.1" r="1.4"/><circle cx="21.4" cy="30.4" r="1.1"/><circle cx="52.9" cy="2.6" r="1.2"/><circle cx="52.9" cy="54.6" r="1.2"/><circle cx="65.1" cy="4.5" r="1.2"/><circle cx="13.0" cy="19.8" r="1.3"/><circle cx="-3.2" cy="-2.7" r="1.2"/><circle cx="-3.2" cy="49.3" r="1.2"/><circle cx="66.8" cy="-2.7" r="1.2"/><circle cx="66.8" cy="49.3" r="1.2"/><circle cx="53.5" cy="23.9" r="1.1"/><circle cx="18.8" cy="16.5" r="1.2"/><circle cx="-0.2" cy="41.6" r="1.1"/><circle cx="69.8" cy="41.6" r="1.1"/><circle cx="40.6" cy="15.2" r="1.2"/><circle cx="61.1" cy="3.5" r="1.4"/><circle cx="61.1" cy="55.5" r="1.4"/><circle cx="62.2" cy="0.1" r="1.2"/><circle cx="62.2" cy="52.1" r="1.2"/><circle cx="16.5" cy="46.1" r="1.5"/><circle cx="53.5" cy="14.4" r="1.1"/><circle cx="63.3" cy="11.7" r="1.1"/><circle cx="5.7" cy="42.8" r="1.3"/><circle cx="12.4" cy="1.1" r="1.3"/><circle cx="12.4" cy="53.1" r="1.3"/><circle cx="2.9" cy="0.1" r="1.3"/><circle cx="2.9" cy="52.1" r="1.3"/><circle cx="72.9" cy="0.1" r="1.3"/><circle cx="72.9" cy="52.1" r="1.3"/><circle cx="39.5" cy="28.1" r="1.6"/><circle cx="3.1" cy="3.5" r="1.1"/><circle cx="3.1" cy="55.5" r="1.1"/><circle cx="73.1" cy="3.5" r="1.1"/><circle cx="73.1" cy="55.5" r="1.1"/><circle cx="43.0" cy="34.2" r="1.1"/><circle cx="40.2" cy="2.8" r="1.1"/><circle cx="40.2" cy="54.8" r="1.1"/><circle cx="19.3" cy="7.0" r="1.2"/><circle cx="20.7" cy="21.3" r="1.5"/><circle cx="53.0" cy="42.0" r="1.1"/><circle cx="55.6" cy="19.8" r="1.5"/><circle cx="1.5" cy="15.4" r="1.1"/><circle cx="71.5" cy="15.4" r="1.1"/><circle cx="18.5" cy="39.5" r="1.2"/><circle cx="9.5" cy="41.5" r="1.2"/><circle cx="37.9" cy="34.1" r="1.5"/><circle cx="41.1" cy="24.7" r="1.2"/><circle cx="47.0" cy="37.7" r="1.5"/><circle cx="46.0" cy="45.3" r="1.0"/><circle cx="22.3" cy="16.4" r="1.4"/><circle cx="58.9" cy="32.0" r="1.2"/><circle cx="41.6" cy="10.3" r="1.3"/><circle cx="13.4" cy="34.4" r="1.0"/><circle cx="7.5" cy="31.1" r="1.0"/><circle cx="28.9" cy="23.8" r="1.5"/><circle cx="63.5" cy="24.4" r="1.0"/><circle cx="22.9" cy="8.0" r="1.3"/><circle cx="28.0" cy="5.5" r="1.5"/><circle cx="43.3" cy="41.8" r="1.4"/><circle cx="24.8" cy="26.5" r="1.1"/><circle cx="-1.7" cy="7.2" r="1.5"/><circle cx="68.3" cy="7.2" r="1.5"/><circle cx="15.7" cy="26.3" r="1.5"/><circle cx="26.7" cy="18.0" r="1.3"/><circle cx="11.8" cy="15.9" r="1.2"/><circle cx="29.8" cy="28.5" r="1.6"/><circle cx="58.2" cy="46.8" r="1.2"/><circle cx="26.3" cy="38.8" r="1.0"/><circle cx="65.3" cy="29.3" r="1.2"/><circle cx="58.3" cy="41.2" r="1.4"/><circle cx="-0.6" cy="46.9" r="1.6"/><circle cx="69.4" cy="46.9" r="1.6"/></g></pattern><filter id="fe02_10" filterUnits="userSpaceOnUse" x="128.5" y="452.6" width="554" height="514" color-interpolation-filters="sRGB"><feTurbulence type="fractalNoise" baseFrequency="0.015 0.09" numOctaves="2" seed="11" result="n"/><feColorMatrix in="n" type="matrix" values="0 0 0 0 0  0 0 0 0 0  0 0 0 0 0  3.0 0 0 0 -1.75" result="a"/><feFlood flood-color="#8a4a18"/><feComposite in2="a" operator="in"/></filter><clipPath id="ce03"><rect x="484.3" y="652.6" width="153.70" height="114.40"/></clipPath><filter id="fe03_0" filterUnits="userSpaceOnUse" x="284.3" y="452.6" width="554" height="514" color-interpolation-filters="sRGB"><feTurbulence type="fractalNoise" baseFrequency="0.07" numOctaves="3" seed="5" result="n"/><feColorMatrix in="n" type="matrix" values="0 0 0 0 0  0 0 0 0 0  0 0 0 0 0  2.6 0 0 0 -0.85" result="a"/><feFlood flood-color="#b08a60"/><feComposite in2="a" operator="in"/></filter><filter id="fe03_1" filterUnits="userSpaceOnUse" x="284.3" y="452.6" width="554" height="514" color-interpolation-filters="sRGB"><feTurbulence type="fractalNoise" baseFrequency="0.3" numOctaves="2" seed="15" result="n"/><feColorMatrix in="n" type="matrix" values="0 0 0 0 0  0 0 0 0 0  0 0 0 0 0  2.6 0 0 0 -0.95" result="a"/><feFlood flood-color="#a87848"/><feComposite in2="a" operator="in"/></filter><filter id="fe03_2" filterUnits="userSpaceOnUse" x="284.3" y="452.6" width="554" height="514" color-interpolation-filters="sRGB"><feTurbulence type="fractalNoise" baseFrequency="0.05" numOctaves="2" seed="16" result="n"/><feColorMatrix in="n" type="matrix" values="0 0 0 0 0  0 0 0 0 0  0 0 0 0 0  3.0 0 0 0 -1.1" result="a"/><feFlood flood-color="#f2eee8"/><feComposite in2="a" operator="in"/></filter><filter id="fe03_3" x="-60%" y="-60%" width="220%" height="220%"><feGaussianBlur stdDeviation="8"/></filter><filter id="fe03_4" x="-60%" y="-60%" width="220%" height="220%"><feGaussianBlur stdDeviation="8"/></filter><filter id="fe03_5" x="-60%" y="-60%" width="220%" height="220%"><feGaussianBlur stdDeviation="8"/></filter><filter id="fe03_6" x="-60%" y="-60%" width="220%" height="220%"><feGaussianBlur stdDeviation="6"/></filter><pattern id="pe03_7" patternUnits="userSpaceOnUse" x="484.3" y="652.6" width="80" height="60"><g fill="#56649c"><ellipse cx="39.8" cy="25.7" rx="3.0" ry="2.1" transform="rotate(-30 39.8 25.7)"/><ellipse cx="63.6" cy="47.6" rx="2.5" ry="1.7" transform="rotate(-21 63.6 47.6)"/><ellipse cx="-3.7" cy="11.2" rx="3.0" ry="2.0" transform="rotate(-38 -3.7 11.2)"/><ellipse cx="76.3" cy="11.2" rx="3.0" ry="2.0" transform="rotate(-38 76.3 11.2)"/><ellipse cx="53.5" cy="11.2" rx="3.2" ry="2.1" transform="rotate(-42 53.5 11.2)"/><ellipse cx="54.1" cy="4.4" rx="3.0" ry="2.0" transform="rotate(-39 54.1 4.4)"/><ellipse cx="54.2" cy="31.6" rx="2.1" ry="1.4" transform="rotate(-42 54.2 31.6)"/><ellipse cx="52.7" cy="-1.8" rx="3.2" ry="2.1" transform="rotate(-47 52.7 -1.8)"/><ellipse cx="52.7" cy="58.2" rx="3.2" ry="2.1" transform="rotate(-47 52.7 58.2)"/><ellipse cx="23.8" cy="40.0" rx="2.3" ry="1.5" transform="rotate(-21 23.8 40.0)"/><ellipse cx="41.9" cy="13.8" rx="2.7" ry="1.8" transform="rotate(-49 41.9 13.8)"/><ellipse cx="13.2" cy="28.0" rx="2.5" ry="1.7" transform="rotate(-43 13.2 28.0)"/><ellipse cx="21.4" cy="52.6" rx="3.2" ry="2.1" transform="rotate(-47 21.4 52.6)"/><ellipse cx="47.6" cy="47.4" rx="2.8" ry="1.9" transform="rotate(-46 47.6 47.4)"/><ellipse cx="60.5" cy="14.9" rx="2.4" ry="1.6" transform="rotate(-27 60.5 14.9)"/><ellipse cx="24.7" cy="30.4" rx="2.7" ry="1.8" transform="rotate(-42 24.7 30.4)"/><ellipse cx="73.1" cy="48.4" rx="2.5" ry="1.7" transform="rotate(-34 73.1 48.4)"/><ellipse cx="29.9" cy="42.1" rx="2.9" ry="2.0" transform="rotate(-46 29.9 42.1)"/><ellipse cx="4.1" cy="25.4" rx="2.1" ry="1.4" transform="rotate(-43 4.1 25.4)"/><ellipse cx="45.9" cy="-3.6" rx="2.4" ry="1.6" transform="rotate(-21 45.9 -3.6)"/><ellipse cx="45.9" cy="56.4" rx="2.4" ry="1.6" transform="rotate(-21 45.9 56.4)"/><ellipse cx="4.0" cy="35.0" rx="2.8" ry="1.9" transform="rotate(-39 4.0 35.0)"/><ellipse cx="84.0" cy="35.0" rx="2.8" ry="1.9" transform="rotate(-39 84.0 35.0)"/><ellipse cx="52.7" cy="52.4" rx="2.5" ry="1.7" transform="rotate(-24 52.7 52.4)"/><ellipse cx="65.4" cy="53.2" rx="2.8" ry="1.9" transform="rotate(-29 65.4 53.2)"/><ellipse cx="53.0" cy="40.7" rx="2.1" ry="1.4" transform="rotate(-22 53.0 40.7)"/><ellipse cx="2.0" cy="3.9" rx="2.9" ry="2.0" transform="rotate(-47 2.0 3.9)"/><ellipse cx="2.0" cy="63.9" rx="2.9" ry="2.0" transform="rotate(-47 2.0 63.9)"/><ellipse cx="82.0" cy="3.9" rx="2.9" ry="2.0" transform="rotate(-47 82.0 3.9)"/><ellipse cx="82.0" cy="63.9" rx="2.9" ry="2.0" transform="rotate(-47 82.0 63.9)"/><ellipse cx="69.5" cy="17.2" rx="2.3" ry="1.6" transform="rotate(-26 69.5 17.2)"/><ellipse cx="39.1" cy="46.7" rx="2.9" ry="1.9" transform="rotate(-32 39.1 46.7)"/><ellipse cx="-2.1" cy="-0.5" rx="2.1" ry="1.4" transform="rotate(-44 -2.1 -0.5)"/><ellipse cx="-2.1" cy="59.5" rx="2.1" ry="1.4" transform="rotate(-44 -2.1 59.5)"/><ellipse cx="77.9" cy="-0.5" rx="2.1" ry="1.4" transform="rotate(-44 77.9 -0.5)"/><ellipse cx="77.9" cy="59.5" rx="2.1" ry="1.4" transform="rotate(-44 77.9 59.5)"/><ellipse cx="65.1" cy="-0.8" rx="3.2" ry="2.2" transform="rotate(-24 65.1 -0.8)"/><ellipse cx="65.1" cy="59.2" rx="3.2" ry="2.2" transform="rotate(-24 65.1 59.2)"/><ellipse cx="-3.3" cy="28.6" rx="3.0" ry="2.0" transform="rotate(-34 -3.3 28.6)"/><ellipse cx="76.7" cy="28.6" rx="3.0" ry="2.0" transform="rotate(-34 76.7 28.6)"/><ellipse cx="20.9" cy="-2.1" rx="2.1" ry="1.4" transform="rotate(-49 20.9 -2.1)"/><ellipse cx="20.9" cy="57.9" rx="2.1" ry="1.4" transform="rotate(-49 20.9 57.9)"/><ellipse cx="64.5" cy="7.3" rx="2.8" ry="1.9" transform="rotate(-25 64.5 7.3)"/><ellipse cx="26.4" cy="11.4" rx="3.1" ry="2.1" transform="rotate(-22 26.4 11.4)"/><ellipse cx="26.9" cy="-2.3" rx="2.2" ry="1.5" transform="rotate(-21 26.9 -2.3)"/><ellipse cx="26.9" cy="57.7" rx="2.2" ry="1.5" transform="rotate(-21 26.9 57.7)"/><ellipse cx="15.5" cy="54.2" rx="3.2" ry="2.1" transform="rotate(-42 15.5 54.2)"/><ellipse cx="31.7" cy="15.9" rx="2.6" ry="1.7" transform="rotate(-29 31.7 15.9)"/><ellipse cx="74.7" cy="6.4" rx="2.3" ry="1.6" transform="rotate(-35 74.7 6.4)"/><ellipse cx="33.6" cy="-0.3" rx="3.2" ry="2.2" transform="rotate(-21 33.6 -0.3)"/><ellipse cx="33.6" cy="59.7" rx="3.2" ry="2.2" transform="rotate(-21 33.6 59.7)"/><ellipse cx="-3.4" cy="17.4" rx="2.3" ry="1.6" transform="rotate(-26 -3.4 17.4)"/><ellipse cx="76.6" cy="17.4" rx="2.3" ry="1.6" transform="rotate(-26 76.6 17.4)"/><ellipse cx="57.7" cy="21.9" rx="3.2" ry="2.2" transform="rotate(-43 57.7 21.9)"/><ellipse cx="26.6" cy="46.8" rx="2.9" ry="2.0" transform="rotate(-28 26.6 46.8)"/><ellipse cx="43.2" cy="44.1" rx="2.6" ry="1.8" transform="rotate(-29 43.2 44.1)"/><ellipse cx="44.4" cy="21.5" rx="2.9" ry="2.0" transform="rotate(-29 44.4 21.5)"/><ellipse cx="39.4" cy="-1.7" rx="2.9" ry="1.9" transform="rotate(-29 39.4 -1.7)"/><ellipse cx="39.4" cy="58.3" rx="2.9" ry="1.9" transform="rotate(-29 39.4 58.3)"/><ellipse cx="43.1" cy="49.1" rx="2.5" ry="1.7" transform="rotate(-21 43.1 49.1)"/><ellipse cx="7.8" cy="0.3" rx="2.5" ry="1.7" transform="rotate(-24 7.8 0.3)"/><ellipse cx="7.8" cy="60.3" rx="2.5" ry="1.7" transform="rotate(-24 7.8 60.3)"/><ellipse cx="42.3" cy="31.8" rx="2.6" ry="1.8" transform="rotate(-35 42.3 31.8)"/><ellipse cx="17.7" cy="9.1" rx="3.0" ry="2.0" transform="rotate(-22 17.7 9.1)"/><ellipse cx="19.0" cy="19.6" rx="2.6" ry="1.8" transform="rotate(-31 19.0 19.6)"/><ellipse cx="17.5" cy="38.6" rx="2.9" ry="2.0" transform="rotate(-47 17.5 38.6)"/><ellipse cx="59.4" cy="9.4" rx="2.5" ry="1.7" transform="rotate(-21 59.4 9.4)"/><ellipse cx="-2.6" cy="41.8" rx="2.4" ry="1.6" transform="rotate(-46 -2.6 41.8)"/><ellipse cx="77.4" cy="41.8" rx="2.4" ry="1.6" transform="rotate(-46 77.4 41.8)"/><ellipse cx="13.8" cy="35.3" rx="2.4" ry="1.6" transform="rotate(-23 13.8 35.3)"/><ellipse cx="37.1" cy="30.9" rx="3.2" ry="2.2" transform="rotate(-29 37.1 30.9)"/><ellipse cx="11.6" cy="10.0" rx="3.2" ry="2.2" transform="rotate(-42 11.6 10.0)"/><ellipse cx="60.1" cy="-0.2" rx="2.1" ry="1.4" transform="rotate(-22 60.1 -0.2)"/><ellipse cx="60.1" cy="59.8" rx="2.1" ry="1.4" transform="rotate(-22 60.1 59.8)"/><ellipse cx="17.1" cy="30.2" rx="2.2" ry="1.5" transform="rotate(-30 17.1 30.2)"/><ellipse cx="60.6" cy="38.3" rx="2.5" ry="1.7" transform="rotate(-36 60.6 38.3)"/><ellipse cx="32.6" cy="50.5" rx="3.1" ry="2.1" transform="rotate(-33 32.6 50.5)"/><ellipse cx="70.8" cy="-3.1" rx="3.1" ry="2.1" transform="rotate(-46 70.8 -3.1)"/><ellipse cx="70.8" cy="56.9" rx="3.1" ry="2.1" transform="rotate(-46 70.8 56.9)"/><ellipse cx="3.3" cy="14.3" rx="2.5" ry="1.7" transform="rotate(-20 3.3 14.3)"/><ellipse cx="83.3" cy="14.3" rx="2.5" ry="1.7" transform="rotate(-20 83.3 14.3)"/><ellipse cx="13.8" cy="42.2" rx="2.3" ry="1.5" transform="rotate(-48 13.8 42.2)"/><ellipse cx="8.9" cy="47.9" rx="2.3" ry="1.6" transform="rotate(-40 8.9 47.9)"/><ellipse cx="57.2" cy="44.5" rx="2.3" ry="1.5" transform="rotate(-40 57.2 44.5)"/><ellipse cx="45.8" cy="26.5" rx="2.2" ry="1.5" transform="rotate(-32 45.8 26.5)"/><ellipse cx="64.1" cy="18.4" rx="3.1" ry="2.1" transform="rotate(-21 64.1 18.4)"/><ellipse cx="68.3" cy="33.3" rx="2.4" ry="1.6" transform="rotate(-44 68.3 33.3)"/><ellipse cx="9.9" cy="39.4" rx="2.7" ry="1.8" transform="rotate(-31 9.9 39.4)"/><ellipse cx="61.9" cy="33.0" rx="3.1" ry="2.1" transform="rotate(-39 61.9 33.0)"/><ellipse cx="51.5" cy="24.0" rx="2.2" ry="1.5" transform="rotate(-21 51.5 24.0)"/><ellipse cx="1.9" cy="18.4" rx="2.4" ry="1.6" transform="rotate(-22 1.9 18.4)"/><ellipse cx="81.9" cy="18.4" rx="2.4" ry="1.6" transform="rotate(-22 81.9 18.4)"/><ellipse cx="58.6" cy="27.2" rx="2.3" ry="1.6" transform="rotate(-45 58.6 27.2)"/><ellipse cx="54.3" cy="47.4" rx="2.3" ry="1.5" transform="rotate(-26 54.3 47.4)"/><ellipse cx="31.3" cy="26.8" rx="2.8" ry="1.9" transform="rotate(-38 31.3 26.8)"/><ellipse cx="68.0" cy="43.1" rx="2.4" ry="1.6" transform="rotate(-27 68.0 43.1)"/><ellipse cx="9.9" cy="55.9" rx="2.6" ry="1.7" transform="rotate(-34 9.9 55.9)"/><ellipse cx="38.7" cy="9.0" rx="2.8" ry="1.9" transform="rotate(-36 38.7 9.0)"/><ellipse cx="17.5" cy="0.6" rx="2.3" ry="1.5" transform="rotate(-36 17.5 0.6)"/><ellipse cx="17.5" cy="60.6" rx="2.3" ry="1.5" transform="rotate(-36 17.5 60.6)"/><ellipse cx="4.0" cy="-3.6" rx="2.6" ry="1.8" transform="rotate(-39 4.0 -3.6)"/><ellipse cx="4.0" cy="56.4" rx="2.6" ry="1.8" transform="rotate(-39 4.0 56.4)"/><ellipse cx="10.2" cy="24.8" rx="2.4" ry="1.6" transform="rotate(-50 10.2 24.8)"/><ellipse cx="49.0" cy="33.1" rx="3.1" ry="2.1" transform="rotate(-27 49.0 33.1)"/><ellipse cx="36.7" cy="40.3" rx="2.3" ry="1.6" transform="rotate(-38 36.7 40.3)"/></g></pattern><filter id="mbe03_8" x="-60%" y="-60%" width="220%" height="220%"><feGaussianBlur stdDeviation="4"/></filter><mask id="me03_8" maskUnits="userSpaceOnUse" x="484.3" y="652.6" width="153.70" height="114.40"><g filter="url(#mbe03_8)" fill="#fff"><ellipse cx="584.3" cy="670.6" rx="45" ry="16"/><ellipse cx="609.3" cy="747.6" rx="30" ry="20"/><ellipse cx="634.3" cy="692.6" rx="8" ry="14"/></g></mask><pattern id="pe03_8" patternUnits="userSpaceOnUse" x="484.3" y="652.6" width="40" height="30"><g fill="#46558e"><ellipse cx="7.2" cy="3.0" rx="2.2" ry="1.7" transform="rotate(22 7.2 3.0)"/><ellipse cx="7.2" cy="33.0" rx="2.2" ry="1.7" transform="rotate(22 7.2 33.0)"/><ellipse cx="-3.6" cy="21.7" rx="2.6" ry="1.9" transform="rotate(10 -3.6 21.7)"/><ellipse cx="36.4" cy="21.7" rx="2.6" ry="1.9" transform="rotate(10 36.4 21.7)"/><ellipse cx="18.8" cy="14.5" rx="2.6" ry="2.0" transform="rotate(0 18.8 14.5)"/><ellipse cx="1.3" cy="11.6" rx="2.4" ry="1.8" transform="rotate(13 1.3 11.6)"/><ellipse cx="41.3" cy="11.6" rx="2.4" ry="1.8" transform="rotate(13 41.3 11.6)"/><ellipse cx="3.4" cy="17.8" rx="2.3" ry="1.8" transform="rotate(10 3.4 17.8)"/><ellipse cx="43.4" cy="17.8" rx="2.3" ry="1.8" transform="rotate(10 43.4 17.8)"/><ellipse cx="13.3" cy="10.7" rx="2.5" ry="1.9" transform="rotate(22 13.3 10.7)"/><ellipse cx="35.1" cy="16.4" rx="1.9" ry="1.5" transform="rotate(16 35.1 16.4)"/><ellipse cx="29.1" cy="8.0" rx="1.9" ry="1.4" transform="rotate(4 29.1 8.0)"/><ellipse cx="34.8" cy="11.7" rx="2.1" ry="1.6" transform="rotate(1 34.8 11.7)"/><ellipse cx="18.8" cy="9.0" rx="1.8" ry="1.4" transform="rotate(4 18.8 9.0)"/><ellipse cx="11.7" cy="1.9" rx="2.2" ry="1.7" transform="rotate(17 11.7 1.9)"/><ellipse cx="11.7" cy="31.9" rx="2.2" ry="1.7" transform="rotate(17 11.7 31.9)"/><ellipse cx="8.4" cy="11.0" rx="2.0" ry="1.5" transform="rotate(23 8.4 11.0)"/><ellipse cx="11.0" cy="22.8" rx="2.1" ry="1.6" transform="rotate(10 11.0 22.8)"/><ellipse cx="29.1" cy="17.7" rx="2.1" ry="1.6" transform="rotate(7 29.1 17.7)"/><ellipse cx="30.7" cy="-0.7" rx="2.2" ry="1.7" transform="rotate(0 30.7 -0.7)"/><ellipse cx="30.7" cy="29.3" rx="2.2" ry="1.7" transform="rotate(0 30.7 29.3)"/><ellipse cx="31.8" cy="21.3" rx="2.1" ry="1.6" transform="rotate(12 31.8 21.3)"/><ellipse cx="-2.6" cy="7.3" rx="2.4" ry="1.8" transform="rotate(4 -2.6 7.3)"/><ellipse cx="37.4" cy="7.3" rx="2.4" ry="1.8" transform="rotate(4 37.4 7.3)"/><ellipse cx="22.2" cy="1.9" rx="2.3" ry="1.7" transform="rotate(13 22.2 1.9)"/><ellipse cx="22.2" cy="31.9" rx="2.3" ry="1.7" transform="rotate(13 22.2 31.9)"/><ellipse cx="11.8" cy="16.9" rx="2.2" ry="1.7" transform="rotate(-4 11.8 16.9)"/><ellipse cx="-1.0" cy="-3.3" rx="2.4" ry="1.8" transform="rotate(24 -1.0 -3.3)"/><ellipse cx="-1.0" cy="26.7" rx="2.4" ry="1.8" transform="rotate(24 -1.0 26.7)"/><ellipse cx="39.0" cy="-3.3" rx="2.4" ry="1.8" transform="rotate(24 39.0 -3.3)"/><ellipse cx="39.0" cy="26.7" rx="2.4" ry="1.8" transform="rotate(24 39.0 26.7)"/><ellipse cx="2.6" cy="5.7" rx="2.0" ry="1.5" transform="rotate(14 2.6 5.7)"/><ellipse cx="42.6" cy="5.7" rx="2.0" ry="1.5" transform="rotate(14 42.6 5.7)"/><ellipse cx="24.3" cy="11.8" rx="2.6" ry="2.0" transform="rotate(-4 24.3 11.8)"/><ellipse cx="22.5" cy="-3.0" rx="2.3" ry="1.7" transform="rotate(-4 22.5 -3.0)"/><ellipse cx="22.5" cy="27.0" rx="2.3" ry="1.7" transform="rotate(-4 22.5 27.0)"/><ellipse cx="14.0" cy="-2.1" rx="2.2" ry="1.7" transform="rotate(13 14.0 -2.1)"/><ellipse cx="14.0" cy="27.9" rx="2.2" ry="1.7" transform="rotate(13 14.0 27.9)"/><ellipse cx="26.0" cy="24.5" rx="2.2" ry="1.7" transform="rotate(19 26.0 24.5)"/></g></pattern><clipPath id="ce10"><rect x="21" y="769" width="154.00" height="115.00"/></clipPath><filter id="fe10_0" filterUnits="userSpaceOnUse" x="-179" y="569" width="554" height="515" color-interpolation-filters="sRGB"><feTurbulence type="fractalNoise" baseFrequency="0.25" numOctaves="3" seed="13" result="n"/><feColorMatrix in="n" type="matrix" values="0 0 0 0 0  0 0 0 0 0  0 0 0 0 0  3.2 0 0 0 -1.4" result="a"/><feFlood flood-color="#a8703c"/><feComposite in2="a" operator="in"/></filter><filter id="fe10_1" filterUnits="userSpaceOnUse" x="-179" y="569" width="554" height="515" color-interpolation-filters="sRGB"><feTurbulence type="fractalNoise" baseFrequency="0.14" numOctaves="3" seed="14" result="n"/><feColorMatrix in="n" type="matrix" values="0 0 0 0 0  0 0 0 0 0  0 0 0 0 0  4.0 0 0 0 -2.2" result="a"/><feFlood flood-color="#6a3410"/><feComposite in2="a" operator="in"/></filter><filter id="fe10_2" filterUnits="userSpaceOnUse" x="-179" y="569" width="554" height="515" color-interpolation-filters="sRGB"><feTurbulence type="fractalNoise" baseFrequency="0.3" numOctaves="2" seed="27" result="n"/><feColorMatrix in="n" type="matrix" values="0 0 0 0 0  0 0 0 0 0  0 0 0 0 0  3.5 0 0 0 -1.7" result="a"/><feFlood flood-color="#8a5020"/><feComposite in2="a" operator="in"/></filter><filter id="fe10_3" x="-60%" y="-60%" width="220%" height="220%"><feGaussianBlur stdDeviation="8"/></filter><filter id="fe10_4" x="-60%" y="-60%" width="220%" height="220%"><feGaussianBlur stdDeviation="6"/></filter><filter id="fe10_5" x="-60%" y="-60%" width="220%" height="220%"><feGaussianBlur stdDeviation="5"/></filter><filter id="fe10_6" x="-60%" y="-60%" width="220%" height="220%"><feGaussianBlur stdDeviation="3"/></filter><pattern id="pe10_7" patternUnits="userSpaceOnUse" x="21" y="769" width="70" height="52"><g fill="#86a4cc"><circle cx="33.7" cy="31.8" r="1.6"/><circle cx="25.9" cy="19.8" r="1.8"/><circle cx="65.8" cy="13.7" r="2.0"/><circle cx="9.0" cy="31.8" r="1.8"/><circle cx="31.5" cy="24.7" r="1.7"/><circle cx="54.4" cy="8.2" r="2.0"/><circle cx="28.4" cy="28.5" r="1.8"/><circle cx="15.6" cy="12.3" r="1.8"/><circle cx="4.7" cy="10.7" r="1.8"/><circle cx="24.8" cy="39.5" r="1.6"/><circle cx="21.1" cy="21.9" r="1.9"/><circle cx="46.9" cy="21.1" r="2.0"/><circle cx="4.3" cy="21.6" r="1.8"/><circle cx="14.9" cy="25.1" r="1.5"/><circle cx="61.0" cy="13.1" r="2.1"/><circle cx="59.5" cy="24.7" r="1.7"/><circle cx="0.9" cy="40.0" r="2.0"/><circle cx="70.9" cy="40.0" r="2.0"/><circle cx="62.5" cy="21.1" r="1.7"/><circle cx="45.6" cy="4.8" r="1.6"/><circle cx="31.6" cy="16.1" r="2.0"/><circle cx="35.2" cy="-0.5" r="1.8"/><circle cx="35.2" cy="51.5" r="1.8"/><circle cx="34.1" cy="41.1" r="2.1"/><circle cx="64.6" cy="45.5" r="1.9"/><circle cx="33.8" cy="36.5" r="1.7"/><circle cx="11.5" cy="20.6" r="2.0"/><circle cx="1.5" cy="3.3" r="1.9"/><circle cx="1.5" cy="55.3" r="1.9"/><circle cx="71.5" cy="3.3" r="1.9"/><circle cx="71.5" cy="55.3" r="1.9"/><circle cx="60.4" cy="-0.4" r="1.4"/><circle cx="60.4" cy="51.6" r="1.4"/><circle cx="38.5" cy="46.2" r="1.5"/><circle cx="36.6" cy="21.4" r="1.9"/><circle cx="61.8" cy="30.2" r="2.0"/><circle cx="50.6" cy="43.1" r="1.7"/><circle cx="-3.2" cy="8.3" r="1.5"/><circle cx="66.8" cy="8.3" r="1.5"/><circle cx="12.2" cy="1.9" r="1.4"/><circle cx="12.2" cy="53.9" r="1.4"/><circle cx="29.0" cy="7.1" r="1.8"/><circle cx="52.3" cy="19.7" r="1.6"/><circle cx="6.1" cy="-2.1" r="2.0"/><circle cx="6.1" cy="49.9" r="2.0"/><circle cx="45.1" cy="10.9" r="2.0"/><circle cx="15.7" cy="-2.3" r="1.8"/><circle cx="15.7" cy="49.7" r="1.8"/><circle cx="24.5" cy="5.4" r="2.1"/><circle cx="20.2" cy="29.1" r="1.6"/><circle cx="7.3" cy="17.8" r="2.1"/><circle cx="49.7" cy="34.4" r="2.0"/><circle cx="40.7" cy="41.3" r="1.5"/><circle cx="61.8" cy="41.4" r="1.5"/><circle cx="50.6" cy="-2.0" r="1.4"/><circle cx="50.6" cy="50.0" r="1.4"/><circle cx="49.5" cy="7.3" r="2.0"/><circle cx="46.0" cy="15.5" r="1.8"/><circle cx="8.7" cy="12.5" r="1.6"/><circle cx="41.5" cy="8.3" r="1.4"/><circle cx="26.7" cy="13.8" r="1.5"/><circle cx="33.5" cy="7.7" r="2.1"/><circle cx="20.2" cy="45.1" r="2.0"/><circle cx="29.0" cy="35.6" r="1.4"/><circle cx="0.9" cy="14.3" r="1.9"/><circle cx="70.9" cy="14.3" r="1.9"/><circle cx="57.5" cy="45.3" r="1.7"/><circle cx="32.4" cy="47.5" r="1.6"/><circle cx="39.4" cy="-0.6" r="1.6"/><circle cx="39.4" cy="51.4" r="1.6"/><circle cx="-1.0" cy="20.5" r="1.8"/><circle cx="69.0" cy="20.5" r="1.8"/><circle cx="44.1" cy="25.2" r="1.8"/><circle cx="12.2" cy="5.7" r="1.5"/><circle cx="17.6" cy="32.8" r="1.8"/><circle cx="53.5" cy="27.6" r="2.0"/><circle cx="20.8" cy="9.1" r="1.5"/><circle cx="49.6" cy="11.7" r="1.6"/><circle cx="5.0" cy="43.4" r="1.8"/><circle cx="24.8" cy="24.5" r="1.7"/><circle cx="57.4" cy="21.2" r="1.5"/><circle cx="37.6" cy="30.5" r="1.8"/><circle cx="-2.0" cy="29.8" r="1.5"/><circle cx="68.0" cy="29.8" r="1.5"/><circle cx="7.8" cy="27.1" r="1.4"/></g></pattern><clipPath id="ce11"><rect x="177.6" y="769" width="148.20" height="115.00"/></clipPath><filter id="fe11_0" filterUnits="userSpaceOnUse" x="-22.400000000000006" y="569" width="548" height="515" color-interpolation-filters="sRGB"><feTurbulence type="fractalNoise" baseFrequency="0.3" numOctaves="2" seed="17" result="n"/><feColorMatrix in="n" type="matrix" values="0 0 0 0 0  0 0 0 0 0  0 0 0 0 0  2.6 0 0 0 -0.9" result="a"/><feFlood flood-color="#a0703e"/><feComposite in2="a" operator="in"/></filter><filter id="fe11_1" filterUnits="userSpaceOnUse" x="-22.400000000000006" y="569" width="548" height="515" color-interpolation-filters="sRGB"><feTurbulence type="fractalNoise" baseFrequency="0.06" numOctaves="2" seed="18" result="n"/><feColorMatrix in="n" type="matrix" values="0 0 0 0 0  0 0 0 0 0  0 0 0 0 0  2.2 0 0 0 -0.7" result="a"/><feFlood flood-color="#8a5a2c"/><feComposite in2="a" operator="in"/></filter><filter id="fe11_2" x="-60%" y="-60%" width="220%" height="220%"><feGaussianBlur stdDeviation="10"/></filter><filter id="fe11_3" x="-60%" y="-60%" width="220%" height="220%"><feGaussianBlur stdDeviation="10"/></filter><pattern id="pe11_4" patternUnits="userSpaceOnUse" x="177.6" y="769" width="60" height="45"><g fill="#6c80b0"><circle cx="-0.4" cy="16.0" r="1.4"/><circle cx="59.6" cy="16.0" r="1.4"/><circle cx="43.9" cy="0.4" r="1.1"/><circle cx="43.9" cy="45.4" r="1.1"/><circle cx="29.0" cy="18.5" r="1.1"/><circle cx="24.7" cy="32.6" r="1.3"/><circle cx="25.0" cy="40.8" r="1.0"/><circle cx="20.9" cy="21.7" r="1.4"/><circle cx="11.2" cy="17.4" r="1.1"/><circle cx="14.6" cy="14.1" r="1.3"/><circle cx="49.8" cy="26.9" r="1.5"/><circle cx="-0.9" cy="40.3" r="1.3"/><circle cx="59.1" cy="40.3" r="1.3"/><circle cx="16.2" cy="25.4" r="1.2"/><circle cx="48.9" cy="14.4" r="1.3"/><circle cx="45.2" cy="12.5" r="1.5"/><circle cx="23.2" cy="37.3" r="1.1"/><circle cx="5.6" cy="7.5" r="1.0"/><circle cx="-1.5" cy="7.5" r="1.5"/><circle cx="58.5" cy="7.5" r="1.5"/><circle cx="0.3" cy="31.9" r="1.5"/><circle cx="60.3" cy="31.9" r="1.5"/><circle cx="45.6" cy="28.9" r="1.4"/><circle cx="35.8" cy="14.0" r="1.4"/><circle cx="-1.7" cy="27.1" r="1.5"/><circle cx="58.3" cy="27.1" r="1.5"/><circle cx="2.9" cy="6.9" r="1.1"/><circle cx="62.9" cy="6.9" r="1.1"/><circle cx="24.6" cy="25.9" r="1.2"/><circle cx="54.9" cy="13.3" r="1.0"/><circle cx="33.6" cy="29.7" r="1.1"/><circle cx="19.2" cy="28.3" r="1.3"/><circle cx="21.9" cy="17.0" r="1.3"/><circle cx="16.0" cy="33.3" r="1.1"/><circle cx="4.5" cy="1.5" r="1.1"/><circle cx="4.5" cy="46.5" r="1.1"/><circle cx="2.9" cy="25.8" r="1.2"/><circle cx="62.9" cy="25.8" r="1.2"/><circle cx="40.4" cy="19.1" r="1.2"/><circle cx="30.7" cy="15.8" r="1.1"/><circle cx="29.9" cy="10.9" r="1.1"/><circle cx="32.9" cy="-3.2" r="1.5"/><circle cx="32.9" cy="41.8" r="1.5"/><circle cx="19.8" cy="31.8" r="1.3"/><circle cx="16.9" cy="21.4" r="1.4"/><circle cx="37.7" cy="31.6" r="1.2"/><circle cx="10.6" cy="6.8" r="1.4"/><circle cx="-3.7" cy="36.1" r="1.3"/><circle cx="56.3" cy="36.1" r="1.3"/><circle cx="7.5" cy="31.7" r="1.3"/><circle cx="15.8" cy="7.4" r="1.3"/><circle cx="26.0" cy="-0.3" r="1.1"/><circle cx="26.0" cy="44.7" r="1.1"/><circle cx="-1.3" cy="1.1" r="1.2"/><circle cx="-1.3" cy="46.1" r="1.2"/><circle cx="58.7" cy="1.1" r="1.2"/><circle cx="58.7" cy="46.1" r="1.2"/><circle cx="-3.7" cy="18.9" r="1.1"/><circle cx="56.3" cy="18.9" r="1.1"/><circle cx="39.8" cy="11.3" r="1.0"/><circle cx="44.5" cy="3.6" r="1.1"/><circle cx="44.5" cy="48.6" r="1.1"/><circle cx="42.4" cy="28.2" r="1.2"/><circle cx="19.0" cy="1.1" r="1.4"/><circle cx="19.0" cy="46.1" r="1.4"/><circle cx="19.9" cy="-3.9" r="1.4"/><circle cx="19.9" cy="41.1" r="1.4"/><circle cx="50.2" cy="2.4" r="1.5"/><circle cx="50.2" cy="47.4" r="1.5"/><circle cx="30.5" cy="27.8" r="1.1"/><circle cx="8.2" cy="16.1" r="1.1"/><circle cx="49.1" cy="22.4" r="1.1"/><circle cx="55.2" cy="0.6" r="1.3"/><circle cx="55.2" cy="45.6" r="1.3"/><circle cx="5.1" cy="34.2" r="1.0"/><circle cx="52.7" cy="37.9" r="1.4"/><circle cx="40.6" cy="15.0" r="1.3"/><circle cx="29.3" cy="2.7" r="1.1"/><circle cx="29.3" cy="47.7" r="1.1"/><circle cx="27.1" cy="21.0" r="1.5"/><circle cx="27.7" cy="35.8" r="1.4"/><circle cx="7.5" cy="-0.9" r="1.5"/><circle cx="7.5" cy="44.1" r="1.5"/><circle cx="37.9" cy="20.8" r="1.2"/><circle cx="10.9" cy="-3.3" r="1.1"/><circle cx="10.9" cy="41.7" r="1.1"/><circle cx="16.5" cy="3.9" r="1.4"/><circle cx="16.5" cy="48.9" r="1.4"/><circle cx="46.8" cy="-3.8" r="1.1"/><circle cx="46.8" cy="41.2" r="1.1"/><circle cx="52.2" cy="32.4" r="1.4"/><circle cx="55.6" cy="4.6" r="1.5"/><circle cx="35.8" cy="36.5" r="1.2"/><circle cx="35.5" cy="7.2" r="1.2"/><circle cx="6.0" cy="21.8" r="1.5"/><circle cx="53.2" cy="-2.5" r="1.4"/><circle cx="53.2" cy="42.5" r="1.4"/><circle cx="1.9" cy="-2.4" r="1.4"/><circle cx="1.9" cy="42.6" r="1.4"/><circle cx="61.9" cy="-2.4" r="1.4"/><circle cx="61.9" cy="42.6" r="1.4"/><circle cx="51.0" cy="8.1" r="1.5"/><circle cx="33.4" cy="22.5" r="1.5"/><circle cx="46.1" cy="35.3" r="1.4"/><circle cx="23.5" cy="11.9" r="1.2"/><circle cx="55.1" cy="26.1" r="1.1"/><circle cx="10.3" cy="28.2" r="1.3"/><circle cx="41.3" cy="32.1" r="1.4"/><circle cx="38.0" cy="39.7" r="1.1"/><circle cx="37.6" cy="3.9" r="1.0"/><circle cx="37.6" cy="48.9" r="1.0"/><circle cx="19.4" cy="8.9" r="1.4"/><circle cx="41.5" cy="25.4" r="1.1"/><circle cx="35.8" cy="18.2" r="1.3"/><circle cx="15.2" cy="36.6" r="1.1"/><circle cx="12.2" cy="38.1" r="1.2"/><circle cx="42.1" cy="6.3" r="1.0"/><circle cx="32.0" cy="0.8" r="1.0"/><circle cx="32.0" cy="45.8" r="1.0"/><circle cx="13.0" cy="32.0" r="1.5"/><circle cx="23.0" cy="0.7" r="1.5"/><circle cx="23.0" cy="45.7" r="1.5"/><circle cx="38.5" cy="28.3" r="1.3"/><circle cx="-1.6" cy="10.9" r="1.0"/><circle cx="58.4" cy="10.9" r="1.0"/><circle cx="45.1" cy="17.5" r="1.2"/><circle cx="13.8" cy="-3.6" r="1.0"/><circle cx="13.8" cy="41.4" r="1.0"/><circle cx="6.4" cy="37.1" r="1.2"/><circle cx="0.2" cy="22.3" r="1.4"/><circle cx="60.2" cy="22.3" r="1.4"/><circle cx="19.5" cy="12.7" r="1.1"/><circle cx="55.9" cy="29.7" r="1.4"/><circle cx="47.7" cy="7.4" r="1.3"/><circle cx="27.4" cy="28.8" r="1.2"/><circle cx="41.1" cy="-1.4" r="1.2"/><circle cx="41.1" cy="43.6" r="1.2"/><circle cx="8.0" cy="12.0" r="1.3"/><circle cx="23.8" cy="14.7" r="1.1"/><circle cx="28.8" cy="32.5" r="1.0"/><circle cx="30.0" cy="6.2" r="1.5"/><circle cx="0.8" cy="37.2" r="1.1"/><circle cx="60.8" cy="37.2" r="1.1"/><circle cx="10.6" cy="2.9" r="1.5"/><circle cx="10.6" cy="47.9" r="1.5"/><circle cx="39.7" cy="8.5" r="1.0"/><circle cx="23.4" cy="6.4" r="1.5"/><circle cx="44.5" cy="25.7" r="1.2"/><circle cx="41.6" cy="39.9" r="1.2"/><circle cx="47.5" cy="31.4" r="1.2"/><circle cx="3.6" cy="31.6" r="1.1"/><circle cx="63.6" cy="31.6" r="1.1"/><circle cx="36.5" cy="0.4" r="1.0"/><circle cx="36.5" cy="45.4" r="1.0"/><circle cx="3.9" cy="18.3" r="1.1"/><circle cx="63.9" cy="18.3" r="1.1"/><circle cx="27.7" cy="13.3" r="1.1"/><circle cx="42.9" cy="22.7" r="1.3"/><circle cx="31.8" cy="36.9" r="1.3"/><circle cx="29.3" cy="-2.9" r="1.4"/><circle cx="29.3" cy="42.1" r="1.4"/><circle cx="43.6" cy="37.6" r="1.1"/><circle cx="49.5" cy="39.1" r="1.0"/><circle cx="36.6" cy="10.2" r="1.3"/><circle cx="39.6" cy="34.9" r="1.1"/><circle cx="12.9" cy="26.1" r="1.2"/><circle cx="33.1" cy="10.6" r="1.1"/><circle cx="52.1" cy="11.9" r="1.3"/><circle cx="14.7" cy="10.4" r="1.3"/><circle cx="42.9" cy="9.7" r="1.2"/><circle cx="55.9" cy="40.8" r="1.0"/><circle cx="13.7" cy="1.2" r="1.3"/><circle cx="13.7" cy="46.2" r="1.3"/><circle cx="0.7" cy="12.9" r="1.1"/><circle cx="60.7" cy="12.9" r="1.1"/><circle cx="3.8" cy="11.7" r="1.1"/><circle cx="63.8" cy="11.7" r="1.1"/><circle cx="51.9" cy="23.9" r="1.0"/><circle cx="49.8" cy="35.4" r="1.4"/><circle cx="49.3" cy="-1.1" r="1.5"/><circle cx="49.3" cy="43.9" r="1.5"/><circle cx="6.2" cy="27.0" r="1.2"/><circle cx="49.2" cy="18.4" r="1.2"/><circle cx="18.8" cy="37.1" r="1.4"/><circle cx="19.6" cy="4.6" r="1.2"/><circle cx="21.0" cy="25.4" r="1.3"/><circle cx="52.7" cy="28.8" r="1.3"/><circle cx="24.6" cy="18.4" r="1.1"/><circle cx="16.7" cy="16.5" r="1.2"/><circle cx="24.0" cy="29.2" r="1.5"/><circle cx="29.5" cy="24.6" r="1.1"/><circle cx="37.0" cy="25.3" r="1.2"/><circle cx="10.4" cy="22.6" r="1.1"/><circle cx="55.5" cy="8.8" r="1.2"/><circle cx="34.4" cy="32.4" r="1.1"/><circle cx="16.4" cy="-1.7" r="1.1"/><circle cx="16.4" cy="43.3" r="1.1"/><circle cx="15.0" cy="28.8" r="1.3"/></g></pattern><filter id="fe11_5" x="-60%" y="-60%" width="220%" height="220%"><feGaussianBlur stdDeviation="10"/></filter><filter id="fe11_6" x="-60%" y="-60%" width="220%" height="220%"><feGaussianBlur stdDeviation="0.7"/></filter><filter id="fe11_7" x="-60%" y="-60%" width="220%" height="220%"><feGaussianBlur stdDeviation="0.6"/></filter><filter id="fe11_8" x="-60%" y="-60%" width="220%" height="220%"><feGaussianBlur stdDeviation="0.6"/></filter><filter id="fe11_9" x="-60%" y="-60%" width="220%" height="220%"><feGaussianBlur stdDeviation="0.6"/></filter><filter id="fe11_10" x="-60%" y="-60%" width="220%" height="220%"><feGaussianBlur stdDeviation="0.5"/></filter><filter id="fe11_11" x="-60%" y="-60%" width="220%" height="220%"><feGaussianBlur stdDeviation="0.5"/></filter><filter id="fe11_12" x="-60%" y="-60%" width="220%" height="220%"><feGaussianBlur stdDeviation="0.5"/></filter><filter id="fe11_13" x="-60%" y="-60%" width="220%" height="220%"><feGaussianBlur stdDeviation="0.5"/></filter><clipPath id="ce12"><rect x="328.5" y="769" width="153.50" height="115.00"/></clipPath><filter id="fe12_0" filterUnits="userSpaceOnUse" x="128.5" y="569" width="554" height="515" color-interpolation-filters="sRGB"><feTurbulence type="fractalNoise" baseFrequency="0.05" numOctaves="2" seed="20" result="n"/><feColorMatrix in="n" type="matrix" values="0 0 0 0 0  0 0 0 0 0  0 0 0 0 0  2.0 0 0 0 -0.65" result="a"/><feFlood flood-color="#b8c2ce"/><feComposite in2="a" operator="in"/></filter><filter id="fe12_1" filterUnits="userSpaceOnUse" x="128.5" y="569" width="554" height="515" color-interpolation-filters="sRGB"><feTurbulence type="fractalNoise" baseFrequency="0.3" numOctaves="2" seed="22" result="n"/><feColorMatrix in="n" type="matrix" values="0 0 0 0 0  0 0 0 0 0  0 0 0 0 0  3.5 0 0 0 -1.9" result="a"/><feFlood flood-color="#a08068"/><feComposite in2="a" operator="in"/></filter><filter id="mbe12_2" x="-60%" y="-60%" width="220%" height="220%"><feGaussianBlur stdDeviation="4"/></filter><mask id="me12_2" maskUnits="userSpaceOnUse" x="328.5" y="769" width="153.50" height="115.00"><g filter="url(#mbe12_2)" fill="#fff"><ellipse cx="418.5" cy="794" rx="50" ry="20"/><ellipse cx="388.5" cy="829" rx="30" ry="20"/></g></mask><filter id="fe12_2" filterUnits="userSpaceOnUse" x="128.5" y="569" width="554" height="515" color-interpolation-filters="sRGB"><feTurbulence type="fractalNoise" baseFrequency="0.12" numOctaves="2" seed="28" result="n"/><feColorMatrix in="n" type="matrix" values="0 0 0 0 0  0 0 0 0 0  0 0 0 0 0  3.0 0 0 0 -1.5" result="a"/><feFlood flood-color="#8a6a50"/><feComposite in2="a" operator="in"/></filter><pattern id="pe12_3" patternUnits="userSpaceOnUse" x="328.5" y="769" width="80" height="60"><g fill="#7a9ccb"><ellipse cx="69.9" cy="38.8" rx="2.9" ry="2.0" transform="rotate(18 69.9 38.8)"/><ellipse cx="44.2" cy="30.2" rx="2.4" ry="1.6" transform="rotate(19 44.2 30.2)"/><ellipse cx="3.1" cy="1.7" rx="2.6" ry="1.7" transform="rotate(14 3.1 1.7)"/><ellipse cx="3.1" cy="61.7" rx="2.6" ry="1.7" transform="rotate(14 3.1 61.7)"/><ellipse cx="83.1" cy="1.7" rx="2.6" ry="1.7" transform="rotate(14 83.1 1.7)"/><ellipse cx="83.1" cy="61.7" rx="2.6" ry="1.7" transform="rotate(14 83.1 61.7)"/><ellipse cx="64.3" cy="13.5" rx="2.2" ry="1.5" transform="rotate(21 64.3 13.5)"/><ellipse cx="34.7" cy="28.6" rx="2.5" ry="1.7" transform="rotate(9 34.7 28.6)"/><ellipse cx="72.8" cy="28.2" rx="2.9" ry="2.0" transform="rotate(24 72.8 28.2)"/><ellipse cx="27.4" cy="34.7" rx="2.7" ry="1.9" transform="rotate(21 27.4 34.7)"/><ellipse cx="33.5" cy="46.5" rx="2.2" ry="1.5" transform="rotate(16 33.5 46.5)"/><ellipse cx="52.1" cy="47.9" rx="2.4" ry="1.6" transform="rotate(28 52.1 47.9)"/><ellipse cx="18.6" cy="33.2" rx="3.0" ry="2.0" transform="rotate(5 18.6 33.2)"/><ellipse cx="43.9" cy="5.2" rx="2.4" ry="1.6" transform="rotate(28 43.9 5.2)"/><ellipse cx="56.2" cy="29.0" rx="3.0" ry="2.0" transform="rotate(30 56.2 29.0)"/><ellipse cx="17.2" cy="-0.4" rx="2.8" ry="1.9" transform="rotate(34 17.2 -0.4)"/><ellipse cx="17.2" cy="59.6" rx="2.8" ry="1.9" transform="rotate(34 17.2 59.6)"/><ellipse cx="35.0" cy="19.1" rx="2.7" ry="1.9" transform="rotate(24 35.0 19.1)"/><ellipse cx="67.6" cy="25.3" rx="2.4" ry="1.6" transform="rotate(27 67.6 25.3)"/><ellipse cx="37.9" cy="44.4" rx="2.5" ry="1.7" transform="rotate(14 37.9 44.4)"/><ellipse cx="49.2" cy="1.2" rx="2.9" ry="2.0" transform="rotate(24 49.2 1.2)"/><ellipse cx="49.2" cy="61.2" rx="2.9" ry="2.0" transform="rotate(24 49.2 61.2)"/><ellipse cx="44.7" cy="-2.7" rx="3.0" ry="2.0" transform="rotate(23 44.7 -2.7)"/><ellipse cx="44.7" cy="57.3" rx="3.0" ry="2.0" transform="rotate(23 44.7 57.3)"/><ellipse cx="0.4" cy="47.4" rx="2.6" ry="1.8" transform="rotate(18 0.4 47.4)"/><ellipse cx="80.4" cy="47.4" rx="2.6" ry="1.8" transform="rotate(18 80.4 47.4)"/><ellipse cx="39.1" cy="32.5" rx="2.8" ry="1.9" transform="rotate(17 39.1 32.5)"/><ellipse cx="29.0" cy="43.3" rx="2.2" ry="1.5" transform="rotate(34 29.0 43.3)"/><ellipse cx="7.2" cy="10.3" rx="2.8" ry="1.9" transform="rotate(20 7.2 10.3)"/><ellipse cx="16.2" cy="6.3" rx="2.7" ry="1.8" transform="rotate(17 16.2 6.3)"/><ellipse cx="74.2" cy="12.5" rx="2.5" ry="1.7" transform="rotate(16 74.2 12.5)"/><ellipse cx="69.0" cy="2.5" rx="2.8" ry="1.9" transform="rotate(26 69.0 2.5)"/><ellipse cx="69.0" cy="62.5" rx="2.8" ry="1.9" transform="rotate(26 69.0 62.5)"/><ellipse cx="1.9" cy="39.9" rx="2.4" ry="1.6" transform="rotate(20 1.9 39.9)"/><ellipse cx="81.9" cy="39.9" rx="2.4" ry="1.6" transform="rotate(20 81.9 39.9)"/><ellipse cx="6.0" cy="44.3" rx="2.7" ry="1.8" transform="rotate(11 6.0 44.3)"/><ellipse cx="67.0" cy="32.1" rx="2.2" ry="1.5" transform="rotate(30 67.0 32.1)"/><ellipse cx="22.9" cy="-1.6" rx="2.4" ry="1.6" transform="rotate(10 22.9 -1.6)"/><ellipse cx="22.9" cy="58.4" rx="2.4" ry="1.6" transform="rotate(10 22.9 58.4)"/><ellipse cx="2.2" cy="35.1" rx="2.1" ry="1.4" transform="rotate(16 2.2 35.1)"/><ellipse cx="82.2" cy="35.1" rx="2.1" ry="1.4" transform="rotate(16 82.2 35.1)"/><ellipse cx="75.1" cy="46.6" rx="2.4" ry="1.6" transform="rotate(20 75.1 46.6)"/><ellipse cx="61.0" cy="44.5" rx="2.6" ry="1.7" transform="rotate(14 61.0 44.5)"/><ellipse cx="58.6" cy="37.8" rx="2.3" ry="1.6" transform="rotate(11 58.6 37.8)"/><ellipse cx="29.0" cy="24.0" rx="2.6" ry="1.8" transform="rotate(34 29.0 24.0)"/><ellipse cx="-3.1" cy="8.8" rx="2.6" ry="1.7" transform="rotate(25 -3.1 8.8)"/><ellipse cx="76.9" cy="8.8" rx="2.6" ry="1.7" transform="rotate(25 76.9 8.8)"/></g></pattern><filter id="fe12_4" x="-60%" y="-60%" width="220%" height="220%"><feGaussianBlur stdDeviation="3"/></filter><filter id="fe12_5" x="-60%" y="-60%" width="220%" height="220%"><feGaussianBlur stdDeviation="2.5"/></filter><filter id="fe12_6" x="-60%" y="-60%" width="220%" height="220%"><feGaussianBlur stdDeviation="3"/></filter><filter id="fe12_7" x="-60%" y="-60%" width="220%" height="220%"><feGaussianBlur stdDeviation="2"/></filter><filter id="fe12_8" x="-60%" y="-60%" width="220%" height="220%"><feGaussianBlur stdDeviation="3"/></filter><filter id="fe12_9" x="-60%" y="-60%" width="220%" height="220%"><feGaussianBlur stdDeviation="2"/></filter><filter id="fe12_10" x="-60%" y="-60%" width="220%" height="220%"><feGaussianBlur stdDeviation="1.5"/></filter><filter id="mbe12_11" x="-60%" y="-60%" width="220%" height="220%"><feGaussianBlur stdDeviation="4"/></filter><mask id="me12_11" maskUnits="userSpaceOnUse" x="328.5" y="769" width="153.50" height="115.00"><g filter="url(#mbe12_11)" fill="#fff"><ellipse cx="351.5" cy="861" rx="17" ry="17"/><ellipse cx="468.5" cy="841" rx="17" ry="20"/><ellipse cx="370.5" cy="791" rx="12" ry="8"/><ellipse cx="398.5" cy="857" rx="8" ry="8"/><ellipse cx="437.5" cy="845" rx="10" ry="12"/></g></mask><filter id="fe12_11" filterUnits="userSpaceOnUse" x="128.5" y="569" width="554" height="515" color-interpolation-filters="sRGB"><feTurbulence type="fractalNoise" baseFrequency="0.25" numOctaves="3" seed="19" result="n"/><feColorMatrix in="n" type="matrix" values="0 0 0 0 0  0 0 0 0 0  0 0 0 0 0  4.0 0 0 0 -1.55" result="a"/><feFlood flood-color="#5a2c0c"/><feComposite in2="a" operator="in"/></filter><filter id="mbe12_12" x="-60%" y="-60%" width="220%" height="220%"><feGaussianBlur stdDeviation="4"/></filter><mask id="me12_12" maskUnits="userSpaceOnUse" x="328.5" y="769" width="153.50" height="115.00"><g filter="url(#mbe12_12)" fill="#fff"><ellipse cx="433.5" cy="797" rx="24" ry="16"/><ellipse cx="413.5" cy="809" rx="12" ry="10"/><ellipse cx="456.5" cy="809" rx="10" ry="10"/><ellipse cx="388.5" cy="779" rx="10" ry="6"/></g></mask><filter id="fe12_12" filterUnits="userSpaceOnUse" x="128.5" y="569" width="554" height="515" color-interpolation-filters="sRGB"><feTurbulence type="fractalNoise" baseFrequency="0.3" numOctaves="2" seed="29" result="n"/><feColorMatrix in="n" type="matrix" values="0 0 0 0 0  0 0 0 0 0  0 0 0 0 0  4.0 0 0 0 -1.9" result="a"/><feFlood flood-color="#6a3a14"/><feComposite in2="a" operator="in"/></filter><filter id="mbe12_13" x="-60%" y="-60%" width="220%" height="220%"><feGaussianBlur stdDeviation="4"/></filter><mask id="me12_13" maskUnits="userSpaceOnUse" x="328.5" y="769" width="153.50" height="115.00"><g filter="url(#mbe12_13)" fill="#fff"><ellipse cx="351.5" cy="864" rx="13" ry="14"/><ellipse cx="468.5" cy="843" rx="13" ry="16"/><ellipse cx="370.5" cy="790" rx="9" ry="6"/><ellipse cx="399.5" cy="858" rx="6" ry="6"/><ellipse cx="437.5" cy="845" rx="6" ry="8"/></g></mask><filter id="fe12_13" filterUnits="userSpaceOnUse" x="128.5" y="569" width="554" height="515" color-interpolation-filters="sRGB"><feTurbulence type="fractalNoise" baseFrequency="0.3" numOctaves="2" seed="21" result="n"/><feColorMatrix in="n" type="matrix" values="0 0 0 0 0  0 0 0 0 0  0 0 0 0 0  4.0 0 0 0 -1.5" result="a"/><feFlood flood-color="#200c02"/><feComposite in2="a" operator="in"/></filter><clipPath id="ce13"><rect x="484.3" y="769" width="153.70" height="115.00"/></clipPath><filter id="fe13_0" filterUnits="userSpaceOnUse" x="284.3" y="569" width="554" height="515" color-interpolation-filters="sRGB"><feTurbulence type="fractalNoise" baseFrequency="0.05 0.14" numOctaves="2" seed="25" result="n"/><feColorMatrix in="n" type="matrix" values="0 0 0 0 0  0 0 0 0 0  0 0 0 0 0  2.4 0 0 0 -0.7" result="a"/><feFlood flood-color="#98aecb"/><feComposite in2="a" operator="in"/></filter><pattern id="pe13_1" patternUnits="userSpaceOnUse" x="484.3" y="769" width="80" height="60"><g fill="#7c9cc8"><ellipse cx="38.3" cy="38.3" rx="3.8" ry="1.3" transform="rotate(-53 38.3 38.3)"/><ellipse cx="31.3" cy="18.6" rx="3.5" ry="1.2" transform="rotate(-40 31.3 18.6)"/><ellipse cx="15.5" cy="33.2" rx="3.4" ry="1.2" transform="rotate(-29 15.5 33.2)"/><ellipse cx="36.7" cy="12.6" rx="3.8" ry="1.4" transform="rotate(-32 36.7 12.6)"/><ellipse cx="13.9" cy="39.9" rx="4.2" ry="1.5" transform="rotate(-41 13.9 39.9)"/><ellipse cx="6.7" cy="35.6" rx="4.5" ry="1.6" transform="rotate(-30 6.7 35.6)"/><ellipse cx="58.7" cy="27.0" rx="3.3" ry="1.2" transform="rotate(-49 58.7 27.0)"/><ellipse cx="34.9" cy="54.7" rx="3.3" ry="1.2" transform="rotate(-33 34.9 54.7)"/><ellipse cx="27.8" cy="36.4" rx="3.7" ry="1.3" transform="rotate(-39 27.8 36.4)"/><ellipse cx="47.5" cy="50.2" rx="4.1" ry="1.4" transform="rotate(-46 47.5 50.2)"/><ellipse cx="53.0" cy="28.5" rx="4.4" ry="1.6" transform="rotate(-41 53.0 28.5)"/><ellipse cx="26.7" cy="31.4" rx="3.5" ry="1.2" transform="rotate(-55 26.7 31.4)"/><ellipse cx="75.1" cy="6.0" rx="4.3" ry="1.5" transform="rotate(-47 75.1 6.0)"/><ellipse cx="29.8" cy="8.2" rx="3.8" ry="1.3" transform="rotate(-26 29.8 8.2)"/><ellipse cx="61.3" cy="-0.6" rx="3.5" ry="1.2" transform="rotate(-31 61.3 -0.6)"/><ellipse cx="61.3" cy="59.4" rx="3.5" ry="1.2" transform="rotate(-31 61.3 59.4)"/><ellipse cx="-1.1" cy="39.0" rx="4.4" ry="1.5" transform="rotate(-35 -1.1 39.0)"/><ellipse cx="78.9" cy="39.0" rx="4.4" ry="1.5" transform="rotate(-35 78.9 39.0)"/><ellipse cx="70.3" cy="23.6" rx="4.1" ry="1.4" transform="rotate(-33 70.3 23.6)"/><ellipse cx="38.4" cy="31.7" rx="4.1" ry="1.5" transform="rotate(-31 38.4 31.7)"/><ellipse cx="12.9" cy="2.6" rx="3.8" ry="1.4" transform="rotate(-49 12.9 2.6)"/><ellipse cx="12.9" cy="62.6" rx="3.8" ry="1.4" transform="rotate(-49 12.9 62.6)"/><ellipse cx="60.5" cy="35.4" rx="3.7" ry="1.3" transform="rotate(-34 60.5 35.4)"/><ellipse cx="1.9" cy="31.0" rx="3.7" ry="1.3" transform="rotate(-29 1.9 31.0)"/><ellipse cx="81.9" cy="31.0" rx="3.7" ry="1.3" transform="rotate(-29 81.9 31.0)"/><ellipse cx="0.1" cy="54.0" rx="4.4" ry="1.5" transform="rotate(-27 0.1 54.0)"/><ellipse cx="80.1" cy="54.0" rx="4.4" ry="1.5" transform="rotate(-27 80.1 54.0)"/><ellipse cx="22.7" cy="49.0" rx="3.7" ry="1.3" transform="rotate(-52 22.7 49.0)"/><ellipse cx="75.9" cy="47.0" rx="3.1" ry="1.1" transform="rotate(-45 75.9 47.0)"/><ellipse cx="43.9" cy="13.1" rx="4.3" ry="1.5" transform="rotate(-30 43.9 13.1)"/><ellipse cx="62.1" cy="8.3" rx="3.2" ry="1.1" transform="rotate(-36 62.1 8.3)"/><ellipse cx="53.0" cy="3.6" rx="3.8" ry="1.3" transform="rotate(-46 53.0 3.6)"/><ellipse cx="53.0" cy="63.6" rx="3.8" ry="1.3" transform="rotate(-46 53.0 63.6)"/><ellipse cx="20.4" cy="-0.1" rx="4.5" ry="1.6" transform="rotate(-40 20.4 -0.1)"/><ellipse cx="20.4" cy="59.9" rx="4.5" ry="1.6" transform="rotate(-40 20.4 59.9)"/><ellipse cx="28.6" cy="-3.7" rx="3.6" ry="1.3" transform="rotate(-33 28.6 -3.7)"/><ellipse cx="28.6" cy="56.3" rx="3.6" ry="1.3" transform="rotate(-33 28.6 56.3)"/><ellipse cx="15.1" cy="7.3" rx="4.0" ry="1.4" transform="rotate(-40 15.1 7.3)"/><ellipse cx="40.2" cy="8.3" rx="3.5" ry="1.2" transform="rotate(-31 40.2 8.3)"/><ellipse cx="19.6" cy="8.5" rx="4.1" ry="1.4" transform="rotate(-47 19.6 8.5)"/><ellipse cx="66.9" cy="-3.7" rx="3.1" ry="1.1" transform="rotate(-28 66.9 -3.7)"/><ellipse cx="66.9" cy="56.3" rx="3.1" ry="1.1" transform="rotate(-28 66.9 56.3)"/><ellipse cx="32.2" cy="30.5" rx="4.4" ry="1.6" transform="rotate(-33 32.2 30.5)"/><ellipse cx="15.9" cy="26.5" rx="4.5" ry="1.6" transform="rotate(-33 15.9 26.5)"/><ellipse cx="36.9" cy="47.4" rx="4.2" ry="1.5" transform="rotate(-27 36.9 47.4)"/><ellipse cx="-2.5" cy="16.1" rx="3.7" ry="1.3" transform="rotate(-52 -2.5 16.1)"/><ellipse cx="77.5" cy="16.1" rx="3.7" ry="1.3" transform="rotate(-52 77.5 16.1)"/><ellipse cx="31.6" cy="40.8" rx="4.4" ry="1.6" transform="rotate(-49 31.6 40.8)"/><ellipse cx="0.9" cy="-0.2" rx="3.9" ry="1.4" transform="rotate(-45 0.9 -0.2)"/><ellipse cx="0.9" cy="59.8" rx="3.9" ry="1.4" transform="rotate(-45 0.9 59.8)"/><ellipse cx="80.9" cy="-0.2" rx="3.9" ry="1.4" transform="rotate(-45 80.9 -0.2)"/><ellipse cx="80.9" cy="59.8" rx="3.9" ry="1.4" transform="rotate(-45 80.9 59.8)"/><ellipse cx="1.2" cy="9.4" rx="3.5" ry="1.3" transform="rotate(-35 1.2 9.4)"/><ellipse cx="81.2" cy="9.4" rx="3.5" ry="1.3" transform="rotate(-35 81.2 9.4)"/><ellipse cx="25.0" cy="42.1" rx="4.1" ry="1.4" transform="rotate(-31 25.0 42.1)"/><ellipse cx="9.0" cy="26.1" rx="3.3" ry="1.2" transform="rotate(-38 9.0 26.1)"/><ellipse cx="4.4" cy="-3.2" rx="3.0" ry="1.1" transform="rotate(-27 4.4 -3.2)"/><ellipse cx="4.4" cy="56.8" rx="3.0" ry="1.1" transform="rotate(-27 4.4 56.8)"/><ellipse cx="42.9" cy="52.2" rx="4.1" ry="1.4" transform="rotate(-39 42.9 52.2)"/><ellipse cx="12.0" cy="21.9" rx="4.5" ry="1.6" transform="rotate(-35 12.0 21.9)"/><ellipse cx="4.4" cy="14.2" rx="3.6" ry="1.3" transform="rotate(-27 4.4 14.2)"/><ellipse cx="31.2" cy="23.6" rx="4.3" ry="1.5" transform="rotate(-46 31.2 23.6)"/><ellipse cx="59.0" cy="50.7" rx="3.8" ry="1.3" transform="rotate(-42 59.0 50.7)"/><ellipse cx="46.7" cy="23.5" rx="3.5" ry="1.2" transform="rotate(-43 46.7 23.5)"/><ellipse cx="75.3" cy="35.5" rx="4.0" ry="1.4" transform="rotate(-36 75.3 35.5)"/><ellipse cx="52.9" cy="11.1" rx="3.4" ry="1.2" transform="rotate(-54 52.9 11.1)"/><ellipse cx="16.3" cy="-3.9" rx="3.2" ry="1.1" transform="rotate(-30 16.3 -3.9)"/><ellipse cx="16.3" cy="56.1" rx="3.2" ry="1.1" transform="rotate(-30 16.3 56.1)"/><ellipse cx="26.9" cy="0.9" rx="4.5" ry="1.6" transform="rotate(-54 26.9 0.9)"/><ellipse cx="26.9" cy="60.9" rx="4.5" ry="1.6" transform="rotate(-54 26.9 60.9)"/><ellipse cx="55.7" cy="17.6" rx="3.6" ry="1.3" transform="rotate(-41 55.7 17.6)"/><ellipse cx="57.8" cy="13.2" rx="4.3" ry="1.5" transform="rotate(-38 57.8 13.2)"/><ellipse cx="9.3" cy="10.8" rx="3.3" ry="1.2" transform="rotate(-54 9.3 10.8)"/><ellipse cx="33.9" cy="1.5" rx="4.3" ry="1.5" transform="rotate(-30 33.9 1.5)"/><ellipse cx="33.9" cy="61.5" rx="4.3" ry="1.5" transform="rotate(-30 33.9 61.5)"/><ellipse cx="-0.1" cy="26.7" rx="3.5" ry="1.2" transform="rotate(-52 -0.1 26.7)"/><ellipse cx="79.9" cy="26.7" rx="3.5" ry="1.2" transform="rotate(-52 79.9 26.7)"/><ellipse cx="41.9" cy="28.2" rx="4.5" ry="1.6" transform="rotate(-36 41.9 28.2)"/><ellipse cx="67.3" cy="1.2" rx="4.6" ry="1.6" transform="rotate(-33 67.3 1.2)"/><ellipse cx="67.3" cy="61.2" rx="4.6" ry="1.6" transform="rotate(-33 67.3 61.2)"/><ellipse cx="27.5" cy="20.6" rx="3.2" ry="1.1" transform="rotate(-47 27.5 20.6)"/><ellipse cx="44.8" cy="2.8" rx="3.4" ry="1.2" transform="rotate(-50 44.8 2.8)"/><ellipse cx="44.8" cy="62.8" rx="3.4" ry="1.2" transform="rotate(-50 44.8 62.8)"/><ellipse cx="65.7" cy="38.9" rx="3.6" ry="1.3" transform="rotate(-52 65.7 38.9)"/><ellipse cx="67.8" cy="48.8" rx="3.3" ry="1.2" transform="rotate(-48 67.8 48.8)"/><ellipse cx="46.7" cy="39.6" rx="3.5" ry="1.2" transform="rotate(-29 46.7 39.6)"/><ellipse cx="24.3" cy="14.4" rx="3.6" ry="1.3" transform="rotate(-44 24.3 14.4)"/><ellipse cx="47.6" cy="33.6" rx="4.3" ry="1.5" transform="rotate(-36 47.6 33.6)"/><ellipse cx="71.0" cy="17.8" rx="4.4" ry="1.6" transform="rotate(-49 71.0 17.8)"/><ellipse cx="75.3" cy="52.7" rx="3.9" ry="1.4" transform="rotate(-25 75.3 52.7)"/><ellipse cx="42.9" cy="46.6" rx="3.2" ry="1.1" transform="rotate(-29 42.9 46.6)"/><ellipse cx="48.8" cy="55.2" rx="3.6" ry="1.3" transform="rotate(-47 48.8 55.2)"/><ellipse cx="18.4" cy="41.0" rx="3.5" ry="1.2" transform="rotate(-49 18.4 41.0)"/><ellipse cx="61.4" cy="20.2" rx="4.0" ry="1.4" transform="rotate(-30 61.4 20.2)"/><ellipse cx="37.3" cy="43.0" rx="3.1" ry="1.1" transform="rotate(-44 37.3 43.0)"/><ellipse cx="74.7" cy="42.8" rx="3.1" ry="1.1" transform="rotate(-45 74.7 42.8)"/></g></pattern><filter id="fe13_2" filterUnits="userSpaceOnUse" x="284.3" y="569" width="554" height="515" color-interpolation-filters="sRGB"><feTurbulence type="fractalNoise" baseFrequency="0.2 0.35" numOctaves="3" seed="23" result="n"/><feColorMatrix in="n" type="matrix" values="0 0 0 0 0  0 0 0 0 0  0 0 0 0 0  3.0 0 0 0 -1.2" result="a"/><feFlood flood-color="#7a4a20"/><feComposite in2="a" operator="in"/></filter><filter id="fe13_3" filterUnits="userSpaceOnUse" x="284.3" y="569" width="554" height="515" color-interpolation-filters="sRGB"><feTurbulence type="fractalNoise" baseFrequency="0.35" numOctaves="2" seed="24" result="n"/><feColorMatrix in="n" type="matrix" values="0 0 0 0 0  0 0 0 0 0  0 0 0 0 0  3.3 0 0 0 -1.8" result="a"/><feFlood flood-color="#3a1a06"/><feComposite in2="a" operator="in"/></filter><filter id="mbe13_4" x="-60%" y="-60%" width="220%" height="220%"><feGaussianBlur stdDeviation="4"/></filter><mask id="me13_4" maskUnits="userSpaceOnUse" x="484.3" y="769" width="153.70" height="115.00"><g filter="url(#mbe13_4)" fill="#fff"><ellipse cx="559.3" cy="789" rx="40" ry="16"/><ellipse cx="504.3" cy="819" rx="16" ry="30"/><ellipse cx="594.3" cy="829" rx="20" ry="14"/></g></mask><filter id="fe13_4" filterUnits="userSpaceOnUse" x="284.3" y="569" width="554" height="515" color-interpolation-filters="sRGB"><feTurbulence type="fractalNoise" baseFrequency="0.25" numOctaves="2" seed="26" result="n"/><feColorMatrix in="n" type="matrix" values="0 0 0 0 0  0 0 0 0 0  0 0 0 0 0  3.5 0 0 0 -1.5" result="a"/><feFlood flood-color="#5a2a0a"/><feComposite in2="a" operator="in"/></filter><filter id="fe13_5" x="-60%" y="-60%" width="220%" height="220%"><feGaussianBlur stdDeviation="6"/></filter><filter id="fe13_6" x="-60%" y="-60%" width="220%" height="220%"><feGaussianBlur stdDeviation="8"/></filter></defs>
<g clip-path="url(#ce00)">
<rect x="21" y="652.6" width="154.00" height="114.40" fill="#eadfd2"/>
<g><rect x="21" y="652.6" width="154.00" height="114.40" filter="url(#fe00_0)"/></g>
<g><rect x="21" y="652.6" width="154.00" height="114.40" filter="url(#fe00_1)"/></g>
<g><rect x="21" y="652.6" width="154.00" height="114.40" filter="url(#fe00_2)"/></g>
<g><rect x="21" y="652.6" width="154.00" height="114.40" filter="url(#fe00_3)"/></g>
<ellipse cx="87" cy="732.6" rx="12" ry="36" fill="#8a4a18" fill-opacity="0.4" filter="url(#fe00_4)"/>
<ellipse cx="81" cy="682.6" rx="10" ry="20" fill="#8a4a18" fill-opacity="0.25" filter="url(#fe00_5)"/>
<ellipse cx="159" cy="714.6" rx="14" ry="10" fill="#8a4a18" fill-opacity="0.3" filter="url(#fe00_6)"/>
<ellipse cx="126" cy="714.6" rx="16" ry="18" fill="#f4efe8" fill-opacity="0.45" filter="url(#fe00_7)"/>
<ellipse cx="71" cy="680.6" rx="10" ry="6" fill="#f4efe8" fill-opacity="0.4" filter="url(#fe00_8)"/>
<ellipse cx="27" cy="676.6" rx="10" ry="12" fill="#2a3a80" fill-opacity="0.6" filter="url(#fe00_9)"/>
<ellipse cx="35" cy="692.6" rx="14" ry="6" fill="#ffffff" fill-opacity="0.6" filter="url(#fe00_10)"/>
<g><rect x="21" y="652.6" width="154.00" height="114.40" fill="url(#pe00_11)" fill-opacity="0.8"/></g>
</g>
<g clip-path="url(#ce01)">
<rect x="177.6" y="652.6" width="148.20" height="114.40" fill="#c8beb2"/>
<g><rect x="177.6" y="652.6" width="148.20" height="114.40" filter="url(#fe01_0)"/></g>
<g><rect x="177.6" y="652.6" width="148.20" height="114.40" filter="url(#fe01_1)"/></g>
<g><rect x="177.6" y="652.6" width="148.20" height="114.40" filter="url(#fe01_2)"/></g>
<ellipse cx="277.6" cy="722.6" rx="38" ry="34" fill="#9a9ca4" fill-opacity="0.4" filter="url(#fe01_3)"/>
<g mask="url(#me01_4)"><rect x="177.6" y="652.6" width="148.20" height="114.40" filter="url(#fe01_4)"/></g>
<ellipse cx="199.6" cy="702.6" rx="20" ry="36" fill="#4a2a10" fill-opacity="0.25" filter="url(#fe01_5)"/>
<g><rect x="177.6" y="652.6" width="148.20" height="114.40" fill="url(#pe01_6)" fill-opacity="0.8"/></g>
</g>
<g clip-path="url(#ce02)">
<rect x="328.5" y="652.6" width="153.50" height="114.40" fill="#eee8e0"/>
<g><rect x="328.5" y="652.6" width="153.50" height="114.40" filter="url(#fe02_0)"/></g>
<g mask="url(#me02_1)"><rect x="328.5" y="652.6" width="153.50" height="114.40" filter="url(#fe02_1)"/></g>
<g mask="url(#me02_2)"><rect x="328.5" y="652.6" width="153.50" height="114.40" filter="url(#fe02_2)"/></g>
<ellipse cx="418.5" cy="662.6" rx="16" ry="10" fill="#f6f2ec" fill-opacity="0.5" filter="url(#fe02_3)"/>
<ellipse cx="340.5" cy="677.6" rx="12" ry="20" fill="#f4f0ea" fill-opacity="0.45" filter="url(#fe02_4)"/>
<ellipse cx="392.5" cy="680.6" rx="7" ry="24" fill="#34469a" fill-opacity="0.6" filter="url(#fe02_5)" transform="rotate(10 392.5 680.6)"/>
<ellipse cx="384.5" cy="738.6" rx="9" ry="26" fill="#34469a" fill-opacity="0.6" filter="url(#fe02_6)" transform="rotate(10 384.5 738.6)"/>
<ellipse cx="460.5" cy="744.6" rx="22" ry="18" fill="#4a5aa4" fill-opacity="0.3" filter="url(#fe02_7)"/>
<g mask="url(#me02_8)"><rect x="328.5" y="652.6" width="153.50" height="114.40" fill="url(#pe02_8)" fill-opacity="0.95"/></g>
<g><rect x="328.5" y="652.6" width="153.50" height="114.40" fill="url(#pe02_9)" fill-opacity="0.85"/></g>
<g><g transform="rotate(-40 405.2 709.8)"><rect x="295.2" y="599.8" width="220" height="220" filter="url(#fe02_10)"/></g></g>
</g>
<g clip-path="url(#ce03)">
<rect x="484.3" y="652.6" width="153.70" height="114.40" fill="#e8e1d6"/>
<g><rect x="484.3" y="652.6" width="153.70" height="114.40" filter="url(#fe03_0)"/></g>
<g><rect x="484.3" y="652.6" width="153.70" height="114.40" filter="url(#fe03_1)"/></g>
<g><rect x="484.3" y="652.6" width="153.70" height="114.40" filter="url(#fe03_2)"/></g>
<ellipse cx="500.3" cy="717.6" rx="18" ry="40" fill="#f0ebe4" fill-opacity="0.5" filter="url(#fe03_3)"/>
<ellipse cx="584.3" cy="668.6" rx="42" ry="14" fill="#8a6a50" fill-opacity="0.22" filter="url(#fe03_4)"/>
<ellipse cx="609.3" cy="747.6" rx="30" ry="20" fill="#6a6a88" fill-opacity="0.22" filter="url(#fe03_5)"/>
<ellipse cx="544.3" cy="752.6" rx="20" ry="12" fill="#8a5a30" fill-opacity="0.2" filter="url(#fe03_6)"/>
<g><rect x="484.3" y="652.6" width="153.70" height="114.40" fill="url(#pe03_7)" fill-opacity="0.75"/></g>
<g mask="url(#me03_8)"><rect x="484.3" y="652.6" width="153.70" height="114.40" fill="url(#pe03_8)" fill-opacity="0.8"/></g>
</g>
<g clip-path="url(#ce10)">
<rect x="21" y="769" width="154.00" height="115.00" fill="#f3ede6"/>
<g><rect x="21" y="769" width="154.00" height="115.00" filter="url(#fe10_0)"/></g>
<g><rect x="21" y="769" width="154.00" height="115.00" filter="url(#fe10_1)"/></g>
<g><rect x="21" y="769" width="154.00" height="115.00" filter="url(#fe10_2)"/></g>
<ellipse cx="91" cy="854" rx="40" ry="25" fill="#7a4010" fill-opacity="0.2" filter="url(#fe10_3)"/>
<ellipse cx="151" cy="859" rx="20" ry="20" fill="#7a4010" fill-opacity="0.2" filter="url(#fe10_4)"/>
<ellipse cx="29" cy="789" rx="12" ry="25" fill="#ffffff" fill-opacity="0.45" filter="url(#fe10_5)"/>
<ellipse cx="89" cy="834" rx="4" ry="25" fill="#f4f2f0" fill-opacity="0.5" filter="url(#fe10_6)"/>
<g><rect x="21" y="769" width="154.00" height="115.00" fill="url(#pe10_7)" fill-opacity="0.85"/></g>
</g>
<g clip-path="url(#ce11)">
<rect x="177.6" y="769" width="148.20" height="115.00" fill="#baa896"/>
<g><rect x="177.6" y="769" width="148.20" height="115.00" filter="url(#fe11_0)"/></g>
<g><rect x="177.6" y="769" width="148.20" height="115.00" filter="url(#fe11_1)"/></g>
<ellipse cx="207.6" cy="799" rx="35" ry="30" fill="#8a5a2e" fill-opacity="0.35" filter="url(#fe11_2)"/>
<ellipse cx="307.6" cy="859" rx="30" ry="25" fill="#8a5a2e" fill-opacity="0.2" filter="url(#fe11_3)"/>
<g><rect x="177.6" y="769" width="148.20" height="115.00" fill="url(#pe11_4)" fill-opacity="0.85"/></g>
<ellipse cx="277.6" cy="829" rx="40" ry="40" fill="#7080b0" fill-opacity="0.18" filter="url(#fe11_5)"/>
<ellipse cx="185.6" cy="809" rx="2.5" ry="4.5" fill="#2a1004" fill-opacity="0.8" filter="url(#fe11_6)" transform="rotate(20 185.6 809)"/>
<ellipse cx="205.6" cy="855" rx="4" ry="1.6" fill="#2a1004" fill-opacity="0.8" filter="url(#fe11_7)" transform="rotate(-10 205.6 855)"/>
<ellipse cx="219.6" cy="787" rx="2.5" ry="1.5" fill="#3a1a06" fill-opacity="0.7" filter="url(#fe11_8)"/>
<ellipse cx="277.6" cy="869" rx="1.5" ry="3.5" fill="#3a1a06" fill-opacity="0.7" filter="url(#fe11_9)" transform="rotate(-20 277.6 869)"/>
<ellipse cx="239.6" cy="825" rx="2" ry="1.2" fill="#3a1a06" fill-opacity="0.6" filter="url(#fe11_10)"/>
<ellipse cx="319.6" cy="799" rx="1.3" ry="3" fill="#3a1a06" fill-opacity="0.6" filter="url(#fe11_11)" transform="rotate(20 319.6 799)"/>
<ellipse cx="297.6" cy="817" rx="1.5" ry="2.5" fill="#3a1a06" fill-opacity="0.6" filter="url(#fe11_12)" transform="rotate(-30 297.6 817)"/>
<ellipse cx="202.6" cy="789" rx="3" ry="1.2" fill="#3a1a06" fill-opacity="0.6" filter="url(#fe11_13)" transform="rotate(-30 202.6 789)"/>
</g>
<g clip-path="url(#ce12)">
<rect x="328.5" y="769" width="153.50" height="115.00" fill="#e7e7e6"/>
<g><rect x="328.5" y="769" width="153.50" height="115.00" filter="url(#fe12_0)"/></g>
<g><rect x="328.5" y="769" width="153.50" height="115.00" filter="url(#fe12_1)"/></g>
<g mask="url(#me12_2)"><rect x="328.5" y="769" width="153.50" height="115.00" filter="url(#fe12_2)"/></g>
<g><rect x="328.5" y="769" width="153.50" height="115.00" fill="url(#pe12_3)" fill-opacity="0.65"/></g>
<ellipse cx="351.5" cy="862" rx="11" ry="13" fill="#3a1806" fill-opacity="0.8" filter="url(#fe12_4)"/>
<ellipse cx="370.5" cy="791" rx="8" ry="5" fill="#3a1806" fill-opacity="0.8" filter="url(#fe12_5)"/>
<ellipse cx="467.5" cy="841" rx="13" ry="16" fill="#3a1806" fill-opacity="0.75" filter="url(#fe12_6)"/>
<ellipse cx="399.5" cy="858" rx="5" ry="5" fill="#3a1806" fill-opacity="0.7" filter="url(#fe12_7)"/>
<ellipse cx="437.5" cy="845" rx="7" ry="9" fill="#4a2008" fill-opacity="0.5" filter="url(#fe12_8)"/>
<ellipse cx="428.5" cy="799" rx="6" ry="4" fill="#4a2008" fill-opacity="0.5" filter="url(#fe12_9)"/>
<ellipse cx="416.5" cy="814" rx="4" ry="3" fill="#4a2008" fill-opacity="0.5" filter="url(#fe12_10)"/>
<g mask="url(#me12_11)"><rect x="328.5" y="769" width="153.50" height="115.00" filter="url(#fe12_11)"/></g>
<g mask="url(#me12_12)"><rect x="328.5" y="769" width="153.50" height="115.00" filter="url(#fe12_12)"/></g>
<g mask="url(#me12_13)"><rect x="328.5" y="769" width="153.50" height="115.00" filter="url(#fe12_13)"/></g>
</g>
<g clip-path="url(#ce13)">
<rect x="484.3" y="769" width="153.70" height="115.00" fill="#d6d5d4"/>
<g><g transform="rotate(35 561.1 826.5)"><rect x="451.1" y="716.5" width="220" height="220" filter="url(#fe13_0)"/></g></g>
<g><rect x="484.3" y="769" width="153.70" height="115.00" fill="url(#pe13_1)" fill-opacity="0.75"/></g>
<g><g transform="rotate(30 561.1 826.5)"><rect x="451.1" y="716.5" width="220" height="220" filter="url(#fe13_2)"/></g></g>
<g><rect x="484.3" y="769" width="153.70" height="115.00" filter="url(#fe13_3)"/></g>
<g mask="url(#me13_4)"><rect x="484.3" y="769" width="153.70" height="115.00" filter="url(#fe13_4)"/></g>
<ellipse cx="629.3" cy="869" rx="15" ry="18" fill="#e8e4e0" fill-opacity="0.5" filter="url(#fe13_5)"/>
<ellipse cx="554.3" cy="829" rx="40" ry="10" fill="#e4e2e0" fill-opacity="0.2" filter="url(#fe13_6)" transform="rotate(-25 554.3 829)"/>
</g>
<rect x="22.3" y="762.2" width="23.7" height="3.8" fill="#e8301e"/>
<rect x="178.8" y="762.2" width="36.2" height="3.8" fill="#e8301e"/>
<rect x="329.8" y="762.2" width="19.2" height="3.8" fill="#e8301e"/>
<rect x="485.5" y="762.2" width="29.5" height="3.8" fill="#e8301e"/>
<rect x="22" y="879.1" width="31.4" height="3.8" fill="#e8301e"/>
<rect x="178.7" y="879.1" width="19.3" height="3.8" fill="#e8301e"/>
<rect x="329.4" y="879.1" width="20.6" height="3.8" fill="#e8301e"/>
<rect x="485" y="879.1" width="22.0" height="3.8" fill="#e8301e"/>
<text x="93.7" y="648" font-size="8.5" font-weight="bold" text-anchor="middle" fill="#111">WNT</text>
<text x="247.5" y="648" font-size="8.5" font-weight="bold" text-anchor="middle" fill="#111">SSH</text>
<text x="410.5" y="647.7" font-size="8.5" font-weight="bold" text-anchor="middle" fill="#111">Gr. 3</text>
<text x="564" y="649.3" font-size="8.5" font-weight="bold" text-anchor="middle" fill="#111">Gr. 4</text>
<text transform="translate(15.9,715.3) rotate(-90)" font-size="8.7" font-weight="bold" text-anchor="middle" fill="#111">HLA I</text>
<text transform="translate(15.9,822.8) rotate(-90)" font-size="8.7" font-weight="bold" text-anchor="middle" fill="#111">HLA II</text>
</svg></body></html>
